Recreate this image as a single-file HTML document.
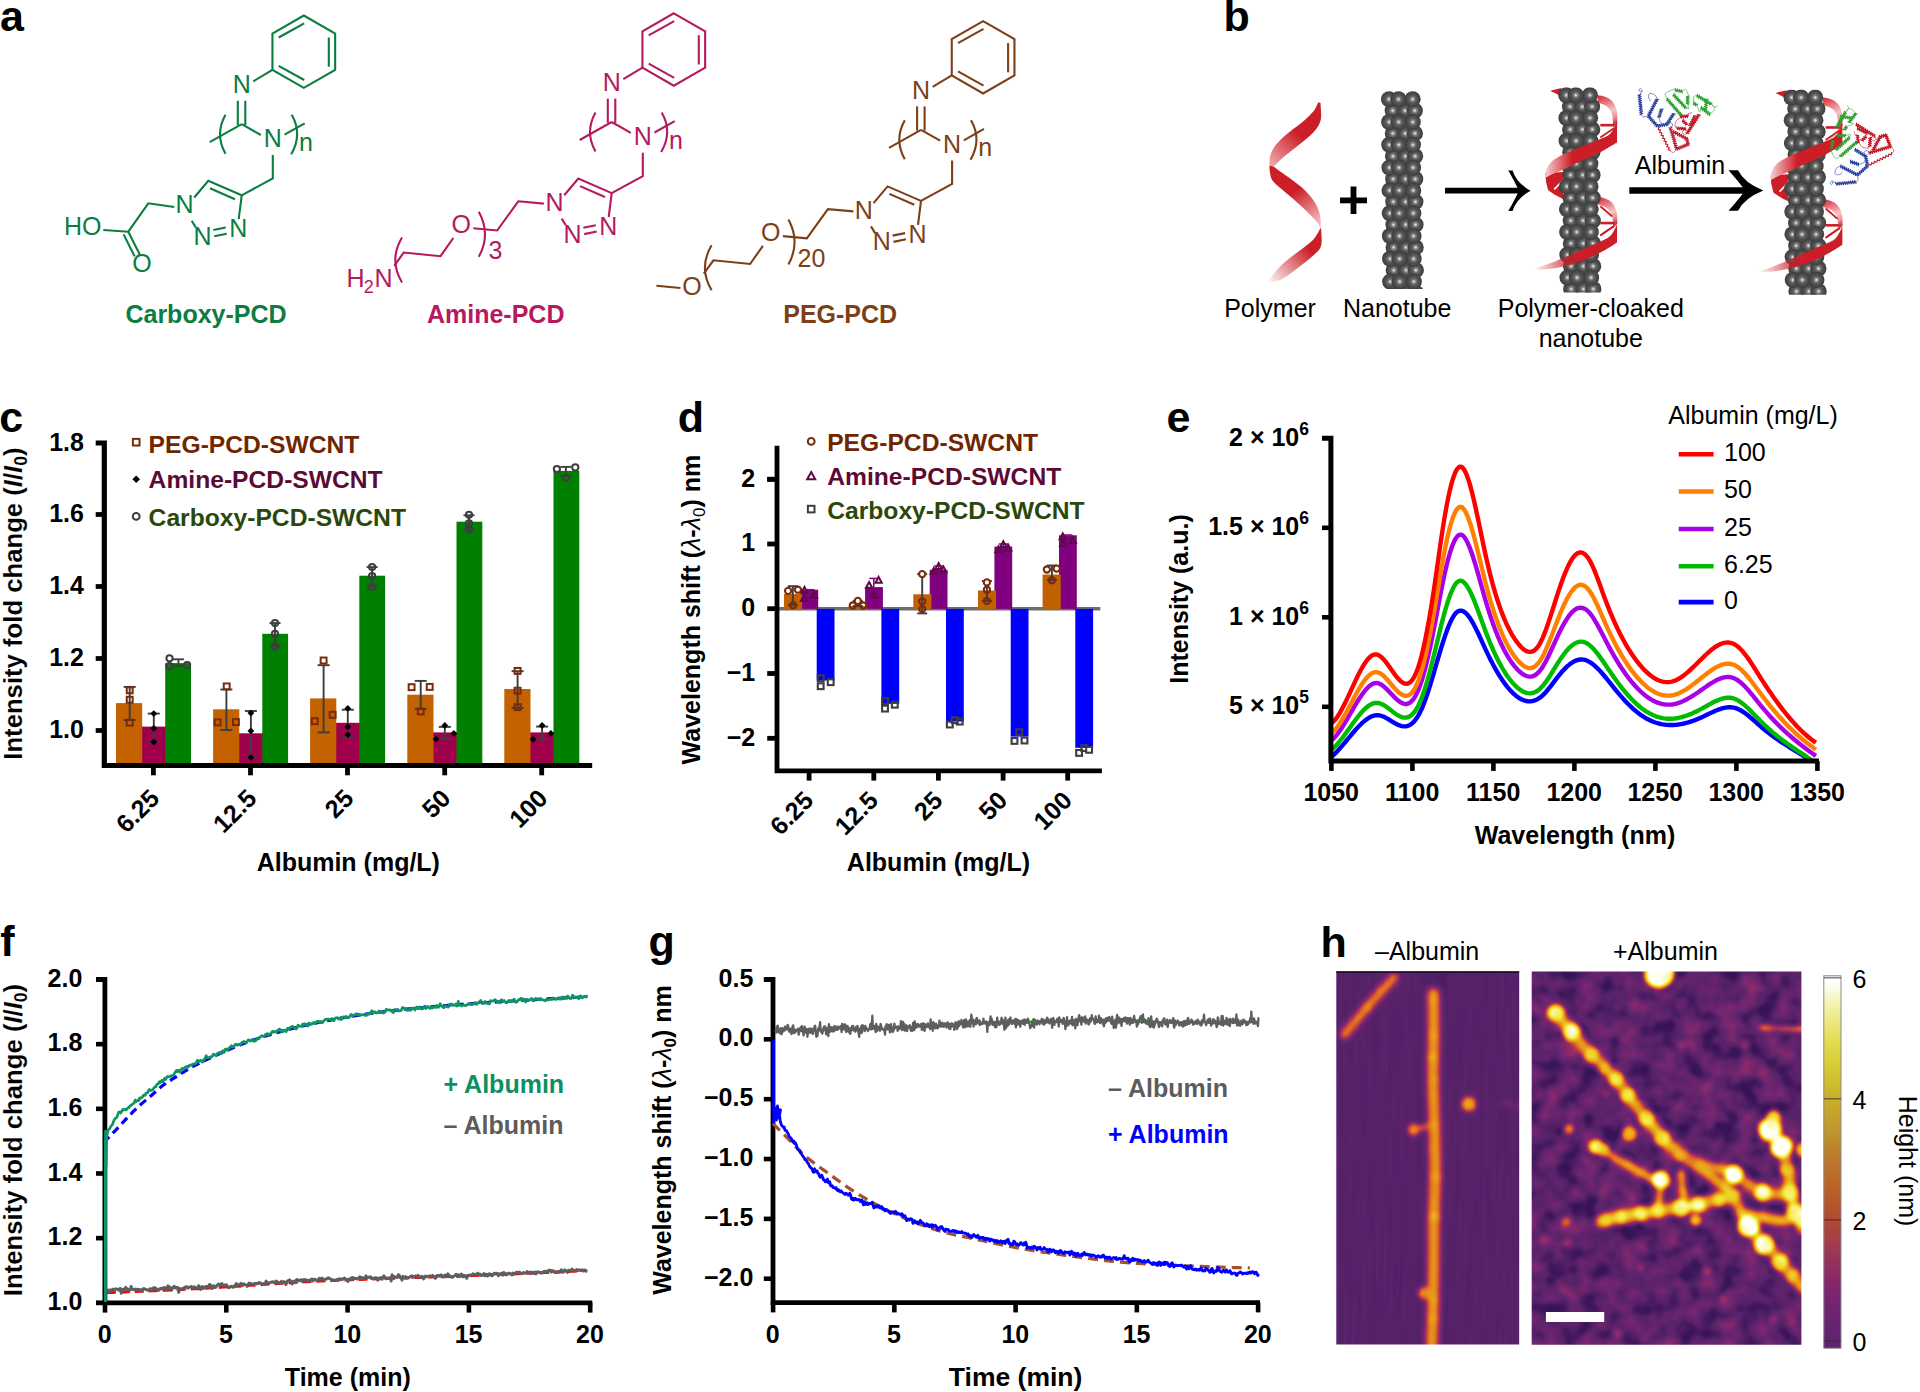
<!DOCTYPE html>
<html lang="en"><head><meta charset="utf-8"><title>Figure</title>
<style>
html,body{margin:0;padding:0;background:#fff;}
body{width:1920px;height:1392px;overflow:hidden;}
svg{display:block;font-family:'Liberation Sans', Arial, Helvetica, sans-serif;}
</style></head><body>
<svg width="1920" height="1392" viewBox="0 0 1920 1392">
<rect width="1920" height="1392" fill="#fff"/>
<g id="pa">
<text x="0" y="30.5" font-size="43" font-weight="bold" >a</text>
<g fill="none" stroke="#0b7d40" stroke-width="2.1" stroke-linejoin="miter">
<g style="fill:#0b7d40;stroke:none">
</g>
<polygon points="303.8,15.5 335.15,33.6 335.15,69.8 303.8,87.9 272.45,69.8 272.45,33.6"/>
<line x1="278.7" y1="37.5" x2="304.2" y2="23.3" />
<line x1="328.8" y1="37.5" x2="328.8" y2="66.7" />
<line x1="278.7" y1="65.8" x2="304.2" y2="80" />
<line x1="253.3" y1="81.3" x2="272.45" y2="69.8" />
<text fill="#0b7d40" stroke="none" x="241.7" y="93.15" font-size="25" text-anchor="middle" >N</text>
<line x1="237.8" y1="100.8" x2="237.8" y2="125" />
<line x1="245.3" y1="100.8" x2="245.3" y2="125" />
<line x1="241.7" y1="124.2" x2="209.7" y2="142.2" />
<line x1="241.7" y1="124.2" x2="260.8" y2="135" />
<text fill="#0b7d40" stroke="none" x="272.8" y="147.25" font-size="25" text-anchor="middle" >N</text>
<line x1="284.5" y1="134.7" x2="304.7" y2="123.3" />
<path d="M225.5 114.7Q214.5 134.2 225.5 153.7"/>
<path d="M291.7 114.7Q302.9 134.2 291.2 154.2"/>
<text fill="#0b7d40" stroke="none" x="298.9" y="150.8" font-size="25" >n</text>
<polyline points="272.8,155 272.8,178.3 241.7,195.3"/>
<polyline points="194.2,197.5 208.3,180.8 241.7,195.3"/>
<line x1="210" y1="188.3" x2="235" y2="199.2" />
<line x1="241.7" y1="195.3" x2="238.7" y2="219.2" />
<text fill="#0b7d40" stroke="none" x="184.5" y="213.15" font-size="25" text-anchor="middle" >N</text>
<text fill="#0b7d40" stroke="none" x="202.5" y="244.75" font-size="25" text-anchor="middle" >N</text>
<text fill="#0b7d40" stroke="none" x="238.3" y="237.25" font-size="25" text-anchor="middle" >N</text>
<line x1="191.7" y1="220.8" x2="195.8" y2="227.5" />
<line x1="213.3" y1="230" x2="225.8" y2="227.5" />
<line x1="214.2" y1="236.3" x2="226.7" y2="233.7" />
<polyline points="174.2,207 148.3,203.3 128.3,231.7 103.3,230"/>
<line x1="128.3" y1="231.7" x2="140" y2="255" />
<line x1="123.6" y1="234.4" x2="134.6" y2="256.4" />
<text x="101.5" y="235.1" font-size="25" text-anchor="end" fill="#0b7d40" stroke="none">HO</text>
<text fill="#0b7d40" stroke="none" x="142" y="272.25" font-size="25" text-anchor="middle" >O</text>
</g>
<text x="206" y="323.3" font-size="25" text-anchor="middle" font-weight="bold" fill="#0b7d40" >Carboxy-PCD</text>
<g fill="none" stroke="#b5195e" stroke-width="2.1">
<polygon points="673.8,13.3 705.15,31.4 705.15,67.6 673.8,85.7 642.45,67.6 642.45,31.4"/>
<line x1="648.7" y1="35.3" x2="674.2" y2="21.1" />
<line x1="698.8" y1="35.3" x2="698.8" y2="64.5" />
<line x1="648.7" y1="63.6" x2="674.2" y2="77.8" />
<line x1="623.3" y1="79.1" x2="642.45" y2="67.6" />
<text fill="#b5195e" stroke="none" x="611.7" y="90.95" font-size="25" text-anchor="middle" >N</text>
<line x1="607.8" y1="98.6" x2="607.8" y2="122.8" />
<line x1="615.3" y1="98.6" x2="615.3" y2="122.8" />
<line x1="611.7" y1="122" x2="579.7" y2="140" />
<line x1="611.7" y1="122" x2="630.8" y2="132.8" />
<text fill="#b5195e" stroke="none" x="642.8" y="145.05" font-size="25" text-anchor="middle" >N</text>
<line x1="654.5" y1="132.5" x2="674.7" y2="121.1" />
<path d="M595.5 112.5Q584.5 132 595.5 151.5"/>
<path d="M661.7 112.5Q672.9 132 661.2 152"/>
<text fill="#b5195e" stroke="none" x="668.9" y="148.6" font-size="25" >n</text>
<polyline points="642.8,152.8 642.8,176.1 611.7,193.1"/>
<polyline points="564.2,195.3 578.3,178.6 611.7,193.1"/>
<line x1="580" y1="186.1" x2="605" y2="197" />
<line x1="611.7" y1="193.1" x2="608.7" y2="217" />
<text fill="#b5195e" stroke="none" x="554.5" y="210.95" font-size="25" text-anchor="middle" >N</text>
<text fill="#b5195e" stroke="none" x="572.5" y="242.55" font-size="25" text-anchor="middle" >N</text>
<text fill="#b5195e" stroke="none" x="608.3" y="235.05" font-size="25" text-anchor="middle" >N</text>
<line x1="561.7" y1="218.6" x2="565.8" y2="225.3" />
<line x1="583.3" y1="227.8" x2="595.8" y2="225.3" />
<line x1="584.2" y1="234.1" x2="596.7" y2="231.5" />
<polyline points="543.8,203.6 518.3,201.3 497.2,230.5 473.3,228.3"/>
<text fill="#b5195e" stroke="none" x="461.2" y="233.15" font-size="25" text-anchor="middle" >O</text>
<polyline points="453.3,238 440.5,256.2 403.8,252.5 394.2,265.8"/>
<path d="M402 237.5Q388.6 260 402 282.5"/>
<path d="M478.8 211.7Q491.2 234.2 478.8 256.7"/>
<text x="488.5" y="259.2" font-size="25" fill="#b5195e" stroke="none">3</text>
<text x="346.5" y="286.7" font-size="25" fill="#b5195e" stroke="none">H</text>
<text x="363.8" y="292.7" font-size="18" fill="#b5195e" stroke="none">2</text>
<text x="374.6" y="286.7" font-size="25" fill="#b5195e" stroke="none">N</text>
</g>
<text x="495.7" y="323.3" font-size="25" text-anchor="middle" font-weight="bold" fill="#b5195e" >Amine-PCD</text>
<g fill="none" stroke="#7d3f18" stroke-width="2.1">
<polygon points="983.1,21.1 1014.45,39.2 1014.45,75.4 983.1,93.5 951.75,75.4 951.75,39.2"/>
<line x1="958" y1="43.1" x2="983.5" y2="28.9" />
<line x1="1008.1" y1="43.1" x2="1008.1" y2="72.3" />
<line x1="958" y1="71.4" x2="983.5" y2="85.6" />
<line x1="932.6" y1="86.9" x2="951.75" y2="75.4" />
<text fill="#7d3f18" stroke="none" x="921" y="98.75" font-size="25" text-anchor="middle" >N</text>
<line x1="917.1" y1="106.4" x2="917.1" y2="130.6" />
<line x1="924.6" y1="106.4" x2="924.6" y2="130.6" />
<line x1="921" y1="129.8" x2="889" y2="147.8" />
<line x1="921" y1="129.8" x2="940.1" y2="140.6" />
<text fill="#7d3f18" stroke="none" x="952.1" y="152.85" font-size="25" text-anchor="middle" >N</text>
<line x1="963.8" y1="140.3" x2="984" y2="128.9" />
<path d="M904.8 120.3Q893.8 139.8 904.8 159.3"/>
<path d="M971 120.3Q982.2 139.8 970.5 159.8"/>
<text fill="#7d3f18" stroke="none" x="978.2" y="156.4" font-size="25" >n</text>
<polyline points="952.1,160.6 952.1,183.9 921,200.9"/>
<polyline points="873.5,203.1 887.6,186.4 921,200.9"/>
<line x1="889.3" y1="193.9" x2="914.3" y2="204.8" />
<line x1="921" y1="200.9" x2="918" y2="224.8" />
<text fill="#7d3f18" stroke="none" x="863.8" y="218.75" font-size="25" text-anchor="middle" >N</text>
<text fill="#7d3f18" stroke="none" x="881.8" y="250.35" font-size="25" text-anchor="middle" >N</text>
<text fill="#7d3f18" stroke="none" x="917.6" y="242.85" font-size="25" text-anchor="middle" >N</text>
<line x1="871" y1="226.4" x2="875.1" y2="233.1" />
<line x1="892.6" y1="235.6" x2="905.1" y2="233.1" />
<line x1="893.5" y1="241.9" x2="906" y2="239.3" />
<polyline points="853.4,211.4 827.9,209.1 806.8,238.3 782.9,236.1"/>
<text fill="#7d3f18" stroke="none" x="770.8" y="240.95" font-size="25" text-anchor="middle" >O</text>
<polyline points="762.9,245.8 750.1,264 713.4,260.3 703.8,273.6"/>
<path d="M711.6 245.3Q698.2 267.8 711.6 290.3"/>
<path d="M788.4 219.5Q800.8 242 788.4 264.5"/>
<text x="797.6" y="267.2" font-size="25" fill="#7d3f18" stroke="none">20</text>
<text fill="#7d3f18" stroke="none" x="692.1" y="295.35" font-size="25" text-anchor="middle" >O</text>
<line x1="680.5" y1="288" x2="656.4" y2="285.8" />
</g>
<text x="840.2" y="322.7" font-size="25" text-anchor="middle" font-weight="bold" fill="#7d3f18" >PEG-PCD</text>
</g>
<g id="pb">
<defs>
<radialGradient id="sph" cx="0.5" cy="0.5" r="0.5" fx="0.5" fy="0.5"><stop offset="0" stop-color="#f4f4f4"/><stop offset="0.1" stop-color="#c6c6c6"/><stop offset="0.26" stop-color="#7e7e7e"/><stop offset="0.5" stop-color="#555555"/><stop offset="0.8" stop-color="#474747"/><stop offset="1" stop-color="#3b3b3b"/></radialGradient>
<linearGradient id="rs1" gradientUnits="userSpaceOnUse" x1="1270" y1="165" x2="1300" y2="135"><stop offset="0" stop-color="#f0a8ae"/><stop offset="1" stop-color="#cc1e26"/></linearGradient>
<linearGradient id="rs2" gradientUnits="userSpaceOnUse" x1="1296" y1="190" x2="1321" y2="222"><stop offset="0" stop-color="#cc1e26"/><stop offset="1" stop-color="#f4bcc1"/></linearGradient>
<linearGradient id="rs3" gradientUnits="userSpaceOnUse" x1="1268" y1="284" x2="1308" y2="248"><stop offset="0" stop-color="#cc1e26" stop-opacity="0"/><stop offset="1" stop-color="#cc1e26"/></linearGradient>
<linearGradient id="fr1_0" gradientUnits="userSpaceOnUse" x1="1546" y1="0" x2="1572" y2="0"><stop offset="0" stop-color="#f7c9cd"/><stop offset="1" stop-color="#cc1e26"/></linearGradient>
<linearGradient id="fr2_0" gradientUnits="userSpaceOnUse" x1="1533" y1="0" x2="1578" y2="0"><stop offset="0" stop-color="#cc1e26" stop-opacity="0"/><stop offset="1" stop-color="#cc1e26"/></linearGradient>
<linearGradient id="fr1_1" gradientUnits="userSpaceOnUse" x1="1771.3" y1="0" x2="1797.3" y2="0"><stop offset="0" stop-color="#f7c9cd"/><stop offset="1" stop-color="#cc1e26"/></linearGradient>
<linearGradient id="fr2_1" gradientUnits="userSpaceOnUse" x1="1758.3" y1="0" x2="1803.3" y2="0"><stop offset="0" stop-color="#cc1e26" stop-opacity="0"/><stop offset="1" stop-color="#cc1e26"/></linearGradient>
<linearGradient id="blg0" x1="0" y1="0" x2="0.25" y2="1"><stop offset="0" stop-color="#d02a34"/><stop offset="0.3" stop-color="#e4757c"/><stop offset="0.62" stop-color="#f6c6ca"/><stop offset="0.85" stop-color="#e88d93"/><stop offset="1" stop-color="#d23a43"/></linearGradient>
<linearGradient id="blg1" x1="0" y1="0" x2="0.25" y2="1"><stop offset="0" stop-color="#d02a34"/><stop offset="0.3" stop-color="#e4757c"/><stop offset="0.62" stop-color="#f6c6ca"/><stop offset="0.85" stop-color="#e88d93"/><stop offset="1" stop-color="#d23a43"/></linearGradient>
<clipPath id="tclip0"><rect x="-30" y="-9" width="60" height="198.8"/></clipPath>
<clipPath id="tclip"><rect x="-30" y="-8" width="60" height="205.3"/></clipPath>
</defs>
<text x="1223.5" y="30.5" font-size="43" font-weight="bold" >b</text>
<path d="M1318.3 102.13C1317.46 103.72 1315.93 108.25 1313.24 111.62C1310.55 114.99 1306.65 118.55 1302.17 122.37C1297.69 126.19 1290.84 130.67 1286.36 134.55C1281.88 138.42 1277.98 142.06 1275.3 145.61C1272.61 149.17 1271.21 152.6 1270.24 155.89C1269.26 159.18 1269.58 163.79 1269.45 165.38L1273.72 166.64C1275.03 165.32 1277.67 162.16 1281.62 158.74C1285.57 155.31 1292.16 150.46 1297.43 146.09C1302.7 141.71 1309.37 136.79 1313.24 132.49C1317.11 128.19 1319.46 125.24 1320.67 120.32C1321.88 115.39 1320.54 105.82 1320.51 102.92Z" fill="url(#rs1)"/>
<path d="M1273.72 166.64C1276.35 168.54 1284.26 174.02 1289.53 178.02C1294.8 182.03 1300.86 186.19 1305.34 190.67C1309.82 195.15 1313.9 200.42 1316.4 204.9C1318.91 209.38 1319.64 213.73 1320.36 217.55C1321.07 221.37 1320.62 226.11 1320.67 227.83L1320.67 228.62C1319.96 227.43 1318.96 224.61 1316.4 221.5C1313.85 218.39 1309.82 214.26 1305.34 209.96C1300.86 205.67 1294.8 200.4 1289.53 195.73C1284.26 191.07 1276.93 185.59 1273.72 181.98C1270.5 178.37 1270.95 176.84 1270.24 174.07C1269.53 171.3 1269.58 166.82 1269.45 165.38Z" fill="url(#rs2)"/>
<path d="M1320.67 227.83C1319.43 229.8 1317.11 235.6 1313.24 239.68C1309.37 243.77 1302.7 248.12 1297.43 252.33C1292.16 256.55 1286.63 260.08 1281.62 264.98C1276.61 269.88 1269.76 278.95 1267.39 281.74L1267.39 282.85C1269.76 282.24 1276.61 281.66 1281.62 279.21C1286.63 276.76 1292.16 272.09 1297.43 268.14C1302.7 264.19 1309.31 259.18 1313.24 255.49C1317.17 251.81 1319.64 250.22 1320.99 246.01C1322.33 241.79 1321.25 232.83 1321.3 230.2Z" fill="url(#rs3)"/>
<line x1="1340" y1="200.4" x2="1367" y2="200.4" stroke="#000" stroke-width="5.8"/>
<line x1="1353.5" y1="186.5" x2="1353.5" y2="214" stroke="#000" stroke-width="5.8"/>
<g transform="translate(1403 99.2)" clip-path="url(#tclip0)"><g>
<circle cx="-10.3" cy="11.4" r="8.05" fill="url(#sph)"/>
<circle cx="2" cy="11.4" r="8.05" fill="url(#sph)"/>
<circle cx="11.8" cy="11.4" r="8.05" fill="url(#sph)"/>
<circle cx="-10.15" cy="34.2" r="8.05" fill="url(#sph)"/>
<circle cx="2.15" cy="34.2" r="8.05" fill="url(#sph)"/>
<circle cx="11.95" cy="34.2" r="8.05" fill="url(#sph)"/>
<circle cx="-10" cy="57" r="8.05" fill="url(#sph)"/>
<circle cx="2.3" cy="57" r="8.05" fill="url(#sph)"/>
<circle cx="12.1" cy="57" r="8.05" fill="url(#sph)"/>
<circle cx="-9.85" cy="79.8" r="8.05" fill="url(#sph)"/>
<circle cx="2.45" cy="79.8" r="8.05" fill="url(#sph)"/>
<circle cx="12.25" cy="79.8" r="8.05" fill="url(#sph)"/>
<circle cx="-9.7" cy="102.6" r="8.05" fill="url(#sph)"/>
<circle cx="2.6" cy="102.6" r="8.05" fill="url(#sph)"/>
<circle cx="12.4" cy="102.6" r="8.05" fill="url(#sph)"/>
<circle cx="-9.55" cy="125.4" r="8.05" fill="url(#sph)"/>
<circle cx="2.75" cy="125.4" r="8.05" fill="url(#sph)"/>
<circle cx="12.55" cy="125.4" r="8.05" fill="url(#sph)"/>
<circle cx="-9.4" cy="148.2" r="8.05" fill="url(#sph)"/>
<circle cx="2.9" cy="148.2" r="8.05" fill="url(#sph)"/>
<circle cx="12.7" cy="148.2" r="8.05" fill="url(#sph)"/>
<circle cx="-9.25" cy="171" r="8.05" fill="url(#sph)"/>
<circle cx="3.05" cy="171" r="8.05" fill="url(#sph)"/>
<circle cx="12.85" cy="171" r="8.05" fill="url(#sph)"/>
<circle cx="-9.1" cy="193.8" r="8.05" fill="url(#sph)"/>
<circle cx="3.2" cy="193.8" r="8.05" fill="url(#sph)"/>
<circle cx="13" cy="193.8" r="8.05" fill="url(#sph)"/>
<circle cx="-14" cy="0" r="8.05" fill="url(#sph)"/>
<circle cx="9.6" cy="0" r="8.05" fill="url(#sph)"/>
<circle cx="-4.5" cy="0" r="8.05" fill="url(#sph)"/>
<circle cx="-13.85" cy="22.8" r="8.05" fill="url(#sph)"/>
<circle cx="9.75" cy="22.8" r="8.05" fill="url(#sph)"/>
<circle cx="-4.35" cy="22.8" r="8.05" fill="url(#sph)"/>
<circle cx="-13.7" cy="45.6" r="8.05" fill="url(#sph)"/>
<circle cx="9.9" cy="45.6" r="8.05" fill="url(#sph)"/>
<circle cx="-4.2" cy="45.6" r="8.05" fill="url(#sph)"/>
<circle cx="-13.55" cy="68.4" r="8.05" fill="url(#sph)"/>
<circle cx="10.05" cy="68.4" r="8.05" fill="url(#sph)"/>
<circle cx="-4.05" cy="68.4" r="8.05" fill="url(#sph)"/>
<circle cx="-13.4" cy="91.2" r="8.05" fill="url(#sph)"/>
<circle cx="10.2" cy="91.2" r="8.05" fill="url(#sph)"/>
<circle cx="-3.9" cy="91.2" r="8.05" fill="url(#sph)"/>
<circle cx="-13.25" cy="114" r="8.05" fill="url(#sph)"/>
<circle cx="10.35" cy="114" r="8.05" fill="url(#sph)"/>
<circle cx="-3.75" cy="114" r="8.05" fill="url(#sph)"/>
<circle cx="-13.1" cy="136.8" r="8.05" fill="url(#sph)"/>
<circle cx="10.5" cy="136.8" r="8.05" fill="url(#sph)"/>
<circle cx="-3.6" cy="136.8" r="8.05" fill="url(#sph)"/>
<circle cx="-12.95" cy="159.6" r="8.05" fill="url(#sph)"/>
<circle cx="10.65" cy="159.6" r="8.05" fill="url(#sph)"/>
<circle cx="-3.45" cy="159.6" r="8.05" fill="url(#sph)"/>
<circle cx="-12.8" cy="182.4" r="8.05" fill="url(#sph)"/>
<circle cx="10.8" cy="182.4" r="8.05" fill="url(#sph)"/>
<circle cx="-3.3" cy="182.4" r="8.05" fill="url(#sph)"/>
</g></g>
<line x1="1445" y1="190.7" x2="1521.68" y2="190.7" stroke="#000" stroke-width="5.8"/><path d="M1508.3 170.4L1512.5 170.4Q1516.51 182.99 1530.6 190.7Q1516.51 198.41 1512.5 211L1508.3 211Q1514.99 199.23 1519 190.7Q1514.99 182.17 1508.3 170.4Z" fill="#000"/>
<polygon points="1550.17,90.69 1561.38,87.93 1561.38,96.21" fill="#cc1e26"/>
<path d="M1597.59 95.17C1609.66 95.86 1616.9 102.76 1617.24 115.17L1617.24 123.45L1613.28 127.76L1612.76 119.14C1612.24 108.79 1606.21 104.14 1597.59 103.1Z" fill="url(#blg0)"/>
<line x1="1600.34" y1="125.17" x2="1613.97" y2="125.17" stroke="#cc1e26" stroke-width="2.6"/>
<line x1="1600.34" y1="137.59" x2="1613.97" y2="128.28" stroke="#cc1e26" stroke-width="1.8"/>
<path d="M1597.59 196.9C1609.66 197.59 1616.9 204.48 1617.24 216.9L1617.24 223.65L1613.28 227.96L1612.76 220.86C1612.24 210.52 1606.21 205.86 1597.59 204.83Z" fill="url(#blg1)"/>
<line x1="1600.34" y1="223.03" x2="1613.97" y2="223.03" stroke="#cc1e26" stroke-width="2.6"/>
<line x1="1600.34" y1="235.44" x2="1613.97" y2="226.13" stroke="#cc1e26" stroke-width="1.8"/>
<line x1="1600.34" y1="206.21" x2="1612.24" y2="216.55" stroke="#cc1e26" stroke-width="1.8"/>
<line x1="1600.34" y1="235.52" x2="1613.97" y2="226.03" stroke="#cc1e26" stroke-width="1.8"/>
<path d="M1545.34 173.1L1563.1 172.07L1563.1 198.97Q1555.34 195.52 1548.1 190.17Q1545.34 182.07 1545.34 173.1Z" fill="#cc1e26"/>
<line x1="1554.14" y1="189.31" x2="1563.1" y2="180.34" stroke="#fff" stroke-width="1.6"/>
<g transform="translate(1580.3 95.2)" clip-path="url(#tclip)"><g>
<circle cx="-10.3" cy="11.4" r="8.05" fill="url(#sph)"/>
<circle cx="2" cy="11.4" r="8.05" fill="url(#sph)"/>
<circle cx="11.8" cy="11.4" r="8.05" fill="url(#sph)"/>
<circle cx="-10.15" cy="34.2" r="8.05" fill="url(#sph)"/>
<circle cx="2.15" cy="34.2" r="8.05" fill="url(#sph)"/>
<circle cx="11.95" cy="34.2" r="8.05" fill="url(#sph)"/>
<circle cx="-10" cy="57" r="8.05" fill="url(#sph)"/>
<circle cx="2.3" cy="57" r="8.05" fill="url(#sph)"/>
<circle cx="12.1" cy="57" r="8.05" fill="url(#sph)"/>
<circle cx="-9.85" cy="79.8" r="8.05" fill="url(#sph)"/>
<circle cx="2.45" cy="79.8" r="8.05" fill="url(#sph)"/>
<circle cx="12.25" cy="79.8" r="8.05" fill="url(#sph)"/>
<circle cx="-9.7" cy="102.6" r="8.05" fill="url(#sph)"/>
<circle cx="2.6" cy="102.6" r="8.05" fill="url(#sph)"/>
<circle cx="12.4" cy="102.6" r="8.05" fill="url(#sph)"/>
<circle cx="-9.55" cy="125.4" r="8.05" fill="url(#sph)"/>
<circle cx="2.75" cy="125.4" r="8.05" fill="url(#sph)"/>
<circle cx="12.55" cy="125.4" r="8.05" fill="url(#sph)"/>
<circle cx="-9.4" cy="148.2" r="8.05" fill="url(#sph)"/>
<circle cx="2.9" cy="148.2" r="8.05" fill="url(#sph)"/>
<circle cx="12.7" cy="148.2" r="8.05" fill="url(#sph)"/>
<circle cx="-9.25" cy="171" r="8.05" fill="url(#sph)"/>
<circle cx="3.05" cy="171" r="8.05" fill="url(#sph)"/>
<circle cx="12.85" cy="171" r="8.05" fill="url(#sph)"/>
<circle cx="-9.1" cy="193.8" r="8.05" fill="url(#sph)"/>
<circle cx="3.2" cy="193.8" r="8.05" fill="url(#sph)"/>
<circle cx="13" cy="193.8" r="8.05" fill="url(#sph)"/>
<circle cx="-14" cy="0" r="8.05" fill="url(#sph)"/>
<circle cx="9.6" cy="0" r="8.05" fill="url(#sph)"/>
<circle cx="-4.5" cy="0" r="8.05" fill="url(#sph)"/>
<circle cx="-13.85" cy="22.8" r="8.05" fill="url(#sph)"/>
<circle cx="9.75" cy="22.8" r="8.05" fill="url(#sph)"/>
<circle cx="-4.35" cy="22.8" r="8.05" fill="url(#sph)"/>
<circle cx="-13.7" cy="45.6" r="8.05" fill="url(#sph)"/>
<circle cx="9.9" cy="45.6" r="8.05" fill="url(#sph)"/>
<circle cx="-4.2" cy="45.6" r="8.05" fill="url(#sph)"/>
<circle cx="-13.55" cy="68.4" r="8.05" fill="url(#sph)"/>
<circle cx="10.05" cy="68.4" r="8.05" fill="url(#sph)"/>
<circle cx="-4.05" cy="68.4" r="8.05" fill="url(#sph)"/>
<circle cx="-13.4" cy="91.2" r="8.05" fill="url(#sph)"/>
<circle cx="10.2" cy="91.2" r="8.05" fill="url(#sph)"/>
<circle cx="-3.9" cy="91.2" r="8.05" fill="url(#sph)"/>
<circle cx="-13.25" cy="114" r="8.05" fill="url(#sph)"/>
<circle cx="10.35" cy="114" r="8.05" fill="url(#sph)"/>
<circle cx="-3.75" cy="114" r="8.05" fill="url(#sph)"/>
<circle cx="-13.1" cy="136.8" r="8.05" fill="url(#sph)"/>
<circle cx="10.5" cy="136.8" r="8.05" fill="url(#sph)"/>
<circle cx="-3.6" cy="136.8" r="8.05" fill="url(#sph)"/>
<circle cx="-12.95" cy="159.6" r="8.05" fill="url(#sph)"/>
<circle cx="10.65" cy="159.6" r="8.05" fill="url(#sph)"/>
<circle cx="-3.45" cy="159.6" r="8.05" fill="url(#sph)"/>
<circle cx="-12.8" cy="182.4" r="8.05" fill="url(#sph)"/>
<circle cx="10.8" cy="182.4" r="8.05" fill="url(#sph)"/>
<circle cx="-3.3" cy="182.4" r="8.05" fill="url(#sph)"/>
</g></g>
<path d="M1617.07 121.03C1615.98 123.1 1613.62 130.34 1610.52 133.45C1607.41 136.55 1603.48 137.41 1598.45 139.66C1593.42 141.9 1586.24 144.43 1580.34 146.9C1574.45 149.37 1567.93 152.01 1563.1 154.48C1558.28 156.95 1554.31 158.91 1551.38 161.72C1548.45 164.54 1546.49 169.77 1545.52 171.38L1545.52 177.76C1546.72 177.13 1549.83 175.34 1552.76 173.97C1555.69 172.59 1558.51 171.58 1563.1 169.48C1567.7 167.39 1574.45 164.11 1580.34 161.38C1586.24 158.65 1592.33 156.26 1598.45 153.1C1604.57 149.94 1613.97 144.2 1617.07 142.41Z" fill="url(#fr1_0)"/>
<path d="M1617.07 224.31C1615.98 226.24 1613.62 232.84 1610.52 235.86C1607.41 238.88 1603.48 240.03 1598.45 242.41C1593.42 244.8 1586.24 247.59 1580.34 250.17C1574.45 252.76 1568.85 255.49 1563.1 257.93C1557.36 260.37 1551.03 262.93 1545.86 264.83C1540.69 266.72 1534.37 268.56 1532.07 269.31L1532.07 269.83C1534.37 269.74 1540.69 269.86 1545.86 269.31C1551.03 268.76 1557.36 267.87 1563.1 266.55C1568.85 265.23 1574.45 263.53 1580.34 261.38C1586.24 259.22 1594.14 255.63 1598.45 253.62C1602.76 251.61 1603.1 251.18 1606.21 249.31C1609.31 247.44 1615.26 243.56 1617.07 242.41Z" fill="url(#fr2_0)"/>
<polygon points="1775.47,92.99 1786.68,90.23 1786.68,98.51" fill="#cc1e26"/>
<path d="M1822.89 97.47C1834.96 98.16 1842.2 105.06 1842.54 117.47L1842.54 125.75L1838.58 130.06L1838.06 121.44C1837.54 111.09 1831.51 106.44 1822.89 105.4Z" fill="url(#blg0)"/>
<line x1="1825.64" y1="127.47" x2="1839.27" y2="127.47" stroke="#cc1e26" stroke-width="2.6"/>
<line x1="1825.64" y1="139.89" x2="1839.27" y2="130.58" stroke="#cc1e26" stroke-width="1.8"/>
<path d="M1822.89 199.2C1834.96 199.89 1842.2 206.78 1842.54 219.2L1842.54 225.95L1838.58 230.26L1838.06 223.16C1837.54 212.82 1831.51 208.16 1822.89 207.13Z" fill="url(#blg1)"/>
<line x1="1825.64" y1="225.33" x2="1839.27" y2="225.33" stroke="#cc1e26" stroke-width="2.6"/>
<line x1="1825.64" y1="237.74" x2="1839.27" y2="228.43" stroke="#cc1e26" stroke-width="1.8"/>
<line x1="1825.64" y1="208.51" x2="1837.54" y2="218.85" stroke="#cc1e26" stroke-width="1.8"/>
<line x1="1825.64" y1="237.82" x2="1839.27" y2="228.33" stroke="#cc1e26" stroke-width="1.8"/>
<path d="M1770.64 175.4L1788.4 174.37L1788.4 201.27Q1780.64 197.82 1773.4 192.47Q1770.64 184.37 1770.64 175.4Z" fill="#cc1e26"/>
<line x1="1779.44" y1="191.61" x2="1788.4" y2="182.64" stroke="#fff" stroke-width="1.6"/>
<g transform="translate(1805.6 97.5)" clip-path="url(#tclip)"><g>
<circle cx="-10.3" cy="11.4" r="8.05" fill="url(#sph)"/>
<circle cx="2" cy="11.4" r="8.05" fill="url(#sph)"/>
<circle cx="11.8" cy="11.4" r="8.05" fill="url(#sph)"/>
<circle cx="-10.15" cy="34.2" r="8.05" fill="url(#sph)"/>
<circle cx="2.15" cy="34.2" r="8.05" fill="url(#sph)"/>
<circle cx="11.95" cy="34.2" r="8.05" fill="url(#sph)"/>
<circle cx="-10" cy="57" r="8.05" fill="url(#sph)"/>
<circle cx="2.3" cy="57" r="8.05" fill="url(#sph)"/>
<circle cx="12.1" cy="57" r="8.05" fill="url(#sph)"/>
<circle cx="-9.85" cy="79.8" r="8.05" fill="url(#sph)"/>
<circle cx="2.45" cy="79.8" r="8.05" fill="url(#sph)"/>
<circle cx="12.25" cy="79.8" r="8.05" fill="url(#sph)"/>
<circle cx="-9.7" cy="102.6" r="8.05" fill="url(#sph)"/>
<circle cx="2.6" cy="102.6" r="8.05" fill="url(#sph)"/>
<circle cx="12.4" cy="102.6" r="8.05" fill="url(#sph)"/>
<circle cx="-9.55" cy="125.4" r="8.05" fill="url(#sph)"/>
<circle cx="2.75" cy="125.4" r="8.05" fill="url(#sph)"/>
<circle cx="12.55" cy="125.4" r="8.05" fill="url(#sph)"/>
<circle cx="-9.4" cy="148.2" r="8.05" fill="url(#sph)"/>
<circle cx="2.9" cy="148.2" r="8.05" fill="url(#sph)"/>
<circle cx="12.7" cy="148.2" r="8.05" fill="url(#sph)"/>
<circle cx="-9.25" cy="171" r="8.05" fill="url(#sph)"/>
<circle cx="3.05" cy="171" r="8.05" fill="url(#sph)"/>
<circle cx="12.85" cy="171" r="8.05" fill="url(#sph)"/>
<circle cx="-9.1" cy="193.8" r="8.05" fill="url(#sph)"/>
<circle cx="3.2" cy="193.8" r="8.05" fill="url(#sph)"/>
<circle cx="13" cy="193.8" r="8.05" fill="url(#sph)"/>
<circle cx="-14" cy="0" r="8.05" fill="url(#sph)"/>
<circle cx="9.6" cy="0" r="8.05" fill="url(#sph)"/>
<circle cx="-4.5" cy="0" r="8.05" fill="url(#sph)"/>
<circle cx="-13.85" cy="22.8" r="8.05" fill="url(#sph)"/>
<circle cx="9.75" cy="22.8" r="8.05" fill="url(#sph)"/>
<circle cx="-4.35" cy="22.8" r="8.05" fill="url(#sph)"/>
<circle cx="-13.7" cy="45.6" r="8.05" fill="url(#sph)"/>
<circle cx="9.9" cy="45.6" r="8.05" fill="url(#sph)"/>
<circle cx="-4.2" cy="45.6" r="8.05" fill="url(#sph)"/>
<circle cx="-13.55" cy="68.4" r="8.05" fill="url(#sph)"/>
<circle cx="10.05" cy="68.4" r="8.05" fill="url(#sph)"/>
<circle cx="-4.05" cy="68.4" r="8.05" fill="url(#sph)"/>
<circle cx="-13.4" cy="91.2" r="8.05" fill="url(#sph)"/>
<circle cx="10.2" cy="91.2" r="8.05" fill="url(#sph)"/>
<circle cx="-3.9" cy="91.2" r="8.05" fill="url(#sph)"/>
<circle cx="-13.25" cy="114" r="8.05" fill="url(#sph)"/>
<circle cx="10.35" cy="114" r="8.05" fill="url(#sph)"/>
<circle cx="-3.75" cy="114" r="8.05" fill="url(#sph)"/>
<circle cx="-13.1" cy="136.8" r="8.05" fill="url(#sph)"/>
<circle cx="10.5" cy="136.8" r="8.05" fill="url(#sph)"/>
<circle cx="-3.6" cy="136.8" r="8.05" fill="url(#sph)"/>
<circle cx="-12.95" cy="159.6" r="8.05" fill="url(#sph)"/>
<circle cx="10.65" cy="159.6" r="8.05" fill="url(#sph)"/>
<circle cx="-3.45" cy="159.6" r="8.05" fill="url(#sph)"/>
<circle cx="-12.8" cy="182.4" r="8.05" fill="url(#sph)"/>
<circle cx="10.8" cy="182.4" r="8.05" fill="url(#sph)"/>
<circle cx="-3.3" cy="182.4" r="8.05" fill="url(#sph)"/>
</g></g>
<path d="M1842.37 123.33C1841.28 125.4 1838.92 132.64 1835.82 135.75C1832.71 138.85 1828.78 139.71 1823.75 141.96C1818.72 144.2 1811.54 146.73 1805.64 149.2C1799.75 151.67 1793.23 154.31 1788.4 156.78C1783.58 159.25 1779.61 161.21 1776.68 164.02C1773.75 166.84 1771.79 172.07 1770.82 173.68L1770.82 180.06C1772.02 179.43 1775.13 177.64 1778.06 176.27C1780.99 174.89 1783.81 173.88 1788.4 171.78C1793 169.69 1799.75 166.41 1805.64 163.68C1811.54 160.95 1817.63 158.56 1823.75 155.4C1829.87 152.24 1839.27 146.5 1842.37 144.71Z" fill="url(#fr1_1)"/>
<path d="M1842.37 226.61C1841.28 228.54 1838.92 235.14 1835.82 238.16C1832.71 241.18 1828.78 242.33 1823.75 244.71C1818.72 247.1 1811.54 249.89 1805.64 252.47C1799.75 255.06 1794.15 257.79 1788.4 260.23C1782.66 262.67 1776.33 265.23 1771.16 267.13C1765.99 269.02 1759.67 270.86 1757.37 271.61L1757.37 272.13C1759.67 272.04 1765.99 272.16 1771.16 271.61C1776.33 271.06 1782.66 270.17 1788.4 268.85C1794.15 267.53 1799.75 265.83 1805.64 263.68C1811.54 261.52 1819.44 257.93 1823.75 255.92C1828.06 253.91 1828.4 253.48 1831.51 251.61C1834.61 249.74 1840.56 245.86 1842.37 244.71Z" fill="url(#fr2_1)"/>
<line x1="1629.3" y1="190.5" x2="1749.38" y2="190.5" stroke="#000" stroke-width="6.6"/><path d="M1728.5 170.2L1738 170.2Q1744.26 182.79 1763.3 190.5Q1744.26 198.21 1738 210.8L1728.5 210.8Q1738.94 199.03 1745.2 190.5Q1738.94 181.97 1728.5 170.2Z" fill="#000"/>
<g fill="none" stroke-linejoin="round" stroke-linecap="round">
<g stroke="#2c40a0">
<polyline points="1640.71,94.23 1638.13,95.56 1640.92,96.35 1638.34,97.68 1641.13,98.47 1638.55,99.8 1641.35,100.59 1638.77,101.91 1641.56,102.7 1638.98,104.03 1641.77,104.82 1639.19,106.15 1641.98,106.94 1639.4,108.27 1642.19,109.06 1639.61,110.38 1642.41,111.17 1639.82,112.5 1642.62,113.29 1640.04,114.62" stroke-width="1.25"/>
<polyline points="1658.38,99.59 1655.51,99.27 1657.43,101.44 1654.55,101.12 1656.47,103.29 1653.59,102.97 1655.51,105.14 1652.63,104.83 1654.55,106.99 1651.67,106.68 1653.59,108.84 1650.72,108.53 1652.64,110.7 1649.76,110.38 1651.68,112.55 1648.8,112.23 1650.72,114.4 1647.84,114.09 1649.76,116.25" stroke-width="1.25"/>
<polyline points="1663.06,109.16 1660.18,109.27 1662.42,111.08 1659.54,111.18 1661.79,112.99 1658.9,113.1 1661.15,114.91 1658.27,115.01 1660.51,116.83 1657.63,116.93" stroke-width="1.25"/>
<polyline points="1674.99,114.05 1672.13,113.52 1673.84,115.87 1670.99,115.34 1672.69,117.69 1669.84,117.16 1671.54,119.51 1668.69,118.98 1670.39,121.33 1667.54,120.8 1669.24,123.15 1666.39,122.62 1668.1,124.97" stroke-width="1.25"/>
<polyline points="1649,114.74 1647.69,117.32 1650.41,116.33 1649.1,118.92 1651.83,117.92 1650.52,120.51 1653.24,119.51 1651.93,122.1 1654.66,121.1 1653.35,123.69 1656.07,122.69 1654.76,125.28 1657.49,124.28 1656.17,126.87" stroke-width="1.25"/>
<polyline points="1656.96,124.65 1658.44,127.14 1659.03,124.3 1660.51,126.79 1661.1,123.96 1662.58,126.45 1663.17,123.61 1664.65,126.1 1665.24,123.27 1666.72,125.76 1667.31,122.92" stroke-width="1.25"/>
<path d="M1639.94 94.37C1640.33 93.79 1642.15 91.88 1642.24 90.92C1642.34 89.96 1641.09 88.72 1640.52 88.62C1639.94 88.52 1638.6 89.87 1638.79 90.34C1638.98 90.82 1641.19 91.3 1641.67 91.49" stroke-width="0.6"/>
<path d="M1657.18 98.97C1656.8 98.3 1656.13 95.85 1654.89 94.94C1653.64 94.03 1650.77 93.12 1649.71 93.51C1648.66 93.89 1648.47 96.04 1648.56 97.24C1648.66 98.44 1650 100.11 1650.29 100.69" stroke-width="0.6"/>
<path d="M1641.38 114.48C1641.71 114.87 1642.29 116.59 1643.39 116.78C1644.49 116.97 1647.22 115.82 1647.99 115.63" stroke-width="0.6"/>
<path d="M1658.91 117.36C1659.1 118.03 1659.48 120.33 1660.06 121.38C1660.63 122.43 1661.97 123.3 1662.36 123.68" stroke-width="0.6"/>
<path d="M1667.53 124.25C1668.1 123.97 1670.11 122.24 1670.98 122.53C1671.84 122.82 1673.08 125.11 1672.7 125.98C1672.32 126.84 1669.35 127.41 1668.68 127.7" stroke-width="0.6"/>
</g><g stroke="#2aa12c">
<polyline points="1675.25,88.73 1675.81,91.59 1677.39,89.14 1677.95,92 1679.52,89.55 1680.08,92.41 1681.66,89.96 1682.22,92.82" stroke-width="1.25"/>
<polyline points="1667.97,98.07 1666.64,100.65 1669.36,99.66 1668.03,102.24 1670.76,101.25 1669.43,103.83 1672.16,102.84 1670.83,105.41 1673.55,104.42 1672.22,107 1674.95,106.01 1673.62,108.59 1676.34,107.6 1675.01,110.17 1677.74,109.19 1676.41,111.76 1679.13,110.77 1677.8,113.35 1680.53,112.36 1679.2,114.94 1681.93,113.95 1680.6,116.52" stroke-width="1.25"/>
<polyline points="1674.27,93.46 1672.98,96.05 1675.68,94.99 1674.39,97.58 1677.08,96.52 1675.79,99.11 1678.49,98.05 1677.2,100.64 1679.89,99.59 1678.6,102.18 1681.3,101.12 1680.01,103.71 1682.7,102.65 1681.41,105.24 1684.1,104.18 1682.82,106.77 1685.51,105.72 1684.22,108.31 1686.91,107.25" stroke-width="1.25"/>
<polyline points="1688.99,96.09 1686.29,97.1 1688.99,98.1 1686.29,99.11 1688.99,100.11 1686.29,101.12 1688.99,102.13 1686.29,103.13 1688.99,104.14" stroke-width="1.25"/>
<polyline points="1697.53,94.36 1697.04,97.21 1699.33,95.44 1698.84,98.29 1701.13,96.51 1700.63,99.37 1702.92,97.59 1702.43,100.45 1704.72,98.67 1704.23,101.52 1706.51,99.75 1706.02,102.6 1708.31,100.83 1707.82,103.68 1710.11,101.9 1709.61,104.76 1711.9,102.98" stroke-width="1.25"/>
<polyline points="1701.67,106.51 1700.89,109.29 1703.34,107.76 1702.56,110.55 1705.02,109.01 1704.23,111.8 1706.69,110.27 1705.9,113.05 1708.36,111.52 1707.58,114.31 1710.03,112.78 1709.25,115.56" stroke-width="1.25"/>
<polyline points="1694.14,101.87 1693.5,104.69 1695.86,103.01 1695.23,105.84 1697.59,104.16" stroke-width="1.25"/>
<polyline points="1707.95,99.11 1705.15,99.92 1707.72,101.29 1704.92,102.1 1707.49,103.47 1704.69,104.28 1707.26,105.66 1704.46,106.47 1707.03,107.84 1704.23,108.65 1706.8,110.03" stroke-width="1.25"/>
<path d="M1666.95 98.97C1666.67 98.3 1665.33 96 1665.23 94.94C1665.13 93.89 1665.13 93.51 1666.38 92.64C1667.62 91.78 1671.26 90.2 1672.7 89.77C1674.14 89.34 1674.62 90.01 1675 90.06" stroke-width="0.6"/>
<path d="M1682.47 91.49C1682.95 91.11 1684.39 88.72 1685.34 89.2C1686.3 89.67 1687.84 93.22 1688.22 94.37C1688.6 95.52 1687.74 95.8 1687.64 96.09" stroke-width="0.6"/>
<path d="M1687.64 104.14C1687.84 104.9 1689.08 108.07 1688.79 108.74C1688.51 109.41 1686.4 108.26 1685.92 108.16" stroke-width="0.6"/>
<path d="M1696.84 95.52C1696.36 95.71 1694.54 95.42 1693.97 96.67C1693.39 97.91 1693.49 101.93 1693.39 102.99" stroke-width="0.6"/>
<path d="M1711.21 104.14C1711.88 104.62 1714.18 106.72 1715.23 107.01C1716.28 107.3 1717.15 106.05 1717.53 105.86" stroke-width="0.6"/>
<path d="M1696.84 105.29C1697.32 106.44 1699.04 111.8 1699.71 112.18C1700.38 112.57 1700.67 108.35 1700.86 107.59" stroke-width="0.6"/>
<path d="M1711.21 104.14C1711.78 104.9 1714.85 107.01 1714.66 108.74C1714.46 110.46 1710.82 113.52 1710.06 114.48" stroke-width="0.6"/>
</g><g stroke="#c21525">
<polyline points="1700.28,115.21 1697.42,114.66 1699.13,117.01 1696.27,116.47 1697.98,118.82 1695.13,118.27 1696.83,120.63 1693.98,120.08 1695.68,122.43 1692.83,121.89 1694.53,124.24 1691.68,123.69 1693.38,126.04 1690.53,125.5 1692.23,127.85 1689.38,127.3 1691.08,129.66 1688.23,129.11 1689.93,131.46 1687.08,130.92 1688.78,133.27 1685.93,132.72" stroke-width="1.25"/>
<polyline points="1696.32,116.24 1693.44,115.97 1695.38,118.12 1692.5,117.85 1694.44,120 1691.56,119.73 1693.5,121.88 1690.62,121.61 1692.56,123.76 1689.68,123.49 1691.62,125.64 1688.74,125.37" stroke-width="1.25"/>
<polyline points="1680.03,115.44 1681.32,118.02 1682.04,115.22 1683.33,117.8 1684.05,115.01 1685.34,117.59 1686.06,114.79 1687.36,117.37 1688.07,114.58" stroke-width="1.25"/>
<polyline points="1683.43,119.28 1682.28,121.95 1684.96,120.81 1683.82,123.48 1686.49,122.34 1685.35,125.02 1688.02,123.87" stroke-width="1.25"/>
<polyline points="1676.81,126.93 1677.66,129.69 1678.85,127.06 1679.71,129.81 1680.9,127.18 1681.75,129.94 1682.94,127.31 1683.79,130.07 1684.98,127.44 1685.84,130.2" stroke-width="1.25"/>
<polyline points="1671.7,127.32 1669.41,129.1 1672.3,129.34 1670.01,131.12 1672.9,131.37 1670.61,133.15 1673.5,133.39 1671.22,135.17 1674.1,135.42 1671.82,137.2 1674.71,137.44 1672.42,139.22 1675.31,139.47 1673.02,141.25 1675.91,141.49 1673.62,143.27 1676.51,143.52 1674.23,145.3 1677.12,145.54 1674.83,147.33 1677.72,147.57 1675.43,149.35" stroke-width="1.25"/>
<polyline points="1673.9,130.53 1673.6,133.41 1675.79,131.51 1675.48,134.4 1677.68,132.5 1677.37,135.38 1679.57,133.48 1679.26,136.37 1681.45,134.47 1681.15,137.35 1683.34,135.45 1683.04,138.34 1685.23,136.44 1684.93,139.32 1687.12,137.42" stroke-width="1.25"/>
<polyline points="1687.79,138.23 1685.49,139.97 1688.36,140.15 1686.06,141.88 1688.94,142.06 1686.64,143.8 1689.51,143.98" stroke-width="1.25"/>
<polyline points="1688.72,145.62 1686.76,143.5 1686.8,146.39 1684.84,144.26 1684.89,147.15 1682.93,145.03 1682.97,147.92 1681.01,145.8 1681.06,148.69 1679.1,146.56 1679.14,149.45 1677.18,147.33 1677.23,150.22" stroke-width="1.25"/>
<polyline points="1659.23,127.25 1658.16,129.59 1660.66,130.13 1659.59,132.46 1662.1,133 1661.03,135.33 1663.54,135.87 1662.47,138.21 1664.97,138.75 1663.9,141.08 1666.41,141.62 1665.34,143.95 1667.85,144.5 1666.78,146.83 1669.29,147.37 1668.21,149.7 1670.72,150.24" stroke-width="1.1"/>
<path d="M1682.47 116.78C1681.51 117.36 1677.97 118.7 1676.72 120.23C1675.48 121.76 1675 124.64 1675 125.98C1675 127.32 1676.44 127.89 1676.72 128.28" stroke-width="0.6"/>
<path d="M1687.07 133.45C1686.59 133.64 1684.96 134.89 1684.2 134.6C1683.43 134.31 1682.18 132.68 1682.47 131.72C1682.76 130.77 1685.34 129.33 1685.92 128.85" stroke-width="0.6"/>
<path d="M1669.83 150.69C1670.4 150.98 1672.13 152.7 1673.28 152.41C1674.43 152.13 1676.15 149.54 1676.72 148.97" stroke-width="0.6"/>
<path d="M1691.67 112.76C1691.09 112.95 1688.79 113.38 1688.22 113.91C1687.64 114.43 1688.22 115.58 1688.22 115.92" stroke-width="0.6"/>
</g></g>
<g transform="translate(1861.65 147.6) rotate(-90) translate(-1675.7 -120.2)"><g fill="none" stroke-linejoin="round" stroke-linecap="round">
<g stroke="#2c40a0">
<polyline points="1640.71,94.23 1638.13,95.56 1640.92,96.35 1638.34,97.68 1641.13,98.47 1638.55,99.8 1641.35,100.59 1638.77,101.91 1641.56,102.7 1638.98,104.03 1641.77,104.82 1639.19,106.15 1641.98,106.94 1639.4,108.27 1642.19,109.06 1639.61,110.38 1642.41,111.17 1639.82,112.5 1642.62,113.29 1640.04,114.62" stroke-width="1.25"/>
<polyline points="1658.38,99.59 1655.51,99.27 1657.43,101.44 1654.55,101.12 1656.47,103.29 1653.59,102.97 1655.51,105.14 1652.63,104.83 1654.55,106.99 1651.67,106.68 1653.59,108.84 1650.72,108.53 1652.64,110.7 1649.76,110.38 1651.68,112.55 1648.8,112.23 1650.72,114.4 1647.84,114.09 1649.76,116.25" stroke-width="1.25"/>
<polyline points="1663.06,109.16 1660.18,109.27 1662.42,111.08 1659.54,111.18 1661.79,112.99 1658.9,113.1 1661.15,114.91 1658.27,115.01 1660.51,116.83 1657.63,116.93" stroke-width="1.25"/>
<polyline points="1674.99,114.05 1672.13,113.52 1673.84,115.87 1670.99,115.34 1672.69,117.69 1669.84,117.16 1671.54,119.51 1668.69,118.98 1670.39,121.33 1667.54,120.8 1669.24,123.15 1666.39,122.62 1668.1,124.97" stroke-width="1.25"/>
<polyline points="1649,114.74 1647.69,117.32 1650.41,116.33 1649.1,118.92 1651.83,117.92 1650.52,120.51 1653.24,119.51 1651.93,122.1 1654.66,121.1 1653.35,123.69 1656.07,122.69 1654.76,125.28 1657.49,124.28 1656.17,126.87" stroke-width="1.25"/>
<polyline points="1656.96,124.65 1658.44,127.14 1659.03,124.3 1660.51,126.79 1661.1,123.96 1662.58,126.45 1663.17,123.61 1664.65,126.1 1665.24,123.27 1666.72,125.76 1667.31,122.92" stroke-width="1.25"/>
<path d="M1639.94 94.37C1640.33 93.79 1642.15 91.88 1642.24 90.92C1642.34 89.96 1641.09 88.72 1640.52 88.62C1639.94 88.52 1638.6 89.87 1638.79 90.34C1638.98 90.82 1641.19 91.3 1641.67 91.49" stroke-width="0.6"/>
<path d="M1657.18 98.97C1656.8 98.3 1656.13 95.85 1654.89 94.94C1653.64 94.03 1650.77 93.12 1649.71 93.51C1648.66 93.89 1648.47 96.04 1648.56 97.24C1648.66 98.44 1650 100.11 1650.29 100.69" stroke-width="0.6"/>
<path d="M1641.38 114.48C1641.71 114.87 1642.29 116.59 1643.39 116.78C1644.49 116.97 1647.22 115.82 1647.99 115.63" stroke-width="0.6"/>
<path d="M1658.91 117.36C1659.1 118.03 1659.48 120.33 1660.06 121.38C1660.63 122.43 1661.97 123.3 1662.36 123.68" stroke-width="0.6"/>
<path d="M1667.53 124.25C1668.1 123.97 1670.11 122.24 1670.98 122.53C1671.84 122.82 1673.08 125.11 1672.7 125.98C1672.32 126.84 1669.35 127.41 1668.68 127.7" stroke-width="0.6"/>
</g><g stroke="#2aa12c">
<polyline points="1675.25,88.73 1675.81,91.59 1677.39,89.14 1677.95,92 1679.52,89.55 1680.08,92.41 1681.66,89.96 1682.22,92.82" stroke-width="1.25"/>
<polyline points="1667.97,98.07 1666.64,100.65 1669.36,99.66 1668.03,102.24 1670.76,101.25 1669.43,103.83 1672.16,102.84 1670.83,105.41 1673.55,104.42 1672.22,107 1674.95,106.01 1673.62,108.59 1676.34,107.6 1675.01,110.17 1677.74,109.19 1676.41,111.76 1679.13,110.77 1677.8,113.35 1680.53,112.36 1679.2,114.94 1681.93,113.95 1680.6,116.52" stroke-width="1.25"/>
<polyline points="1674.27,93.46 1672.98,96.05 1675.68,94.99 1674.39,97.58 1677.08,96.52 1675.79,99.11 1678.49,98.05 1677.2,100.64 1679.89,99.59 1678.6,102.18 1681.3,101.12 1680.01,103.71 1682.7,102.65 1681.41,105.24 1684.1,104.18 1682.82,106.77 1685.51,105.72 1684.22,108.31 1686.91,107.25" stroke-width="1.25"/>
<polyline points="1688.99,96.09 1686.29,97.1 1688.99,98.1 1686.29,99.11 1688.99,100.11 1686.29,101.12 1688.99,102.13 1686.29,103.13 1688.99,104.14" stroke-width="1.25"/>
<polyline points="1697.53,94.36 1697.04,97.21 1699.33,95.44 1698.84,98.29 1701.13,96.51 1700.63,99.37 1702.92,97.59 1702.43,100.45 1704.72,98.67 1704.23,101.52 1706.51,99.75 1706.02,102.6 1708.31,100.83 1707.82,103.68 1710.11,101.9 1709.61,104.76 1711.9,102.98" stroke-width="1.25"/>
<polyline points="1701.67,106.51 1700.89,109.29 1703.34,107.76 1702.56,110.55 1705.02,109.01 1704.23,111.8 1706.69,110.27 1705.9,113.05 1708.36,111.52 1707.58,114.31 1710.03,112.78 1709.25,115.56" stroke-width="1.25"/>
<polyline points="1694.14,101.87 1693.5,104.69 1695.86,103.01 1695.23,105.84 1697.59,104.16" stroke-width="1.25"/>
<polyline points="1707.95,99.11 1705.15,99.92 1707.72,101.29 1704.92,102.1 1707.49,103.47 1704.69,104.28 1707.26,105.66 1704.46,106.47 1707.03,107.84 1704.23,108.65 1706.8,110.03" stroke-width="1.25"/>
<path d="M1666.95 98.97C1666.67 98.3 1665.33 96 1665.23 94.94C1665.13 93.89 1665.13 93.51 1666.38 92.64C1667.62 91.78 1671.26 90.2 1672.7 89.77C1674.14 89.34 1674.62 90.01 1675 90.06" stroke-width="0.6"/>
<path d="M1682.47 91.49C1682.95 91.11 1684.39 88.72 1685.34 89.2C1686.3 89.67 1687.84 93.22 1688.22 94.37C1688.6 95.52 1687.74 95.8 1687.64 96.09" stroke-width="0.6"/>
<path d="M1687.64 104.14C1687.84 104.9 1689.08 108.07 1688.79 108.74C1688.51 109.41 1686.4 108.26 1685.92 108.16" stroke-width="0.6"/>
<path d="M1696.84 95.52C1696.36 95.71 1694.54 95.42 1693.97 96.67C1693.39 97.91 1693.49 101.93 1693.39 102.99" stroke-width="0.6"/>
<path d="M1711.21 104.14C1711.88 104.62 1714.18 106.72 1715.23 107.01C1716.28 107.3 1717.15 106.05 1717.53 105.86" stroke-width="0.6"/>
<path d="M1696.84 105.29C1697.32 106.44 1699.04 111.8 1699.71 112.18C1700.38 112.57 1700.67 108.35 1700.86 107.59" stroke-width="0.6"/>
<path d="M1711.21 104.14C1711.78 104.9 1714.85 107.01 1714.66 108.74C1714.46 110.46 1710.82 113.52 1710.06 114.48" stroke-width="0.6"/>
</g><g stroke="#c21525">
<polyline points="1700.28,115.21 1697.42,114.66 1699.13,117.01 1696.27,116.47 1697.98,118.82 1695.13,118.27 1696.83,120.63 1693.98,120.08 1695.68,122.43 1692.83,121.89 1694.53,124.24 1691.68,123.69 1693.38,126.04 1690.53,125.5 1692.23,127.85 1689.38,127.3 1691.08,129.66 1688.23,129.11 1689.93,131.46 1687.08,130.92 1688.78,133.27 1685.93,132.72" stroke-width="1.25"/>
<polyline points="1696.32,116.24 1693.44,115.97 1695.38,118.12 1692.5,117.85 1694.44,120 1691.56,119.73 1693.5,121.88 1690.62,121.61 1692.56,123.76 1689.68,123.49 1691.62,125.64 1688.74,125.37" stroke-width="1.25"/>
<polyline points="1680.03,115.44 1681.32,118.02 1682.04,115.22 1683.33,117.8 1684.05,115.01 1685.34,117.59 1686.06,114.79 1687.36,117.37 1688.07,114.58" stroke-width="1.25"/>
<polyline points="1683.43,119.28 1682.28,121.95 1684.96,120.81 1683.82,123.48 1686.49,122.34 1685.35,125.02 1688.02,123.87" stroke-width="1.25"/>
<polyline points="1676.81,126.93 1677.66,129.69 1678.85,127.06 1679.71,129.81 1680.9,127.18 1681.75,129.94 1682.94,127.31 1683.79,130.07 1684.98,127.44 1685.84,130.2" stroke-width="1.25"/>
<polyline points="1671.7,127.32 1669.41,129.1 1672.3,129.34 1670.01,131.12 1672.9,131.37 1670.61,133.15 1673.5,133.39 1671.22,135.17 1674.1,135.42 1671.82,137.2 1674.71,137.44 1672.42,139.22 1675.31,139.47 1673.02,141.25 1675.91,141.49 1673.62,143.27 1676.51,143.52 1674.23,145.3 1677.12,145.54 1674.83,147.33 1677.72,147.57 1675.43,149.35" stroke-width="1.25"/>
<polyline points="1673.9,130.53 1673.6,133.41 1675.79,131.51 1675.48,134.4 1677.68,132.5 1677.37,135.38 1679.57,133.48 1679.26,136.37 1681.45,134.47 1681.15,137.35 1683.34,135.45 1683.04,138.34 1685.23,136.44 1684.93,139.32 1687.12,137.42" stroke-width="1.25"/>
<polyline points="1687.79,138.23 1685.49,139.97 1688.36,140.15 1686.06,141.88 1688.94,142.06 1686.64,143.8 1689.51,143.98" stroke-width="1.25"/>
<polyline points="1688.72,145.62 1686.76,143.5 1686.8,146.39 1684.84,144.26 1684.89,147.15 1682.93,145.03 1682.97,147.92 1681.01,145.8 1681.06,148.69 1679.1,146.56 1679.14,149.45 1677.18,147.33 1677.23,150.22" stroke-width="1.25"/>
<polyline points="1659.23,127.25 1658.16,129.59 1660.66,130.13 1659.59,132.46 1662.1,133 1661.03,135.33 1663.54,135.87 1662.47,138.21 1664.97,138.75 1663.9,141.08 1666.41,141.62 1665.34,143.95 1667.85,144.5 1666.78,146.83 1669.29,147.37 1668.21,149.7 1670.72,150.24" stroke-width="1.1"/>
<path d="M1682.47 116.78C1681.51 117.36 1677.97 118.7 1676.72 120.23C1675.48 121.76 1675 124.64 1675 125.98C1675 127.32 1676.44 127.89 1676.72 128.28" stroke-width="0.6"/>
<path d="M1687.07 133.45C1686.59 133.64 1684.96 134.89 1684.2 134.6C1683.43 134.31 1682.18 132.68 1682.47 131.72C1682.76 130.77 1685.34 129.33 1685.92 128.85" stroke-width="0.6"/>
<path d="M1669.83 150.69C1670.4 150.98 1672.13 152.7 1673.28 152.41C1674.43 152.13 1676.15 149.54 1676.72 148.97" stroke-width="0.6"/>
<path d="M1691.67 112.76C1691.09 112.95 1688.79 113.38 1688.22 113.91C1687.64 114.43 1688.22 115.58 1688.22 115.92" stroke-width="0.6"/>
</g></g></g>
<text x="1224.2" y="317" font-size="25" >Polymer</text>
<text x="1343" y="317" font-size="25" >Nanotube</text>
<text x="1590.8" y="317" font-size="25" text-anchor="middle" >Polymer-cloaked</text>
<text x="1590.8" y="346.5" font-size="25" text-anchor="middle" >nanotube</text>
<text x="1680" y="174.3" font-size="25" text-anchor="middle" >Albumin</text>
</g>
<g id="pc">
<text x="-0.7" y="431.6" font-size="43" font-weight="bold" >c</text>
<rect x="141.2" y="726.6" width="26" height="36.6" fill="#a0004b"/>
<rect x="116" y="703.1" width="26.2" height="60.1" fill="#c46200"/>
<rect x="165.2" y="663.1" width="25.8" height="100.1" fill="#008000"/>
<rect x="238.3" y="733.3" width="26" height="29.9" fill="#a0004b"/>
<rect x="213.1" y="709.3" width="26.2" height="53.9" fill="#c46200"/>
<rect x="262.3" y="633.8" width="25.8" height="129.4" fill="#008000"/>
<rect x="335.3" y="722.8" width="26" height="40.4" fill="#a0004b"/>
<rect x="310.1" y="698.4" width="26.2" height="64.8" fill="#c46200"/>
<rect x="359.3" y="575.7" width="25.8" height="187.5" fill="#008000"/>
<rect x="432.5" y="732.4" width="26" height="30.8" fill="#a0004b"/>
<rect x="407.3" y="694.7" width="26.2" height="68.5" fill="#c46200"/>
<rect x="456.5" y="521.7" width="25.8" height="241.5" fill="#008000"/>
<rect x="529.5" y="732.4" width="26" height="30.8" fill="#a0004b"/>
<rect x="504.3" y="689" width="26.2" height="74.2" fill="#c46200"/>
<rect x="553.5" y="470.9" width="25.8" height="292.3" fill="#008000"/>
<line x1="129.7" y1="686.9" x2="129.7" y2="720" stroke="#3d3d3d" stroke-width="1.9"/><line x1="123.7" y1="686.9" x2="135.7" y2="686.9" stroke="#3d3d3d" stroke-width="1.9"/><line x1="123.7" y1="720" x2="135.7" y2="720" stroke="#3d3d3d" stroke-width="1.9"/>
<rect x="126.75" y="687.35" width="5.9" height="5.9" fill="none" stroke="#7a2a0a" stroke-width="2.0"/>
<rect x="126.75" y="696.75" width="5.9" height="5.9" fill="none" stroke="#7a2a0a" stroke-width="2.0"/>
<rect x="126.75" y="719.65" width="5.9" height="5.9" fill="none" stroke="#7a2a0a" stroke-width="2.0"/>
<line x1="226.4" y1="689.5" x2="226.4" y2="730" stroke="#3d3d3d" stroke-width="1.9"/><line x1="220.4" y1="689.5" x2="232.4" y2="689.5" stroke="#3d3d3d" stroke-width="1.9"/><line x1="220.4" y1="730" x2="232.4" y2="730" stroke="#3d3d3d" stroke-width="1.9"/>
<rect x="223.75" y="683.45" width="5.9" height="5.9" fill="none" stroke="#7a2a0a" stroke-width="2.0"/>
<rect x="214.65" y="719.45" width="5.9" height="5.9" fill="none" stroke="#7a2a0a" stroke-width="2.0"/>
<rect x="232.95" y="719.15" width="5.9" height="5.9" fill="none" stroke="#7a2a0a" stroke-width="2.0"/>
<line x1="323.6" y1="665.2" x2="323.6" y2="732.4" stroke="#3d3d3d" stroke-width="1.9"/><line x1="317.6" y1="665.2" x2="329.6" y2="665.2" stroke="#3d3d3d" stroke-width="1.9"/><line x1="317.6" y1="732.4" x2="329.6" y2="732.4" stroke="#3d3d3d" stroke-width="1.9"/>
<rect x="320.65" y="657.55" width="5.9" height="5.9" fill="none" stroke="#7a2a0a" stroke-width="2.0"/>
<rect x="311.75" y="718.25" width="5.9" height="5.9" fill="none" stroke="#7a2a0a" stroke-width="2.0"/>
<rect x="329.65" y="711.85" width="5.9" height="5.9" fill="none" stroke="#7a2a0a" stroke-width="2.0"/>
<line x1="420.7" y1="680.9" x2="420.7" y2="709.1" stroke="#3d3d3d" stroke-width="1.9"/><line x1="414.7" y1="680.9" x2="426.7" y2="680.9" stroke="#3d3d3d" stroke-width="1.9"/><line x1="414.7" y1="709.1" x2="426.7" y2="709.1" stroke="#3d3d3d" stroke-width="1.9"/>
<rect x="408.65" y="684.25" width="5.9" height="5.9" fill="none" stroke="#7a2a0a" stroke-width="2.0"/>
<rect x="426.75" y="683.95" width="5.9" height="5.9" fill="none" stroke="#7a2a0a" stroke-width="2.0"/>
<rect x="417.75" y="708.45" width="5.9" height="5.9" fill="none" stroke="#7a2a0a" stroke-width="2.0"/>
<line x1="517.6" y1="671.2" x2="517.6" y2="707.9" stroke="#3d3d3d" stroke-width="1.9"/><line x1="511.6" y1="671.2" x2="523.6" y2="671.2" stroke="#3d3d3d" stroke-width="1.9"/><line x1="511.6" y1="707.9" x2="523.6" y2="707.9" stroke="#3d3d3d" stroke-width="1.9"/>
<rect x="514.65" y="667.95" width="5.9" height="5.9" fill="none" stroke="#7a2a0a" stroke-width="2.0"/>
<rect x="514.65" y="687.75" width="5.9" height="5.9" fill="none" stroke="#7a2a0a" stroke-width="2.0"/>
<rect x="514.65" y="704.15" width="5.9" height="5.9" fill="none" stroke="#7a2a0a" stroke-width="2.0"/>
<line x1="153.8" y1="713.6" x2="153.8" y2="742.1" stroke="#3d3d3d" stroke-width="1.9"/><line x1="147.8" y1="713.6" x2="159.8" y2="713.6" stroke="#3d3d3d" stroke-width="1.9"/><line x1="147.8" y1="742.1" x2="159.8" y2="742.1" stroke="#3d3d3d" stroke-width="1.9"/>
<path d="M150.4 713.6L153.8 710.2L157.2 713.6L153.8 717Z" fill="#000"/>
<path d="M150.4 728.3L153.8 724.9L157.2 728.3L153.8 731.7Z" fill="#000"/>
<path d="M150.4 742.1L153.8 738.7L157.2 742.1L153.8 745.5Z" fill="#000"/>
<line x1="250.9" y1="711" x2="250.9" y2="757.1" stroke="#3d3d3d" stroke-width="1.9"/><line x1="244.9" y1="711" x2="256.9" y2="711" stroke="#3d3d3d" stroke-width="1.9"/><line x1="244.9" y1="757.1" x2="256.9" y2="757.1" stroke="#3d3d3d" stroke-width="1.9"/>
<path d="M247.5 713.1L250.9 709.7L254.3 713.1L250.9 716.5Z" fill="#000"/>
<path d="M247.5 730.9L250.9 727.5L254.3 730.9L250.9 734.3Z" fill="#000"/>
<path d="M247.5 757.6L250.9 754.2L254.3 757.6L250.9 761Z" fill="#000"/>
<line x1="347.8" y1="709.7" x2="347.8" y2="736.9" stroke="#3d3d3d" stroke-width="1.9"/><line x1="341.8" y1="709.7" x2="353.8" y2="709.7" stroke="#3d3d3d" stroke-width="1.9"/><line x1="341.8" y1="736.9" x2="353.8" y2="736.9" stroke="#3d3d3d" stroke-width="1.9"/>
<path d="M344.4 708.4L347.8 705L351.2 708.4L347.8 711.8Z" fill="#000"/>
<path d="M344.4 726.9L347.8 723.5L351.2 726.9L347.8 730.3Z" fill="#000"/>
<path d="M344.4 734.7L347.8 731.3L351.2 734.7L347.8 738.1Z" fill="#000"/>
<line x1="444.8" y1="726.9" x2="444.8" y2="739" stroke="#3d3d3d" stroke-width="1.9"/><line x1="438.8" y1="726.9" x2="450.8" y2="726.9" stroke="#3d3d3d" stroke-width="1.9"/><line x1="438.8" y1="739" x2="450.8" y2="739" stroke="#3d3d3d" stroke-width="1.9"/>
<path d="M441.4 725.5L444.8 722.1L448.2 725.5L444.8 728.9Z" fill="#000"/>
<path d="M450.4 733.4L453.8 730L457.2 733.4L453.8 736.8Z" fill="#000"/>
<path d="M432.6 739L436 735.6L439.4 739L436 742.4Z" fill="#000"/>
<line x1="542.1" y1="726.6" x2="542.1" y2="739.3" stroke="#3d3d3d" stroke-width="1.9"/><line x1="536.1" y1="726.6" x2="548.1" y2="726.6" stroke="#3d3d3d" stroke-width="1.9"/><line x1="536.1" y1="739.3" x2="548.1" y2="739.3" stroke="#3d3d3d" stroke-width="1.9"/>
<path d="M538.7 725.5L542.1 722.1L545.5 725.5L542.1 728.9Z" fill="#000"/>
<path d="M547.5 733.4L550.9 730L554.3 733.4L550.9 736.8Z" fill="#000"/>
<path d="M529.7 739.3L533.1 735.9L536.5 739.3L533.1 742.7Z" fill="#000"/>
<line x1="178.4" y1="659.3" x2="178.4" y2="665.8" stroke="#3d3d3d" stroke-width="1.9"/><line x1="172.9" y1="659.3" x2="183.9" y2="659.3" stroke="#3d3d3d" stroke-width="1.9"/><line x1="172.9" y1="665.8" x2="183.9" y2="665.8" stroke="#3d3d3d" stroke-width="1.9"/>
<circle cx="169.5" cy="658.3" r="3.1" fill="none" stroke="#3d3d3d" stroke-width="2.0"/>
<circle cx="169.5" cy="666.2" r="3.1" fill="none" stroke="#3d3d3d" stroke-width="2.0"/>
<circle cx="187.1" cy="665.2" r="3.1" fill="none" stroke="#3d3d3d" stroke-width="2.0"/>
<line x1="275" y1="623.1" x2="275" y2="646.4" stroke="#3d3d3d" stroke-width="1.9"/><line x1="269.5" y1="623.1" x2="280.5" y2="623.1" stroke="#3d3d3d" stroke-width="1.9"/><line x1="269.5" y1="646.4" x2="280.5" y2="646.4" stroke="#3d3d3d" stroke-width="1.9"/>
<circle cx="275" cy="623.1" r="3.1" fill="none" stroke="#3d3d3d" stroke-width="2.0"/>
<circle cx="275" cy="633.8" r="3.1" fill="none" stroke="#3d3d3d" stroke-width="2.0"/>
<circle cx="275" cy="646.7" r="3.1" fill="none" stroke="#3d3d3d" stroke-width="2.0"/>
<line x1="372.1" y1="567.1" x2="372.1" y2="586.4" stroke="#3d3d3d" stroke-width="1.9"/><line x1="366.6" y1="567.1" x2="377.6" y2="567.1" stroke="#3d3d3d" stroke-width="1.9"/><line x1="366.6" y1="586.4" x2="377.6" y2="586.4" stroke="#3d3d3d" stroke-width="1.9"/>
<circle cx="372.1" cy="567.1" r="3.1" fill="none" stroke="#3d3d3d" stroke-width="2.0"/>
<circle cx="372.1" cy="576" r="3.1" fill="none" stroke="#3d3d3d" stroke-width="2.0"/>
<circle cx="372.1" cy="586.9" r="3.1" fill="none" stroke="#3d3d3d" stroke-width="2.0"/>
<line x1="469" y1="515.3" x2="469" y2="529.5" stroke="#3d3d3d" stroke-width="1.9"/><line x1="463.5" y1="515.3" x2="474.5" y2="515.3" stroke="#3d3d3d" stroke-width="1.9"/><line x1="463.5" y1="529.5" x2="474.5" y2="529.5" stroke="#3d3d3d" stroke-width="1.9"/>
<circle cx="469" cy="514.8" r="3.1" fill="none" stroke="#3d3d3d" stroke-width="2.0"/>
<circle cx="469" cy="523.4" r="3.1" fill="none" stroke="#3d3d3d" stroke-width="2.0"/>
<circle cx="469" cy="529.5" r="3.1" fill="none" stroke="#3d3d3d" stroke-width="2.0"/>
<line x1="565.9" y1="466.9" x2="565.9" y2="476" stroke="#3d3d3d" stroke-width="1.9"/><line x1="560.4" y1="466.9" x2="571.4" y2="466.9" stroke="#3d3d3d" stroke-width="1.9"/><line x1="560.4" y1="476" x2="571.4" y2="476" stroke="#3d3d3d" stroke-width="1.9"/>
<circle cx="556.9" cy="469.1" r="3.1" fill="none" stroke="#3d3d3d" stroke-width="2.0"/>
<circle cx="575.3" cy="467.4" r="3.1" fill="none" stroke="#3d3d3d" stroke-width="2.0"/>
<circle cx="565.9" cy="477.8" r="3.1" fill="none" stroke="#3d3d3d" stroke-width="2.0"/>
<path d="M95.7 443H104.3V765.5H592.2" fill="none" stroke="#000" stroke-width="5.2" stroke-linejoin="miter"/>
<line x1="95.7" y1="514.5" x2="104.3" y2="514.5" stroke="#000" stroke-width="4.8"/>
<line x1="95.7" y1="586.5" x2="104.3" y2="586.5" stroke="#000" stroke-width="4.8"/>
<line x1="95.7" y1="658.5" x2="104.3" y2="658.5" stroke="#000" stroke-width="4.8"/>
<line x1="95.7" y1="730.5" x2="104.3" y2="730.5" stroke="#000" stroke-width="4.8"/>
<line x1="153.4" y1="765.5" x2="153.4" y2="775.3" stroke="#000" stroke-width="4.8"/>
<line x1="250.5" y1="765.5" x2="250.5" y2="775.3" stroke="#000" stroke-width="4.8"/>
<line x1="347.5" y1="765.5" x2="347.5" y2="775.3" stroke="#000" stroke-width="4.8"/>
<line x1="444.7" y1="765.5" x2="444.7" y2="775.3" stroke="#000" stroke-width="4.8"/>
<line x1="541.7" y1="765.5" x2="541.7" y2="775.3" stroke="#000" stroke-width="4.8"/>
<text x="83.9" y="450.7" font-size="25" text-anchor="end" font-weight="bold" >1.8</text>
<text x="83.9" y="522.2" font-size="25" text-anchor="end" font-weight="bold" >1.6</text>
<text x="83.9" y="594.2" font-size="25" text-anchor="end" font-weight="bold" >1.4</text>
<text x="83.9" y="666.2" font-size="25" text-anchor="end" font-weight="bold" >1.2</text>
<text x="83.9" y="738.2" font-size="25" text-anchor="end" font-weight="bold" >1.0</text>
<text transform="translate(160.9 799.8) rotate(-45)" text-anchor="end" font-size="25" font-weight="bold">6.25</text>
<text transform="translate(258 799.8) rotate(-45)" text-anchor="end" font-size="25" font-weight="bold">12.5</text>
<text transform="translate(355 799.8) rotate(-45)" text-anchor="end" font-size="25" font-weight="bold">25</text>
<text transform="translate(452.2 799.8) rotate(-45)" text-anchor="end" font-size="25" font-weight="bold">50</text>
<text transform="translate(549.2 799.8) rotate(-45)" text-anchor="end" font-size="25" font-weight="bold">100</text>
<text x="348.3" y="870.8" font-size="25" text-anchor="middle" font-weight="bold" >Albumin (mg/L)</text>
<text transform="translate(21.6 603.6) rotate(-90)" text-anchor="middle" font-size="25.7" font-weight="bold" stroke="#fff" stroke-width="0.12">Intensity fold change (<tspan font-style="italic">I</tspan>/<tspan font-style="italic">I</tspan><tspan font-size="17.5" dy="5">0</tspan><tspan dy="-5">)</tspan></text>
<rect x="132.9" y="438.9" width="6.6" height="6.6" fill="none" stroke="#7a2a0a" stroke-width="2.0"/>
<text x="148.6" y="453.3" font-size="24.65" font-weight="bold" fill="#6e2600" >PEG-PCD-SWCNT</text>
<path d="M132.4 479.3L136.2 475.5L140 479.3L136.2 483.1Z" fill="#000"/>
<text x="148.6" y="488.4" font-size="24.65" font-weight="bold" fill="#5c0a34" >Amine-PCD-SWCNT</text>
<circle cx="136.2" cy="516.4" r="3.4" fill="none" stroke="#3d3d3d" stroke-width="2.0"/>
<text x="148.6" y="525.6" font-size="24.65" font-weight="bold" fill="#2a480a" >Carboxy-PCD-SWCNT</text>
</g>
<g id="pd">
<text x="677.8" y="431.7" font-size="43" font-weight="bold" >d</text>
<line x1="779" y1="608.7" x2="1100.3" y2="608.7" stroke="#6e6e6e" stroke-width="3.4"/>
<rect x="800.4" y="589.7" width="17.8" height="19.2" fill="#800080"/>
<rect x="784" y="594" width="18.1" height="14.9" fill="#c26100"/>
<rect x="816.7" y="608.9" width="17.8" height="71.6" fill="#0000ff"/>
<rect x="865.1" y="587.1" width="17.8" height="21.8" fill="#800080"/>
<rect x="848.7" y="606" width="18.1" height="2.9" fill="#c26100"/>
<rect x="881.4" y="608.9" width="17.8" height="94.9" fill="#0000ff"/>
<rect x="929.7" y="569.8" width="17.8" height="39.1" fill="#800080"/>
<rect x="913.3" y="594.3" width="18.1" height="14.6" fill="#c26100"/>
<rect x="946" y="608.9" width="17.8" height="112.6" fill="#0000ff"/>
<rect x="994.4" y="546.6" width="17.8" height="62.3" fill="#800080"/>
<rect x="978" y="590.5" width="18.1" height="18.4" fill="#c26100"/>
<rect x="1010.7" y="608.9" width="17.8" height="127.7" fill="#0000ff"/>
<rect x="1059" y="535.3" width="17.8" height="73.6" fill="#800080"/>
<rect x="1042.6" y="574.5" width="18.1" height="34.4" fill="#c26100"/>
<rect x="1075.3" y="608.9" width="17.8" height="138.9" fill="#0000ff"/>
<line x1="792.8" y1="586.2" x2="792.8" y2="605.2" stroke="#3d3d3d" stroke-width="1.9"/><line x1="787.8" y1="586.2" x2="797.8" y2="586.2" stroke="#3d3d3d" stroke-width="1.9"/><line x1="787.8" y1="605.2" x2="797.8" y2="605.2" stroke="#3d3d3d" stroke-width="1.9"/>
<circle cx="788.1" cy="590.9" r="3.1" fill="none" stroke="#7a2a0a" stroke-width="2.1"/>
<circle cx="797.9" cy="589.7" r="3.1" fill="#fff" stroke="#7a2a0a" stroke-width="2.1"/>
<circle cx="793.1" cy="605.2" r="3.1" fill="none" stroke="#7a2a0a" stroke-width="2.1"/>
<line x1="857.8" y1="600.9" x2="857.8" y2="606" stroke="#3d3d3d" stroke-width="1.9"/><line x1="852.8" y1="600.9" x2="862.8" y2="600.9" stroke="#3d3d3d" stroke-width="1.9"/><line x1="852.8" y1="606" x2="862.8" y2="606" stroke="#3d3d3d" stroke-width="1.9"/>
<circle cx="852.8" cy="605.5" r="3.1" fill="none" stroke="#7a2a0a" stroke-width="2.1"/>
<circle cx="857.8" cy="600.9" r="3.1" fill="#fff" stroke="#7a2a0a" stroke-width="2.1"/>
<circle cx="863.1" cy="605.5" r="3.1" fill="none" stroke="#7a2a0a" stroke-width="2.1"/>
<line x1="922.2" y1="574.1" x2="922.2" y2="613.4" stroke="#3d3d3d" stroke-width="1.9"/><line x1="917.2" y1="574.1" x2="927.2" y2="574.1" stroke="#3d3d3d" stroke-width="1.9"/><line x1="917.2" y1="613.4" x2="927.2" y2="613.4" stroke="#3d3d3d" stroke-width="1.9"/>
<circle cx="922.2" cy="574.1" r="3.1" fill="#fff" stroke="#7a2a0a" stroke-width="2.1"/>
<circle cx="922.2" cy="601.4" r="3.1" fill="none" stroke="#7a2a0a" stroke-width="2.1"/>
<circle cx="922.2" cy="609.1" r="3.1" fill="none" stroke="#7a2a0a" stroke-width="2.1"/>
<line x1="986.9" y1="581" x2="986.9" y2="600.9" stroke="#3d3d3d" stroke-width="1.9"/><line x1="981.9" y1="581" x2="991.9" y2="581" stroke="#3d3d3d" stroke-width="1.9"/><line x1="981.9" y1="600.9" x2="991.9" y2="600.9" stroke="#3d3d3d" stroke-width="1.9"/>
<circle cx="986.9" cy="582.4" r="3.1" fill="#fff" stroke="#7a2a0a" stroke-width="2.1"/>
<circle cx="986.9" cy="589.7" r="3.1" fill="none" stroke="#7a2a0a" stroke-width="2.1"/>
<circle cx="986.9" cy="600.9" r="3.1" fill="none" stroke="#7a2a0a" stroke-width="2.1"/>
<line x1="1051.9" y1="565.5" x2="1051.9" y2="580.2" stroke="#3d3d3d" stroke-width="1.9"/><line x1="1046.9" y1="565.5" x2="1056.9" y2="565.5" stroke="#3d3d3d" stroke-width="1.9"/><line x1="1046.9" y1="580.2" x2="1056.9" y2="580.2" stroke="#3d3d3d" stroke-width="1.9"/>
<circle cx="1046.9" cy="569.5" r="3.1" fill="#fff" stroke="#7a2a0a" stroke-width="2.1"/>
<circle cx="1056.7" cy="568.6" r="3.1" fill="#fff" stroke="#7a2a0a" stroke-width="2.1"/>
<circle cx="1051.9" cy="580.2" r="3.1" fill="none" stroke="#7a2a0a" stroke-width="2.1"/>
<line x1="810" y1="589.7" x2="810" y2="589.7" stroke="#800080" stroke-width="1.5"/><line x1="805.5" y1="589.7" x2="814.5" y2="589.7" stroke="#800080" stroke-width="1.5"/>
<path d="M804.5 586.9L807.63 592.68L801.37 592.68Z" fill="none" stroke="#5e0a4a" stroke-width="2.0" stroke-linejoin="miter"/>
<path d="M814 591.9L817.13 597.68L810.87 597.68Z" fill="none" stroke="#5e0a4a" stroke-width="2.0" stroke-linejoin="miter"/>
<path d="M804 595.3L807.13 601.08L800.87 601.08Z" fill="none" stroke="#5e0a4a" stroke-width="2.0" stroke-linejoin="miter"/>
<line x1="873.8" y1="578.4" x2="873.8" y2="587.1" stroke="#800080" stroke-width="1.5"/><line x1="869.3" y1="578.4" x2="878.3" y2="578.4" stroke="#800080" stroke-width="1.5"/>
<path d="M869.1 582L872.24 587.77L865.97 587.77Z" fill="none" stroke="#5e0a4a" stroke-width="2.0" stroke-linejoin="miter"/>
<path d="M878.6 576.9L881.74 582.68L875.47 582.68Z" fill="none" stroke="#5e0a4a" stroke-width="2.0" stroke-linejoin="miter"/>
<path d="M873.8 592L876.93 597.77L870.66 597.77Z" fill="none" stroke="#5e0a4a" stroke-width="2.0" stroke-linejoin="miter"/>
<line x1="938.6" y1="566" x2="938.6" y2="569.8" stroke="#800080" stroke-width="1.5"/><line x1="934.1" y1="566" x2="943.1" y2="566" stroke="#800080" stroke-width="1.5"/>
<path d="M933.8 567.9L936.93 573.68L930.66 573.68Z" fill="none" stroke="#5e0a4a" stroke-width="2.0" stroke-linejoin="miter"/>
<path d="M938.6 563.1L941.74 568.88L935.47 568.88Z" fill="none" stroke="#5e0a4a" stroke-width="2.0" stroke-linejoin="miter"/>
<path d="M943.4 566.5L946.53 572.27L940.26 572.27Z" fill="none" stroke="#5e0a4a" stroke-width="2.0" stroke-linejoin="miter"/>
<line x1="1003.3" y1="544" x2="1003.3" y2="546.6" stroke="#800080" stroke-width="1.5"/><line x1="998.8" y1="544" x2="1007.8" y2="544" stroke="#800080" stroke-width="1.5"/>
<path d="M998.4 546.4L1001.53 552.18L995.26 552.18Z" fill="none" stroke="#5e0a4a" stroke-width="2.0" stroke-linejoin="miter"/>
<path d="M1003.3 541.2L1006.43 546.98L1000.16 546.98Z" fill="none" stroke="#5e0a4a" stroke-width="2.0" stroke-linejoin="miter"/>
<path d="M1008.1 544.6L1011.24 550.38L1004.97 550.38Z" fill="none" stroke="#5e0a4a" stroke-width="2.0" stroke-linejoin="miter"/>
<line x1="1067.9" y1="535" x2="1067.9" y2="535.3" stroke="#800080" stroke-width="1.5"/><line x1="1063.4" y1="535" x2="1072.4" y2="535" stroke="#800080" stroke-width="1.5"/>
<path d="M1062.8 533.4L1065.93 539.18L1059.66 539.18Z" fill="none" stroke="#5e0a4a" stroke-width="2.0" stroke-linejoin="miter"/>
<path d="M1063.1 540.3L1066.23 546.08L1059.96 546.08Z" fill="none" stroke="#5e0a4a" stroke-width="2.0" stroke-linejoin="miter"/>
<path d="M1072.8 537.2L1075.93 542.98L1069.66 542.98Z" fill="none" stroke="#5e0a4a" stroke-width="2.0" stroke-linejoin="miter"/>
<rect x="817.8" y="675.4" width="5.8" height="5.8" fill="none" stroke="#3d3d3d" stroke-width="2.1"/>
<rect x="817.8" y="683.3" width="5.8" height="5.8" fill="#fff" stroke="#3d3d3d" stroke-width="2.1"/>
<rect x="827.8" y="679.3" width="5.8" height="5.8" fill="#fff" stroke="#3d3d3d" stroke-width="2.1"/>
<rect x="882.1" y="698.3" width="5.8" height="5.8" fill="none" stroke="#3d3d3d" stroke-width="2.1"/>
<rect x="882.1" y="705.7" width="5.8" height="5.8" fill="#fff" stroke="#3d3d3d" stroke-width="2.1"/>
<rect x="891.9" y="701.8" width="5.8" height="5.8" fill="none" stroke="#3d3d3d" stroke-width="2.1"/>
<rect x="946.9" y="721.6" width="5.8" height="5.8" fill="#fff" stroke="#3d3d3d" stroke-width="2.1"/>
<rect x="951.8" y="717.3" width="5.8" height="5.8" fill="none" stroke="#3d3d3d" stroke-width="2.1"/>
<rect x="956.8" y="718.7" width="5.8" height="5.8" fill="none" stroke="#3d3d3d" stroke-width="2.1"/>
<rect x="1016.4" y="729.3" width="5.8" height="5.8" fill="none" stroke="#3d3d3d" stroke-width="2.1"/>
<rect x="1011.6" y="738" width="5.8" height="5.8" fill="#fff" stroke="#3d3d3d" stroke-width="2.1"/>
<rect x="1021.6" y="737.6" width="5.8" height="5.8" fill="#fff" stroke="#3d3d3d" stroke-width="2.1"/>
<rect x="1076.2" y="750" width="5.8" height="5.8" fill="#fff" stroke="#3d3d3d" stroke-width="2.1"/>
<rect x="1081.4" y="745.2" width="5.8" height="5.8" fill="none" stroke="#3d3d3d" stroke-width="2.1"/>
<rect x="1086.2" y="746.9" width="5.8" height="5.8" fill="#fff" stroke="#3d3d3d" stroke-width="2.1"/>
<path d="M767.2 479.3H777" fill="none" stroke="#000" stroke-width="4.8"/>
<path d="M777 445.7V770.8H1101.9" fill="none" stroke="#000" stroke-width="4.8" stroke-linejoin="miter"/>
<line x1="767.2" y1="479.3" x2="777" y2="479.3" stroke="#000" stroke-width="4.8"/>
<line x1="767.2" y1="544" x2="777" y2="544" stroke="#000" stroke-width="4.8"/>
<line x1="767.2" y1="608.7" x2="777" y2="608.7" stroke="#000" stroke-width="4.8"/>
<line x1="767.2" y1="673.5" x2="777" y2="673.5" stroke="#000" stroke-width="4.8"/>
<line x1="767.2" y1="738.3" x2="777" y2="738.3" stroke="#000" stroke-width="4.8"/>
<line x1="809.1" y1="770.8" x2="809.1" y2="780.6" stroke="#000" stroke-width="4.8"/>
<line x1="873.8" y1="770.8" x2="873.8" y2="780.6" stroke="#000" stroke-width="4.8"/>
<line x1="938.4" y1="770.8" x2="938.4" y2="780.6" stroke="#000" stroke-width="4.8"/>
<line x1="1003.1" y1="770.8" x2="1003.1" y2="780.6" stroke="#000" stroke-width="4.8"/>
<line x1="1067.7" y1="770.8" x2="1067.7" y2="780.6" stroke="#000" stroke-width="4.8"/>
<text x="755.2" y="486.7" font-size="25" text-anchor="end" font-weight="bold" >2</text>
<text x="755.2" y="551.4" font-size="25" text-anchor="end" font-weight="bold" >1</text>
<text x="755.2" y="616.1" font-size="25" text-anchor="end" font-weight="bold" >0</text>
<text x="755.2" y="680.9" font-size="25" text-anchor="end" font-weight="bold" >−1</text>
<text x="755.2" y="745.7" font-size="25" text-anchor="end" font-weight="bold" >−2</text>
<text transform="translate(814.9 802) rotate(-45)" text-anchor="end" font-size="25" font-weight="bold">6.25</text>
<text transform="translate(879.6 802) rotate(-45)" text-anchor="end" font-size="25" font-weight="bold">12.5</text>
<text transform="translate(944.2 802) rotate(-45)" text-anchor="end" font-size="25" font-weight="bold">25</text>
<text transform="translate(1008.9 802) rotate(-45)" text-anchor="end" font-size="25" font-weight="bold">50</text>
<text transform="translate(1073.5 802) rotate(-45)" text-anchor="end" font-size="25" font-weight="bold">100</text>
<text x="938.5" y="870.5" font-size="25" text-anchor="middle" font-weight="bold" >Albumin (mg/L)</text>
<text transform="translate(700.4 609.6) rotate(-90)" text-anchor="middle" font-size="25" font-weight="bold">Wavelength shift (<tspan font-style="italic" font-weight="normal">λ</tspan>-<tspan font-style="italic" font-weight="normal">λ</tspan><tspan font-size="17" dy="5" font-weight="normal">0</tspan><tspan dy="-5">) nm</tspan></text>
<circle cx="811.2" cy="441.4" r="3.4" fill="none" stroke="#7a2a0a" stroke-width="2.0"/>
<text x="827.2" y="450.6" font-size="24.65" font-weight="bold" fill="#6e2600" >PEG-PCD-SWCNT</text>
<path d="M811.2 472L815.19 479.35L807.21 479.35Z" fill="none" stroke="#5e0a4a" stroke-width="2.0" stroke-linejoin="miter"/>
<text x="827.2" y="484.8" font-size="24.65" font-weight="bold" fill="#5c0a34" >Amine-PCD-SWCNT</text>
<rect x="807.9" y="505.8" width="6.6" height="6.6" fill="none" stroke="#3d3d3d" stroke-width="2.0"/>
<text x="827.2" y="518.9" font-size="24.65" font-weight="bold" fill="#2a480a" >Carboxy-PCD-SWCNT</text>
</g>
<g id="pe">
<text x="1166.4" y="432" font-size="43" font-weight="bold" >e</text>
<clipPath id="eclip"><rect x="1330" y="430" width="490" height="331.5"/></clipPath>
<g clip-path="url(#eclip)" fill="none" stroke-width="4.4" stroke-linejoin="round">
<polyline stroke="#0000ff" points="1331.4,756.82 1332.9,755.53 1334.4,754.14 1335.9,752.67 1337.4,751.12 1338.9,749.5 1340.4,747.83 1341.9,746.11 1343.4,744.35 1344.9,742.56 1346.4,740.75 1347.9,738.94 1349.4,737.12 1350.9,735.31 1352.4,733.53 1353.9,731.77 1355.4,730.05 1356.9,728.37 1358.4,726.75 1359.9,725.2 1361.4,723.73 1362.9,722.34 1364.4,721.04 1365.9,719.85 1367.4,718.77 1368.9,717.82 1370.4,717 1371.9,716.32 1373.4,715.79 1374.9,715.42 1376.4,715.22 1377.9,715.21 1379.4,715.38 1380.9,715.72 1382.4,716.22 1383.9,716.84 1385.4,717.57 1386.9,718.39 1388.4,719.26 1389.9,720.17 1391.4,721.1 1392.9,722.02 1394.4,722.91 1395.9,723.75 1397.4,724.52 1398.9,725.18 1400.4,725.72 1401.9,726.12 1403.4,726.35 1404.9,726.4 1406.4,726.23 1407.9,725.83 1409.4,725.19 1410.9,724.28 1412.4,723.11 1413.9,721.64 1415.4,719.88 1416.9,717.8 1418.4,715.4 1419.9,712.65 1421.4,709.54 1422.9,706.07 1424.4,702.24 1425.9,698.12 1427.4,693.72 1428.9,689.1 1430.4,684.29 1431.9,679.33 1433.4,674.27 1434.9,669.15 1436.4,664 1437.9,658.87 1439.4,653.8 1440.9,648.82 1442.4,643.98 1443.9,639.31 1445.4,634.86 1446.9,630.66 1448.4,626.75 1449.9,623.18 1451.4,619.98 1452.9,617.19 1454.4,614.86 1455.9,613.01 1457.4,611.7 1458.9,610.9 1460.4,610.6 1461.9,610.75 1463.4,611.34 1464.9,612.32 1466.4,613.66 1467.9,615.34 1469.4,617.33 1470.9,619.58 1472.4,622.07 1473.9,624.78 1475.4,627.66 1476.9,630.68 1478.4,633.82 1479.9,637.05 1481.4,640.32 1482.9,643.62 1484.4,646.91 1485.9,650.15 1487.4,653.32 1488.9,656.41 1490.4,659.42 1491.9,662.33 1493.4,665.17 1494.9,667.91 1496.4,670.55 1497.9,673.11 1499.4,675.56 1500.9,677.92 1502.4,680.18 1503.9,682.34 1505.4,684.39 1506.9,686.34 1508.4,688.17 1509.9,689.9 1511.4,691.52 1512.9,693.02 1514.4,694.4 1515.9,695.67 1517.4,696.82 1518.9,697.84 1520.4,698.74 1521.9,699.52 1523.4,700.16 1524.9,700.67 1526.4,701.04 1527.9,701.27 1529.4,701.35 1530.9,701.29 1532.4,701.08 1533.9,700.72 1535.4,700.2 1536.9,699.52 1538.4,698.68 1539.9,697.67 1541.4,696.49 1542.9,695.15 1544.4,693.65 1545.9,692.02 1547.4,690.28 1548.9,688.45 1550.4,686.55 1551.9,684.6 1553.4,682.62 1554.9,680.64 1556.4,678.67 1557.9,676.73 1559.4,674.84 1560.9,673.03 1562.4,671.3 1563.9,669.66 1565.4,668.12 1566.9,666.68 1568.4,665.36 1569.9,664.15 1571.4,663.07 1572.9,662.11 1574.4,661.3 1575.9,660.62 1577.4,660.1 1578.9,659.73 1580.4,659.53 1581.9,659.5 1583.4,659.64 1584.9,659.96 1586.4,660.45 1587.9,661.1 1589.4,661.9 1590.9,662.84 1592.4,663.9 1593.9,665.09 1595.4,666.39 1596.9,667.79 1598.4,669.28 1599.9,670.86 1601.4,672.51 1602.9,674.21 1604.4,675.98 1605.9,677.78 1607.4,679.62 1608.9,681.49 1610.4,683.37 1611.9,685.25 1613.4,687.13 1614.9,689 1616.4,690.84 1617.9,692.66 1619.4,694.43 1620.9,696.17 1622.4,697.87 1623.9,699.53 1625.4,701.14 1626.9,702.72 1628.4,704.25 1629.9,705.73 1631.4,707.16 1632.9,708.54 1634.4,709.87 1635.9,711.15 1637.4,712.38 1638.9,713.54 1640.4,714.65 1641.9,715.7 1643.4,716.69 1644.9,717.62 1646.4,718.49 1647.9,719.29 1649.4,720.04 1650.9,720.74 1652.4,721.37 1653.9,721.96 1655.4,722.48 1656.9,722.96 1658.4,723.38 1659.9,723.75 1661.4,724.07 1662.9,724.34 1664.4,724.56 1665.9,724.74 1667.4,724.86 1668.9,724.95 1670.4,724.98 1671.9,724.98 1673.4,724.93 1674.9,724.84 1676.4,724.71 1677.9,724.54 1679.4,724.33 1680.9,724.08 1682.4,723.8 1683.9,723.48 1685.4,723.13 1686.9,722.74 1688.4,722.32 1689.9,721.86 1691.4,721.38 1692.9,720.87 1694.4,720.32 1695.9,719.75 1697.4,719.15 1698.9,718.53 1700.4,717.88 1701.9,717.2 1703.4,716.51 1704.9,715.79 1706.4,715.06 1707.9,714.33 1709.4,713.59 1710.9,712.86 1712.4,712.15 1713.9,711.46 1715.4,710.8 1716.9,710.18 1718.4,709.59 1719.9,709.06 1721.4,708.58 1722.9,708.16 1724.4,707.82 1725.9,707.55 1727.4,707.37 1728.9,707.27 1730.4,707.27 1731.9,707.38 1733.4,707.6 1734.9,707.94 1736.4,708.4 1737.9,708.99 1739.4,709.68 1740.9,710.49 1742.4,711.38 1743.9,712.37 1745.4,713.42 1746.9,714.55 1748.4,715.74 1749.9,716.97 1751.4,718.24 1752.9,719.55 1754.4,720.87 1755.9,722.21 1757.4,723.55 1758.9,724.89 1760.4,726.21 1761.9,727.5 1763.4,728.77 1764.9,730 1766.4,731.21 1767.9,732.39 1769.4,733.55 1770.9,734.68 1772.4,735.8 1773.9,736.89 1775.4,737.95 1776.9,739.01 1778.4,740.04 1779.9,741.06 1781.4,742.06 1782.9,743.05 1784.4,744.02 1785.9,744.99 1787.4,745.94 1788.9,746.89 1790.4,747.83 1791.9,748.76 1793.4,749.69 1794.9,750.61 1796.4,751.53 1797.9,752.45 1799.4,753.38 1800.9,754.3 1802.4,755.22 1803.9,756.15 1805.4,757.09 1806.9,758.03 1808.4,758.98 1809.9,759.93 1811.4,760.9 1812.9,761.88 1814.4,762.88 1815.9,763.88"/>
<polyline stroke="#00bb00" points="1331.4,749.94 1332.9,748.66 1334.4,747.25 1335.9,745.71 1337.4,744.05 1338.9,742.3 1340.4,740.46 1341.9,738.54 1343.4,736.56 1344.9,734.53 1346.4,732.47 1347.9,730.38 1349.4,728.27 1350.9,726.17 1352.4,724.08 1353.9,722.02 1355.4,720 1356.9,718.03 1358.4,716.13 1359.9,714.3 1361.4,712.56 1362.9,710.92 1364.4,709.4 1365.9,708 1367.4,706.75 1368.9,705.64 1370.4,704.71 1371.9,703.95 1373.4,703.38 1374.9,703.01 1376.4,702.86 1377.9,702.93 1379.4,703.22 1380.9,703.72 1382.4,704.39 1383.9,705.21 1385.4,706.15 1386.9,707.19 1388.4,708.31 1389.9,709.46 1391.4,710.64 1392.9,711.81 1394.4,712.94 1395.9,714.01 1397.4,714.99 1398.9,715.86 1400.4,716.59 1401.9,717.16 1403.4,717.52 1404.9,717.67 1406.4,717.57 1407.9,717.2 1409.4,716.54 1410.9,715.57 1412.4,714.27 1413.9,712.63 1415.4,710.61 1416.9,708.21 1418.4,705.42 1419.9,702.23 1421.4,698.64 1422.9,694.63 1424.4,690.22 1425.9,685.46 1427.4,680.38 1428.9,675.01 1430.4,669.39 1431.9,663.55 1433.4,657.55 1434.9,651.42 1436.4,645.19 1437.9,638.93 1439.4,632.7 1440.9,626.58 1442.4,620.65 1443.9,614.97 1445.4,609.59 1446.9,604.55 1448.4,599.88 1449.9,595.63 1451.4,591.84 1452.9,588.55 1454.4,585.79 1455.9,583.6 1457.4,582.02 1458.9,581.05 1460.4,580.68 1461.9,580.97 1463.4,581.88 1464.9,583.3 1466.4,585.18 1467.9,587.47 1469.4,590.14 1470.9,593.14 1472.4,596.42 1473.9,599.96 1475.4,603.71 1476.9,607.61 1478.4,611.65 1479.9,615.76 1481.4,619.92 1482.9,624.07 1484.4,628.19 1485.9,632.23 1487.4,636.15 1488.9,639.94 1490.4,643.6 1491.9,647.13 1493.4,650.54 1494.9,653.82 1496.4,656.97 1497.9,659.99 1499.4,662.88 1500.9,665.64 1502.4,668.28 1503.9,670.79 1505.4,673.17 1506.9,675.43 1508.4,677.55 1509.9,679.55 1511.4,681.42 1512.9,683.16 1514.4,684.77 1515.9,686.26 1517.4,687.61 1518.9,688.84 1520.4,689.93 1521.9,690.88 1523.4,691.69 1524.9,692.34 1526.4,692.84 1527.9,693.18 1529.4,693.34 1530.9,693.28 1532.4,693.03 1533.9,692.59 1535.4,691.96 1536.9,691.13 1538.4,690.09 1539.9,688.84 1541.4,687.38 1542.9,685.7 1544.4,683.85 1545.9,681.83 1547.4,679.68 1548.9,677.42 1550.4,675.07 1551.9,672.67 1553.4,670.23 1554.9,667.77 1556.4,665.34 1557.9,662.94 1559.4,660.61 1560.9,658.37 1562.4,656.22 1563.9,654.18 1565.4,652.26 1566.9,650.46 1568.4,648.8 1569.9,647.29 1571.4,645.94 1572.9,644.75 1574.4,643.74 1575.9,642.92 1577.4,642.29 1578.9,641.86 1580.4,641.64 1581.9,641.62 1583.4,641.89 1584.9,642.37 1586.4,643.07 1587.9,643.96 1589.4,645.05 1590.9,646.33 1592.4,647.77 1593.9,649.36 1595.4,651.09 1596.9,652.93 1598.4,654.87 1599.9,656.89 1601.4,658.98 1602.9,661.12 1604.4,663.3 1605.9,665.49 1607.4,667.69 1608.9,669.89 1610.4,672.09 1611.9,674.27 1613.4,676.43 1614.9,678.56 1616.4,680.66 1617.9,682.71 1619.4,684.71 1620.9,686.67 1622.4,688.57 1623.9,690.43 1625.4,692.23 1626.9,693.99 1628.4,695.69 1629.9,697.33 1631.4,698.92 1632.9,700.46 1634.4,701.93 1635.9,703.35 1637.4,704.71 1638.9,706 1640.4,707.24 1641.9,708.41 1643.4,709.51 1644.9,710.56 1646.4,711.53 1647.9,712.44 1649.4,713.29 1650.9,714.08 1652.4,714.8 1653.9,715.46 1655.4,716.06 1656.9,716.6 1658.4,717.08 1659.9,717.5 1661.4,717.86 1662.9,718.17 1664.4,718.41 1665.9,718.6 1667.4,718.71 1668.9,718.77 1670.4,718.77 1671.9,718.71 1673.4,718.61 1674.9,718.45 1676.4,718.24 1677.9,717.98 1679.4,717.67 1680.9,717.31 1682.4,716.92 1683.9,716.47 1685.4,715.99 1686.9,715.47 1688.4,714.92 1689.9,714.33 1691.4,713.71 1692.9,713.05 1694.4,712.37 1695.9,711.66 1697.4,710.92 1698.9,710.16 1700.4,709.38 1701.9,708.58 1703.4,707.76 1704.9,706.93 1706.4,706.09 1707.9,705.25 1709.4,704.42 1710.9,703.61 1712.4,702.82 1713.9,702.06 1715.4,701.33 1716.9,700.65 1718.4,700.01 1719.9,699.44 1721.4,698.93 1722.9,698.49 1724.4,698.13 1725.9,697.86 1727.4,697.68 1728.9,697.62 1730.4,697.78 1731.9,698.06 1733.4,698.45 1734.9,698.97 1736.4,699.63 1737.9,700.41 1739.4,701.32 1740.9,702.33 1742.4,703.44 1743.9,704.65 1745.4,705.93 1746.9,707.28 1748.4,708.69 1749.9,710.15 1751.4,711.65 1752.9,713.18 1754.4,714.73 1755.9,716.29 1757.4,717.85 1758.9,719.4 1760.4,720.93 1761.9,722.43 1763.4,723.89 1764.9,725.33 1766.4,726.73 1767.9,728.11 1769.4,729.45 1770.9,730.77 1772.4,732.06 1773.9,733.32 1775.4,734.56 1776.9,735.77 1778.4,736.96 1779.9,738.13 1781.4,739.28 1782.9,740.41 1784.4,741.52 1785.9,742.62 1787.4,743.7 1788.9,744.77 1790.4,745.82 1791.9,746.86 1793.4,747.9 1794.9,748.92 1796.4,749.94 1797.9,750.95 1799.4,751.95 1800.9,752.95 1802.4,753.95 1803.9,754.95 1805.4,755.95 1806.9,756.96 1808.4,757.96 1809.9,758.98 1811.4,759.99 1812.9,761.02 1814.4,762.06 1815.9,763.11"/>
<polyline stroke="#aa00e6" points="1331.4,740.46 1332.9,739.16 1334.4,737.65 1335.9,735.97 1337.4,734.11 1338.9,732.11 1340.4,729.97 1341.9,727.72 1343.4,725.36 1344.9,722.92 1346.4,720.42 1347.9,717.86 1349.4,715.27 1350.9,712.67 1352.4,710.06 1353.9,707.48 1355.4,704.93 1356.9,702.43 1358.4,700.01 1359.9,697.67 1361.4,695.45 1362.9,693.34 1364.4,691.38 1365.9,689.57 1367.4,687.95 1368.9,686.52 1370.4,685.31 1371.9,684.33 1373.4,683.6 1374.9,683.14 1376.4,682.97 1377.9,683.18 1379.4,683.69 1380.9,684.44 1382.4,685.42 1383.9,686.58 1385.4,687.89 1386.9,689.32 1388.4,690.83 1389.9,692.4 1391.4,694 1392.9,695.58 1394.4,697.11 1395.9,698.58 1397.4,699.93 1398.9,701.15 1400.4,702.19 1401.9,703.03 1403.4,703.63 1404.9,703.96 1406.4,703.99 1407.9,703.67 1409.4,702.99 1410.9,701.92 1412.4,700.44 1413.9,698.51 1415.4,696.11 1416.9,693.22 1418.4,689.84 1419.9,685.97 1421.4,681.62 1422.9,676.78 1424.4,671.48 1425.9,665.74 1427.4,659.6 1428.9,653.07 1430.4,646.2 1431.9,639.01 1433.4,631.55 1434.9,623.86 1436.4,615.97 1437.9,607.96 1439.4,599.96 1440.9,592.1 1442.4,584.49 1443.9,577.26 1445.4,570.46 1446.9,564.14 1448.4,558.32 1449.9,553.05 1451.4,548.37 1452.9,544.31 1454.4,540.92 1455.9,538.22 1457.4,536.27 1458.9,535.06 1460.4,534.61 1461.9,534.98 1463.4,536.12 1464.9,537.94 1466.4,540.37 1467.9,543.36 1469.4,546.84 1470.9,550.76 1472.4,555.07 1473.9,559.7 1475.4,564.6 1476.9,569.71 1478.4,574.97 1479.9,580.33 1481.4,585.73 1482.9,591.12 1484.4,596.44 1485.9,601.62 1487.4,606.63 1488.9,611.44 1490.4,616.06 1491.9,620.49 1493.4,624.73 1494.9,628.79 1496.4,632.67 1497.9,636.36 1499.4,639.89 1500.9,643.24 1502.4,646.42 1503.9,649.43 1505.4,652.28 1506.9,654.97 1508.4,657.5 1509.9,659.87 1511.4,662.09 1512.9,664.16 1514.4,666.08 1515.9,667.85 1517.4,669.48 1518.9,670.97 1520.4,672.31 1521.9,673.5 1523.4,674.51 1524.9,675.35 1526.4,675.99 1527.9,676.42 1529.4,676.63 1530.9,676.6 1532.4,676.32 1533.9,675.78 1535.4,674.97 1536.9,673.87 1538.4,672.48 1539.9,670.78 1541.4,668.77 1542.9,666.49 1544.4,663.96 1545.9,661.21 1547.4,658.29 1548.9,655.22 1550.4,652.04 1551.9,648.78 1553.4,645.48 1554.9,642.18 1556.4,638.89 1557.9,635.67 1559.4,632.54 1560.9,629.52 1562.4,626.63 1563.9,623.89 1565.4,621.3 1566.9,618.9 1568.4,616.69 1569.9,614.68 1571.4,612.9 1572.9,611.36 1574.4,610.07 1575.9,609.06 1577.4,608.32 1578.9,607.86 1580.4,607.7 1581.9,607.82 1583.4,608.21 1584.9,608.9 1586.4,609.87 1587.9,611.14 1589.4,612.69 1590.9,614.51 1592.4,616.57 1593.9,618.84 1595.4,621.29 1596.9,623.89 1598.4,626.62 1599.9,629.43 1601.4,632.31 1602.9,635.21 1604.4,638.11 1605.9,640.99 1607.4,643.83 1608.9,646.63 1610.4,649.38 1611.9,652.09 1613.4,654.74 1614.9,657.34 1616.4,659.87 1617.9,662.34 1619.4,664.74 1620.9,667.08 1622.4,669.34 1623.9,671.54 1625.4,673.68 1626.9,675.74 1628.4,677.74 1629.9,679.67 1631.4,681.53 1632.9,683.32 1634.4,685.04 1635.9,686.7 1637.4,688.29 1638.9,689.8 1640.4,691.25 1641.9,692.63 1643.4,693.93 1644.9,695.16 1646.4,696.32 1647.9,697.41 1649.4,698.42 1650.9,699.35 1652.4,700.21 1653.9,701 1655.4,701.71 1656.9,702.34 1658.4,702.9 1659.9,703.39 1661.4,703.79 1662.9,704.12 1664.4,704.38 1665.9,704.55 1667.4,704.65 1668.9,704.67 1670.4,704.61 1671.9,704.47 1673.4,704.25 1674.9,703.96 1676.4,703.59 1677.9,703.15 1679.4,702.64 1680.9,702.07 1682.4,701.44 1683.9,700.75 1685.4,700.02 1686.9,699.23 1688.4,698.4 1689.9,697.53 1691.4,696.63 1692.9,695.69 1694.4,694.73 1695.9,693.74 1697.4,692.73 1698.9,691.7 1700.4,690.66 1701.9,689.61 1703.4,688.56 1704.9,687.51 1706.4,686.46 1707.9,685.44 1709.4,684.44 1710.9,683.46 1712.4,682.53 1713.9,681.65 1715.4,680.81 1716.9,680.04 1718.4,679.34 1719.9,678.71 1721.4,678.17 1722.9,677.72 1724.4,677.36 1725.9,677.11 1727.4,676.98 1728.9,676.98 1730.4,677.19 1731.9,677.54 1733.4,678.02 1734.9,678.66 1736.4,679.45 1737.9,680.4 1739.4,681.48 1740.9,682.7 1742.4,684.03 1743.9,685.47 1745.4,687 1746.9,688.62 1748.4,690.31 1749.9,692.06 1751.4,693.86 1752.9,695.69 1754.4,697.55 1755.9,699.43 1757.4,701.31 1758.9,703.18 1760.4,705.03 1761.9,706.86 1763.4,708.66 1764.9,710.42 1766.4,712.16 1767.9,713.86 1769.4,715.54 1770.9,717.19 1772.4,718.81 1773.9,720.4 1775.4,721.96 1776.9,723.5 1778.4,725.01 1779.9,726.5 1781.4,727.96 1782.9,729.39 1784.4,730.8 1785.9,732.19 1787.4,733.56 1788.9,734.9 1790.4,736.22 1791.9,737.51 1793.4,738.79 1794.9,740.05 1796.4,741.29 1797.9,742.51 1799.4,743.71 1800.9,744.89 1802.4,746.06 1803.9,747.21 1805.4,748.34 1806.9,749.46 1808.4,750.57 1809.9,751.66 1811.4,752.74 1812.9,753.81 1814.4,754.87 1815.9,755.92"/>
<polyline stroke="#ff8000" points="1331.4,733.28 1332.9,732.03 1334.4,730.54 1335.9,728.82 1337.4,726.9 1338.9,724.79 1340.4,722.53 1341.9,720.11 1343.4,717.58 1344.9,714.94 1346.4,712.23 1347.9,709.45 1349.4,706.62 1350.9,703.78 1352.4,700.94 1353.9,698.12 1355.4,695.34 1356.9,692.62 1358.4,689.98 1359.9,687.44 1361.4,685.02 1362.9,682.75 1364.4,680.64 1365.9,678.72 1367.4,677 1368.9,675.5 1370.4,674.25 1371.9,673.27 1373.4,672.58 1374.9,672.19 1376.4,672.13 1377.9,672.39 1379.4,672.97 1380.9,673.82 1382.4,674.91 1383.9,676.2 1385.4,677.66 1386.9,679.26 1388.4,680.95 1389.9,682.7 1391.4,684.48 1392.9,686.25 1394.4,687.98 1395.9,689.62 1397.4,691.15 1398.9,692.52 1400.4,693.7 1401.9,694.66 1403.4,695.36 1404.9,695.76 1406.4,695.83 1407.9,695.54 1409.4,694.85 1410.9,693.72 1412.4,692.13 1413.9,690.03 1415.4,687.4 1416.9,684.21 1418.4,680.47 1419.9,676.2 1421.4,671.38 1422.9,666.05 1424.4,660.2 1425.9,653.88 1427.4,647.09 1428.9,639.87 1430.4,632.24 1431.9,624.24 1433.4,615.9 1434.9,607.26 1436.4,598.36 1437.9,589.3 1439.4,580.24 1440.9,571.31 1442.4,562.7 1443.9,554.53 1445.4,546.87 1446.9,539.77 1448.4,533.25 1449.9,527.36 1451.4,522.14 1452.9,517.61 1454.4,513.83 1455.9,510.82 1457.4,508.63 1458.9,507.27 1460.4,506.78 1461.9,507.23 1463.4,508.62 1464.9,510.78 1466.4,513.64 1467.9,517.13 1469.4,521.19 1470.9,525.76 1472.4,530.75 1473.9,536.11 1475.4,541.77 1476.9,547.67 1478.4,553.73 1479.9,559.89 1481.4,566.08 1482.9,572.25 1484.4,578.32 1485.9,584.22 1487.4,589.91 1488.9,595.36 1490.4,600.58 1491.9,605.57 1493.4,610.33 1494.9,614.88 1496.4,619.21 1497.9,623.34 1499.4,627.26 1500.9,630.97 1502.4,634.5 1503.9,637.83 1505.4,640.98 1506.9,643.94 1508.4,646.73 1509.9,649.34 1511.4,651.79 1512.9,654.07 1514.4,656.19 1515.9,658.15 1517.4,659.96 1518.9,661.62 1520.4,663.14 1521.9,664.48 1523.4,665.64 1524.9,666.6 1526.4,667.35 1527.9,667.86 1529.4,668.12 1530.9,668.03 1532.4,667.65 1533.9,666.98 1535.4,666 1536.9,664.69 1538.4,663.02 1539.9,660.99 1541.4,658.61 1542.9,655.9 1544.4,652.9 1545.9,649.65 1547.4,646.19 1548.9,642.56 1550.4,638.79 1551.9,634.93 1553.4,631.02 1554.9,627.08 1556.4,623.17 1557.9,619.33 1559.4,615.58 1560.9,611.95 1562.4,608.46 1563.9,605.13 1565.4,601.98 1566.9,599.04 1568.4,596.32 1569.9,593.83 1571.4,591.61 1572.9,589.67 1574.4,588.03 1575.9,586.72 1577.4,585.73 1578.9,585.08 1580.4,584.78 1581.9,584.82 1583.4,585.31 1584.9,586.15 1586.4,587.35 1587.9,588.88 1589.4,590.77 1590.9,592.98 1592.4,595.48 1593.9,598.23 1595.4,601.2 1596.9,604.34 1598.4,607.61 1599.9,610.98 1601.4,614.4 1602.9,617.83 1604.4,621.24 1605.9,624.6 1607.4,627.88 1608.9,631.1 1610.4,634.24 1611.9,637.31 1613.4,640.31 1614.9,643.23 1616.4,646.07 1617.9,648.83 1619.4,651.51 1620.9,654.11 1622.4,656.63 1623.9,659.07 1625.4,661.43 1626.9,663.72 1628.4,665.92 1629.9,668.05 1631.4,670.1 1632.9,672.08 1634.4,673.98 1635.9,675.8 1637.4,677.55 1638.9,679.22 1640.4,680.82 1641.9,682.34 1643.4,683.79 1644.9,685.15 1646.4,686.44 1647.9,687.65 1649.4,688.77 1650.9,689.81 1652.4,690.77 1653.9,691.65 1655.4,692.44 1656.9,693.15 1658.4,693.77 1659.9,694.3 1661.4,694.75 1662.9,695.1 1664.4,695.37 1665.9,695.55 1667.4,695.64 1668.9,695.63 1670.4,695.53 1671.9,695.34 1673.4,695.06 1674.9,694.68 1676.4,694.21 1677.9,693.65 1679.4,693.02 1680.9,692.31 1682.4,691.53 1683.9,690.69 1685.4,689.79 1686.9,688.84 1688.4,687.84 1689.9,686.79 1691.4,685.71 1692.9,684.59 1694.4,683.45 1695.9,682.28 1697.4,681.1 1698.9,679.9 1700.4,678.7 1701.9,677.49 1703.4,676.29 1704.9,675.1 1706.4,673.93 1707.9,672.78 1709.4,671.67 1710.9,670.6 1712.4,669.58 1713.9,668.61 1715.4,667.72 1716.9,666.89 1718.4,666.14 1719.9,665.48 1721.4,664.92 1722.9,664.46 1724.4,664.11 1725.9,663.88 1727.4,663.78 1728.9,663.81 1730.4,663.95 1731.9,664.25 1733.4,664.7 1734.9,665.32 1736.4,666.11 1737.9,667.07 1739.4,668.18 1740.9,669.44 1742.4,670.83 1743.9,672.34 1745.4,673.96 1746.9,675.68 1748.4,677.47 1749.9,679.34 1751.4,681.27 1752.9,683.24 1754.4,685.25 1755.9,687.27 1757.4,689.31 1758.9,691.35 1760.4,693.36 1761.9,695.36 1763.4,697.33 1764.9,699.27 1766.4,701.19 1767.9,703.09 1769.4,704.95 1770.9,706.79 1772.4,708.61 1773.9,710.4 1775.4,712.16 1776.9,713.9 1778.4,715.61 1779.9,717.29 1781.4,718.95 1782.9,720.58 1784.4,722.18 1785.9,723.76 1787.4,725.31 1788.9,726.83 1790.4,728.32 1791.9,729.79 1793.4,731.23 1794.9,732.64 1796.4,734.03 1797.9,735.39 1799.4,736.72 1800.9,738.02 1802.4,739.3 1803.9,740.54 1805.4,741.76 1806.9,742.95 1808.4,744.11 1809.9,745.25 1811.4,746.35 1812.9,747.43 1814.4,748.48 1815.9,749.5"/>
<polyline stroke="#ff0000" points="1331.4,723.3 1332.9,722.09 1334.4,720.56 1335.9,718.75 1337.4,716.68 1338.9,714.38 1340.4,711.88 1341.9,709.18 1343.4,706.34 1344.9,703.36 1346.4,700.27 1347.9,697.1 1349.4,693.87 1350.9,690.61 1352.4,687.34 1353.9,684.09 1355.4,680.88 1356.9,677.74 1358.4,674.7 1359.9,671.77 1361.4,668.98 1362.9,666.36 1364.4,663.93 1365.9,661.72 1367.4,659.76 1368.9,658.06 1370.4,656.65 1371.9,655.56 1373.4,654.82 1374.9,654.44 1376.4,654.45 1377.9,654.86 1379.4,655.63 1380.9,656.71 1382.4,658.07 1383.9,659.66 1385.4,661.45 1386.9,663.39 1388.4,665.44 1389.9,667.56 1391.4,669.7 1392.9,671.84 1394.4,673.92 1395.9,675.91 1397.4,677.77 1398.9,679.44 1400.4,680.91 1401.9,682.11 1403.4,683.01 1404.9,683.58 1406.4,683.76 1407.9,683.52 1409.4,682.82 1410.9,681.61 1412.4,679.86 1413.9,677.52 1415.4,674.55 1416.9,670.94 1418.4,666.68 1419.9,661.81 1421.4,656.34 1422.9,650.28 1424.4,643.65 1425.9,636.48 1427.4,628.76 1428.9,620.54 1430.4,611.81 1431.9,602.63 1433.4,593.02 1434.9,583.02 1436.4,572.68 1437.9,562.1 1439.4,551.49 1440.9,541.05 1442.4,530.98 1443.9,521.47 1445.4,512.59 1446.9,504.38 1448.4,496.88 1449.9,490.12 1451.4,484.14 1452.9,478.97 1454.4,474.65 1455.9,471.23 1457.4,468.72 1458.9,467.18 1460.4,466.64 1461.9,467.12 1463.4,468.61 1464.9,471.01 1466.4,474.26 1467.9,478.26 1469.4,482.94 1470.9,488.22 1472.4,494.02 1473.9,500.26 1475.4,506.86 1476.9,513.74 1478.4,520.82 1479.9,528.02 1481.4,535.26 1482.9,542.46 1484.4,549.54 1485.9,556.43 1487.4,563.03 1488.9,569.35 1490.4,575.38 1491.9,581.13 1493.4,586.6 1494.9,591.81 1496.4,596.77 1497.9,601.46 1499.4,605.92 1500.9,610.13 1502.4,614.11 1503.9,617.87 1505.4,621.41 1506.9,624.74 1508.4,627.86 1509.9,630.78 1511.4,633.52 1512.9,636.06 1514.4,638.43 1515.9,640.63 1517.4,642.67 1518.9,644.54 1520.4,646.26 1521.9,647.79 1523.4,649.12 1524.9,650.21 1526.4,651.06 1527.9,651.63 1529.4,651.9 1530.9,651.85 1532.4,651.45 1533.9,650.69 1535.4,649.54 1536.9,647.98 1538.4,645.98 1539.9,643.53 1541.4,640.63 1542.9,637.34 1544.4,633.7 1545.9,629.76 1547.4,625.56 1548.9,621.16 1550.4,616.61 1551.9,611.94 1553.4,607.21 1554.9,602.47 1556.4,597.76 1557.9,593.14 1559.4,588.63 1560.9,584.27 1562.4,580.09 1563.9,576.1 1565.4,572.34 1566.9,568.83 1568.4,565.6 1569.9,562.66 1571.4,560.05 1572.9,557.79 1574.4,555.9 1575.9,554.42 1577.4,553.35 1578.9,552.7 1580.4,552.47 1581.9,552.65 1583.4,553.26 1584.9,554.3 1586.4,555.76 1587.9,557.64 1589.4,559.95 1590.9,562.68 1592.4,565.77 1593.9,569.17 1595.4,572.82 1596.9,576.68 1598.4,580.7 1599.9,584.81 1601.4,588.97 1602.9,593.13 1604.4,597.24 1605.9,601.24 1607.4,605.13 1608.9,608.91 1610.4,612.59 1611.9,616.16 1613.4,619.62 1614.9,622.98 1616.4,626.24 1617.9,629.4 1619.4,632.46 1620.9,635.42 1622.4,638.28 1623.9,641.04 1625.4,643.72 1626.9,646.3 1628.4,648.78 1629.9,651.18 1631.4,653.49 1632.9,655.71 1634.4,657.84 1635.9,659.89 1637.4,661.85 1638.9,663.74 1640.4,665.54 1641.9,667.25 1643.4,668.89 1644.9,670.44 1646.4,671.89 1647.9,673.26 1649.4,674.54 1650.9,675.73 1652.4,676.82 1653.9,677.81 1655.4,678.71 1656.9,679.5 1658.4,680.2 1659.9,680.79 1661.4,681.28 1662.9,681.66 1664.4,681.93 1665.9,682.09 1667.4,682.14 1668.9,682.08 1670.4,681.9 1671.9,681.6 1673.4,681.19 1674.9,680.65 1676.4,680.01 1677.9,679.25 1679.4,678.4 1680.9,677.46 1682.4,676.43 1683.9,675.32 1685.4,674.14 1686.9,672.9 1688.4,671.6 1689.9,670.26 1691.4,668.87 1692.9,667.44 1694.4,665.99 1695.9,664.52 1697.4,663.03 1698.9,661.54 1700.4,660.04 1701.9,658.56 1703.4,657.09 1704.9,655.65 1706.4,654.24 1707.9,652.87 1709.4,651.55 1710.9,650.28 1712.4,649.09 1713.9,647.96 1715.4,646.92 1716.9,645.97 1718.4,645.12 1719.9,644.37 1721.4,643.74 1722.9,643.22 1724.4,642.85 1725.9,642.61 1727.4,642.51 1728.9,642.57 1730.4,642.8 1731.9,643.2 1733.4,643.77 1734.9,644.54 1736.4,645.5 1737.9,646.65 1739.4,647.98 1740.9,649.47 1742.4,651.11 1743.9,652.89 1745.4,654.79 1746.9,656.8 1748.4,658.9 1749.9,661.09 1751.4,663.34 1752.9,665.65 1754.4,667.99 1755.9,670.36 1757.4,672.74 1758.9,675.12 1760.4,677.49 1761.9,679.83 1763.4,682.15 1764.9,684.44 1766.4,686.71 1767.9,688.96 1769.4,691.17 1770.9,693.36 1772.4,695.52 1773.9,697.65 1775.4,699.76 1776.9,701.83 1778.4,703.87 1779.9,705.88 1781.4,707.85 1782.9,709.8 1784.4,711.71 1785.9,713.58 1787.4,715.42 1788.9,717.22 1790.4,718.99 1791.9,720.72 1793.4,722.41 1794.9,724.06 1796.4,725.67 1797.9,727.24 1799.4,728.77 1800.9,730.26 1802.4,731.71 1803.9,733.11 1805.4,734.47 1806.9,735.78 1808.4,737.05 1809.9,738.27 1811.4,739.44 1812.9,740.57 1814.4,741.65 1815.9,742.67"/>
</g>
<path d="M1322 438.3H1330.9V761.1H1819" fill="none" stroke="#000" stroke-width="5" stroke-linejoin="miter"/>
<line x1="1322" y1="527.8" x2="1330.9" y2="527.8" stroke="#000" stroke-width="4.6"/>
<line x1="1322" y1="617.3" x2="1330.9" y2="617.3" stroke="#000" stroke-width="4.6"/>
<line x1="1322" y1="706.8" x2="1330.9" y2="706.8" stroke="#000" stroke-width="4.6"/>
<line x1="1331.4" y1="761.1" x2="1331.4" y2="770.9" stroke="#000" stroke-width="4.6"/>
<line x1="1412.4" y1="761.1" x2="1412.4" y2="770.9" stroke="#000" stroke-width="4.6"/>
<line x1="1493.4" y1="761.1" x2="1493.4" y2="770.9" stroke="#000" stroke-width="4.6"/>
<line x1="1574.4" y1="761.1" x2="1574.4" y2="770.9" stroke="#000" stroke-width="4.6"/>
<line x1="1655.4" y1="761.1" x2="1655.4" y2="770.9" stroke="#000" stroke-width="4.6"/>
<line x1="1736.4" y1="761.1" x2="1736.4" y2="770.9" stroke="#000" stroke-width="4.6"/>
<line x1="1817.4" y1="761.1" x2="1817.4" y2="770.9" stroke="#000" stroke-width="4.6"/>
<text x="1331.2" y="801.2" font-size="25" text-anchor="middle" font-weight="bold" >1050</text>
<text x="1412.2" y="801.2" font-size="25" text-anchor="middle" font-weight="bold" >1100</text>
<text x="1493.2" y="801.2" font-size="25" text-anchor="middle" font-weight="bold" >1150</text>
<text x="1574.2" y="801.2" font-size="25" text-anchor="middle" font-weight="bold" >1200</text>
<text x="1655.2" y="801.2" font-size="25" text-anchor="middle" font-weight="bold" >1250</text>
<text x="1736.2" y="801.2" font-size="25" text-anchor="middle" font-weight="bold" >1300</text>
<text x="1817.2" y="801.2" font-size="25" text-anchor="middle" font-weight="bold" >1350</text>
<text x="1309" y="445.5" text-anchor="end" font-size="25" font-weight="bold">2 × 10<tspan font-size="17.5" dy="-10.6">6</tspan></text>
<text x="1309" y="535" text-anchor="end" font-size="25" font-weight="bold">1.5 × 10<tspan font-size="17.5" dy="-10.6">6</tspan></text>
<text x="1309" y="624.5" text-anchor="end" font-size="25" font-weight="bold">1 × 10<tspan font-size="17.5" dy="-10.6">6</tspan></text>
<text x="1309" y="714" text-anchor="end" font-size="25" font-weight="bold">5 × 10<tspan font-size="17.5" dy="-10.6">5</tspan></text>
<text x="1575" y="843.8" font-size="25" text-anchor="middle" font-weight="bold" >Wavelength (nm)</text>
<text transform="translate(1188 599) rotate(-90)" text-anchor="middle" font-size="25" font-weight="bold">Intensity (a.u.)</text>
<text x="1668.3" y="423.7" font-size="25" >Albumin (mg/L)</text>
<line x1="1678.7" y1="454.3" x2="1713.6" y2="454.3" stroke="#ff0000" stroke-width="4.6"/>
<text x="1724" y="461.1" font-size="25" >100</text>
<line x1="1678.7" y1="491.5" x2="1713.6" y2="491.5" stroke="#ff8000" stroke-width="4.6"/>
<text x="1724" y="498.3" font-size="25" >50</text>
<line x1="1678.7" y1="529" x2="1713.6" y2="529" stroke="#aa00e6" stroke-width="4.6"/>
<text x="1724" y="535.8" font-size="25" >25</text>
<line x1="1678.7" y1="566.2" x2="1713.6" y2="566.2" stroke="#00bb00" stroke-width="4.6"/>
<text x="1724" y="573" font-size="25" >6.25</text>
<line x1="1678.7" y1="602.1" x2="1713.6" y2="602.1" stroke="#0000ff" stroke-width="4.6"/>
<text x="1724" y="608.9" font-size="25" >0</text>
</g>
<g id="pf">
<text x="0.2" y="956.3" font-size="43" font-weight="bold" >f</text>
<path d="M96 979.5H104.9V1302.8H592.3" fill="none" stroke="#000" stroke-width="4.8" stroke-linejoin="miter"/>
<line x1="96" y1="1044.16" x2="104.9" y2="1044.16" stroke="#000" stroke-width="4.6"/>
<line x1="96" y1="1108.82" x2="104.9" y2="1108.82" stroke="#000" stroke-width="4.6"/>
<line x1="96" y1="1173.48" x2="104.9" y2="1173.48" stroke="#000" stroke-width="4.6"/>
<line x1="96" y1="1238.14" x2="104.9" y2="1238.14" stroke="#000" stroke-width="4.6"/>
<line x1="96" y1="1302.8" x2="104.9" y2="1302.8" stroke="#000" stroke-width="4.8"/>
<line x1="105" y1="1302.8" x2="105" y2="1312.6" stroke="#000" stroke-width="4.6"/>
<line x1="226.3" y1="1302.8" x2="226.3" y2="1312.6" stroke="#000" stroke-width="4.6"/>
<line x1="347.6" y1="1302.8" x2="347.6" y2="1312.6" stroke="#000" stroke-width="4.6"/>
<line x1="468.9" y1="1302.8" x2="468.9" y2="1312.6" stroke="#000" stroke-width="4.6"/>
<line x1="590.2" y1="1302.8" x2="590.2" y2="1312.6" stroke="#000" stroke-width="4.6"/>
<polyline fill="none" stroke="#0000ff" stroke-width="3.2" stroke-dasharray="8 5" points="103.6,1142.4 106.6,1139.44 109.6,1136.42 112.6,1133.37 115.6,1130.27 118.6,1127.12 121.6,1123.87 124.6,1120.6 127.6,1117.4 130.6,1114.27 133.6,1111.19 136.6,1108.22 139.6,1105.46 142.6,1102.88 145.6,1100.39 148.6,1097.89 151.6,1095.3 154.6,1092.58 157.6,1089.86 160.6,1087.24 163.6,1084.85 166.6,1082.74 169.6,1080.8 172.6,1078.95 175.6,1077.09 178.6,1075.17 181.6,1073.24 184.6,1071.34 187.6,1069.51 190.6,1067.8 193.6,1066.17 196.6,1064.59 199.6,1063.05 202.6,1061.56 205.6,1060.1 208.6,1058.68 211.6,1057.28 214.6,1055.91 217.6,1054.55 220.6,1053.2 223.6,1051.86 226.6,1050.53 229.6,1049.23 232.6,1047.95 235.6,1046.69 238.6,1045.47 241.6,1044.29 244.6,1043.14 247.6,1042.05 250.6,1040.99 253.6,1039.97 256.6,1038.96 259.6,1037.98 262.6,1037.01 265.6,1036.06 268.6,1035.12 271.6,1034.21 274.6,1033.32 277.6,1032.45 280.6,1031.59 283.6,1030.76 286.6,1029.95 289.6,1029.16 292.6,1028.39 295.6,1027.65 298.6,1026.92 301.6,1026.22 304.6,1025.54 307.6,1024.86 310.6,1024.2 313.6,1023.54 316.6,1022.89 319.6,1022.26 322.6,1021.63 325.6,1021.02 328.6,1020.42 331.6,1019.83 334.6,1019.25 337.6,1018.68 340.6,1018.13 343.6,1017.59 346.6,1017.07 349.6,1016.55 352.6,1016.06 355.6,1015.57 358.6,1015.1 361.6,1014.65 364.6,1014.21 367.6,1013.79 370.6,1013.38 373.6,1012.99 376.6,1012.6 379.6,1012.23 382.6,1011.86 385.6,1011.5 388.6,1011.15 391.6,1010.81 394.6,1010.47 397.6,1010.14 400.6,1009.82 403.6,1009.51 406.6,1009.2 409.6,1008.9 412.6,1008.61 415.6,1008.32 418.6,1008.03 421.6,1007.75 424.6,1007.48 427.6,1007.2 430.6,1006.94 433.6,1006.67 436.6,1006.41 439.6,1006.15 442.6,1005.9 445.6,1005.65 448.6,1005.41 451.6,1005.17 454.6,1004.93 457.6,1004.7 460.6,1004.47 463.6,1004.24 466.6,1004.02 469.6,1003.8 472.6,1003.59 475.6,1003.37 478.6,1003.17 481.6,1002.96 484.6,1002.75 487.6,1002.55 490.6,1002.35 493.6,1002.15 496.6,1001.96 499.6,1001.76 502.6,1001.57 505.6,1001.38 508.6,1001.19 511.6,1001.01 514.6,1000.82 517.6,1000.63 520.6,1000.45 523.6,1000.27 526.6,1000.09 529.6,999.91 532.6,999.73 535.6,999.56 538.6,999.38 541.6,999.21 544.6,999.04 547.6,998.87 550.6,998.71 553.6,998.54 556.6,998.38 559.6,998.22 562.6,998.06 565.6,997.9 568.6,997.75 571.6,997.59 574.6,997.44 577.6,997.3 580.6,997.15 583.6,997.01 586.6,996.87"/>
<polyline fill="none" stroke="#0f9464" stroke-width="2.7" stroke-linejoin="round" points="105.3,1302 105.5,1131 106.2,1165 106.6,1137 107.2,1134.16 108.1,1130.01 109,1129.28 109.9,1128.29 110.8,1126.28 111.7,1125.31 112.6,1124.21 113.5,1121.5 114.4,1119.48 115.3,1118.32 116.2,1117.91 117.1,1116.78 118,1113.77 118.9,1111.88 119.8,1112.41 120.7,1113.02 121.6,1111.34 122.5,1109.53 123.4,1110.22 124.3,1109.32 125.2,1109.17 126.1,1109.89 127,1109.07 127.9,1107.82 128.8,1107.71 129.7,1106.36 130.6,1105.64 131.5,1104.9 132.4,1104.36 133.3,1103.53 134.2,1102.88 135.1,1100.05 136,1101.54 136.9,1100.93 137.8,1100.35 138.7,1100.65 139.6,1097.95 140.5,1098.39 141.4,1097.6 142.3,1097.47 143.2,1095.23 144.1,1095.22 145,1095.46 145.9,1093.41 146.8,1092.91 147.7,1092.67 148.6,1090.44 149.5,1089.4 150.4,1090.39 151.3,1090.48 152.2,1090.1 153.1,1089.04 154,1087.93 154.9,1086.87 155.8,1086.88 156.7,1084.85 157.6,1083.82 158.5,1083.79 159.4,1081.63 160.3,1082.5 161.2,1081.25 162.1,1080.3 163,1081.81 163.9,1079.64 164.8,1078.06 165.7,1079.36 166.6,1077.48 167.5,1076.38 168.4,1076.91 169.3,1076.74 170.2,1076.33 171.1,1075.71 172,1075.94 172.9,1075.59 173.8,1074.63 174.7,1072.92 175.6,1071.9 176.5,1070.43 177.4,1071.64 178.3,1070.16 179.2,1070.91 180.1,1072.37 181,1069.88 181.9,1068.52 182.8,1068.38 183.7,1069.08 184.6,1067.75 185.5,1067.18 186.4,1066.7 187.3,1066.3 188.2,1067.23 189.1,1065.54 190,1065.18 190.9,1065.16 191.8,1065.29 192.7,1064.15 193.6,1063.98 194.5,1063.98 195.4,1063.63 196.3,1062.73 197.2,1060.56 198.1,1060.27 199,1061.5 199.9,1061.08 200.8,1060.3 201.7,1061.43 202.6,1062.18 203.5,1060.12 204.4,1059.37 205.3,1057.68 206.2,1055.65 207.1,1057.71 208,1057.64 208.9,1057.53 209.8,1057.48 210.7,1056.6 211.6,1056.63 212.5,1056.15 213.4,1054.16 214.3,1054.55 215.2,1054.87 216.1,1055.84 217,1054.5 217.9,1052.97 218.8,1052.66 219.7,1052.29 220.6,1053.48 221.5,1052.72 222.4,1051.04 223.3,1050.76 224.2,1052.42 225.1,1049.44 226,1048.88 226.9,1050.26 227.8,1050.02 228.7,1048.57 229.6,1047.42 230.5,1047.12 231.4,1045.71 232.3,1046.84 233.2,1047.02 234.1,1046.26 235,1044.65 235.9,1044.21 236.8,1045.16 237.7,1045.15 238.6,1044.11 239.5,1044.33 240.4,1044.82 241.3,1043.36 242.2,1042.52 243.1,1042.01 244,1041.34 244.9,1042.56 245.8,1042.85 246.7,1042.29 247.6,1040.67 248.5,1039.85 249.4,1040.41 250.3,1041.01 251.2,1040.21 252.1,1039.44 253,1039.9 253.9,1041.1 254.8,1041.04 255.7,1040.66 256.6,1039.08 257.5,1038.82 258.4,1037.77 259.3,1037.99 260.2,1037.12 261.1,1036.17 262,1035.68 262.9,1036.42 263.8,1036.32 264.7,1035.77 265.6,1034.33 266.5,1034.56 267.4,1033.5 268.3,1034.99 269.2,1034.6 270.1,1033.93 271,1033.55 271.9,1031.93 272.8,1031.23 273.7,1032.18 274.6,1031.9 275.5,1031.96 276.4,1030.97 277.3,1031.44 278.2,1030.1 279.1,1029.17 280,1029.29 280.9,1031.33 281.8,1030.24 282.7,1031.47 283.6,1030.63 284.5,1030.13 285.4,1031.16 286.3,1031.54 287.2,1028.63 288.1,1028.06 289,1029.63 289.9,1027.95 290.8,1027.07 291.7,1026.74 292.6,1026.34 293.5,1027.09 294.4,1027.29 295.3,1028.55 296.2,1029.02 297.1,1027.67 298,1025.19 298.9,1025.76 299.8,1026.12 300.7,1026.38 301.6,1026.06 302.5,1024.27 303.4,1025.21 304.3,1023.85 305.2,1023.76 306.1,1024.95 307,1025.19 307.9,1026.01 308.8,1023.02 309.7,1023.42 310.6,1024.62 311.5,1023.7 312.4,1023.86 313.3,1022.6 314.2,1023.12 315.1,1023.54 316,1022.01 316.9,1021.42 317.8,1021.73 318.7,1021.33 319.6,1022.34 320.5,1022.11 321.4,1022.49 322.3,1022.64 323.2,1021.45 324.1,1020.57 325,1019.64 325.9,1019.25 326.8,1019.11 327.7,1019.88 328.6,1019.15 329.5,1019.25 330.4,1019.56 331.3,1018.86 332.2,1018.66 333.1,1019.98 334,1020.63 334.9,1018.55 335.8,1017.88 336.7,1017.83 337.6,1017.68 338.5,1019.08 339.4,1018.98 340.3,1018.95 341.2,1019.48 342.1,1017.7 343,1016.85 343.9,1017 344.8,1017.78 345.7,1017.12 346.6,1017.14 347.5,1017.74 348.4,1017.82 349.3,1017.09 350.2,1015.64 351.1,1014.35 352,1016.14 352.9,1016.57 353.8,1015.01 354.7,1014.66 355.6,1014.77 356.5,1013.65 357.4,1014.62 358.3,1014.44 359.2,1014.29 360.1,1015.24 361,1014.86 361.9,1014.93 362.8,1014.97 363.7,1014.48 364.6,1014.22 365.5,1015.62 366.4,1014.57 367.3,1015.1 368.2,1013.62 369.1,1013.81 370,1013.92 370.9,1012.82 371.8,1010.74 372.7,1013.36 373.6,1012.73 374.5,1011.63 375.4,1012.51 376.3,1012.8 377.2,1012.84 378.1,1012.38 379,1011.02 379.9,1012.36 380.8,1011.77 381.7,1011.87 382.6,1012.52 383.5,1013.07 384.4,1012.06 385.3,1011.3 386.2,1009.29 387.1,1009.8 388,1009.94 388.9,1010.09 389.8,1009.76 390.7,1010.7 391.6,1010.75 392.5,1012.05 393.4,1012.65 394.3,1009.7 395.2,1009.87 396.1,1009.68 397,1010.53 397.9,1010.63 398.8,1011.02 399.7,1010.73 400.6,1010.75 401.5,1009.96 402.4,1007.59 403.3,1007.68 404.2,1008.41 405.1,1008.76 406,1008.39 406.9,1010.28 407.8,1009.8 408.7,1010.18 409.6,1009.33 410.5,1010.22 411.4,1008.59 412.3,1008.81 413.2,1007.86 414.1,1008.45 415,1010.05 415.9,1007.76 416.8,1006.97 417.7,1008.13 418.6,1008.15 419.5,1006.9 420.4,1008.43 421.3,1008.48 422.2,1008.97 423.1,1008.59 424,1006.87 424.9,1006.15 425.8,1008.49 426.7,1006.88 427.6,1006.41 428.5,1007.6 429.4,1008.31 430.3,1008.25 431.2,1006.18 432.1,1008.11 433,1007.64 433.9,1006.77 434.8,1006.76 435.7,1007.55 436.6,1005.7 437.5,1005.86 438.4,1007.43 439.3,1005.8 440.2,1003.72 441.1,1005.68 442,1006.68 442.9,1006.85 443.8,1007.78 444.7,1006.09 445.6,1005.75 446.5,1006.33 447.4,1007.01 448.3,1007.08 449.2,1005.37 450.1,1004.08 451,1004.71 451.9,1003.99 452.8,1005.47 453.7,1005.46 454.6,1004.8 455.5,1004.07 456.4,1006.04 457.3,1005.95 458.2,1001.43 459.1,1005.29 460,1005.07 460.9,1005.19 461.8,1006.11 462.7,1005.03 463.6,1004.95 464.5,1005.18 465.4,1005.65 466.3,1005.41 467.2,1004.66 468.1,1003.79 469,1004.23 469.9,1003.44 470.8,1004.23 471.7,1004.37 472.6,1004.47 473.5,1003.71 474.4,1002.96 475.3,1002.68 476.2,1004.25 477.1,1003.91 478,1003.28 478.9,1001.91 479.8,1002.63 480.7,1000.44 481.6,1002.97 482.5,1003.57 483.4,1003.04 484.3,1001.87 485.2,1001.47 486.1,1002.95 487,1002.91 487.9,1003.03 488.8,1003.92 489.7,1003.69 490.6,1000.57 491.5,1000.85 492.4,1001.03 493.3,1001.08 494.2,1000.13 495.1,999.6 496,1000.63 496.9,1001.22 497.8,1002.14 498.7,1001.84 499.6,1002.87 500.5,1000.82 501.4,999.77 502.3,1001.25 503.2,1001.43 504.1,1000.55 505,1001.66 505.9,1002.59 506.8,1002.85 507.7,1001.46 508.6,1001.01 509.5,1001.31 510.4,1001.21 511.3,1001.89 512.2,1000.97 513.1,1001 514,999.16 514.9,1000.5 515.8,1002.42 516.7,1001.34 517.6,1001.48 518.5,999.62 519.4,999.55 520.3,999.05 521.2,998.09 522.1,1000.94 523,999.39 523.9,998.99 524.8,999.38 525.7,1001.94 526.6,1001.07 527.5,1000.14 528.4,1000.37 529.3,1000.37 530.2,999.84 531.1,998.66 532,998.7 532.9,1000.85 533.8,1000.62 534.7,999.47 535.6,998.34 536.5,998.96 537.4,999.52 538.3,998.94 539.2,999.89 540.1,999.25 541,998.94 541.9,999.9 542.8,999.76 543.7,1000.2 544.6,1000.23 545.5,1000.85 546.4,999.23 547.3,999.35 548.2,1000 549.1,999.71 550,998.98 550.9,999.15 551.8,999.47 552.7,998.03 553.6,998.06 554.5,998.26 555.4,999.41 556.3,998.6 557.2,999.14 558.1,997.8 559,997.79 559.9,999.18 560.8,998.49 561.7,999.07 562.6,996.96 563.5,997.3 564.4,998.22 565.3,997.99 566.2,996.66 567.1,997.85 568,996.21 568.9,997.64 569.8,998.41 570.7,998.66 571.6,997.86 572.5,995.09 573.4,996.66 574.3,996.9 575.2,997.75 576.1,997.38 577,997.55 577.9,997.85 578.8,998.6 579.7,996.09 580.6,995.92 581.5,997.43 582.4,997.82 583.3,996.72 584.2,996.38 585.1,996.58 586,996.77 586.9,996.22 587.8,995.8"/>
<line x1="105.3" y1="1140" x2="105.3" y2="1302" stroke="#0f9464" stroke-width="2.6"/>
<polyline fill="none" stroke="#ff0000" stroke-width="3.2" stroke-dasharray="9 5" points="106.8,1292.6 109.8,1292.49 112.8,1292.37 115.8,1292.25 118.8,1292.13 121.8,1292.01 124.8,1291.89 127.8,1291.77 130.8,1291.65 133.8,1291.52 136.8,1291.39 139.8,1291.26 142.8,1291.13 145.8,1291 148.8,1290.87 151.8,1290.73 154.8,1290.6 157.8,1290.46 160.8,1290.32 163.8,1290.18 166.8,1290.04 169.8,1289.9 172.8,1289.76 175.8,1289.61 178.8,1289.47 181.8,1289.32 184.8,1289.17 187.8,1289.02 190.8,1288.87 193.8,1288.72 196.8,1288.56 199.8,1288.41 202.8,1288.25 205.8,1288.09 208.8,1287.92 211.8,1287.75 214.8,1287.58 217.8,1287.4 220.8,1287.21 223.8,1287.02 226.8,1286.84 229.8,1286.64 232.8,1286.45 235.8,1286.25 238.8,1286.05 241.8,1285.85 244.8,1285.65 247.8,1285.44 250.8,1285.24 253.8,1285.04 256.8,1284.83 259.8,1284.63 262.8,1284.42 265.8,1284.22 268.8,1284.02 271.8,1283.82 274.8,1283.62 277.8,1283.42 280.8,1283.22 283.8,1283.03 286.8,1282.84 289.8,1282.65 292.8,1282.47 295.8,1282.29 298.8,1282.11 301.8,1281.94 304.8,1281.77 307.8,1281.61 310.8,1281.45 313.8,1281.3 316.8,1281.15 319.8,1281.01 322.8,1280.87 325.8,1280.74 328.8,1280.61 331.8,1280.48 334.8,1280.35 337.8,1280.23 340.8,1280.1 343.8,1279.98 346.8,1279.87 349.8,1279.75 352.8,1279.63 355.8,1279.52 358.8,1279.41 361.8,1279.3 364.8,1279.19 367.8,1279.09 370.8,1278.98 373.8,1278.88 376.8,1278.77 379.8,1278.67 382.8,1278.57 385.8,1278.47 388.8,1278.37 391.8,1278.27 394.8,1278.17 397.8,1278.07 400.8,1277.98 403.8,1277.88 406.8,1277.78 409.8,1277.68 412.8,1277.59 415.8,1277.49 418.8,1277.39 421.8,1277.29 424.8,1277.19 427.8,1277.09 430.8,1276.99 433.8,1276.89 436.8,1276.79 439.8,1276.69 442.8,1276.59 445.8,1276.48 448.8,1276.38 451.8,1276.27 454.8,1276.16 457.8,1276.06 460.8,1275.94 463.8,1275.83 466.8,1275.72 469.8,1275.6 472.8,1275.48 475.8,1275.37 478.8,1275.25 481.8,1275.13 484.8,1275 487.8,1274.88 490.8,1274.76 493.8,1274.64 496.8,1274.51 499.8,1274.39 502.8,1274.27 505.8,1274.14 508.8,1274.01 511.8,1273.89 514.8,1273.76 517.8,1273.63 520.8,1273.5 523.8,1273.38 526.8,1273.25 529.8,1273.12 532.8,1272.99 535.8,1272.85 538.8,1272.72 541.8,1272.59 544.8,1272.46 547.8,1272.33 550.8,1272.19 553.8,1272.06 556.8,1271.92 559.8,1271.79 562.8,1271.65 565.8,1271.52 568.8,1271.38 571.8,1271.25 574.8,1271.11 577.8,1270.97 580.8,1270.83 583.8,1270.69 586.8,1270.56"/>
<polyline fill="none" stroke="#5e5e5e" stroke-width="2.9" stroke-linejoin="round" points="106.8,1290.87 107.7,1289.89 108.6,1291.85 109.5,1290.75 110.4,1289.91 111.3,1291.27 112.2,1289.79 113.1,1289 114,1289.76 114.9,1289.63 115.8,1288.68 116.7,1289.12 117.6,1289.38 118.5,1290.1 119.4,1288.59 120.3,1288.42 121.2,1293.33 122.1,1291.68 123,1289.15 123.9,1289.52 124.8,1289.04 125.7,1287.39 126.6,1288.46 127.5,1288.8 128.4,1290.15 129.3,1290.48 130.2,1289.79 131.1,1286.52 132,1289.25 132.9,1289.29 133.8,1289.96 134.7,1289.13 135.6,1289.03 136.5,1289.94 137.4,1289.16 138.3,1289.4 139.2,1289.46 140.1,1290.36 141,1289.62 141.9,1290.38 142.8,1289.48 143.7,1288.53 144.6,1288.91 145.5,1289.34 146.4,1289.35 147.3,1290.13 148.2,1290.4 149.1,1289.77 150,1288.79 150.9,1288.61 151.8,1289.94 152.7,1289.54 153.6,1287.74 154.5,1287.59 155.4,1287.91 156.3,1289.37 157.2,1289.01 158.1,1290.43 159,1290.05 159.9,1288.91 160.8,1288.19 161.7,1289.1 162.6,1288.64 163.5,1287.62 164.4,1288.5 165.3,1287.58 166.2,1289.31 167.1,1288.71 168,1285.83 168.9,1287.68 169.8,1286.94 170.7,1288.65 171.6,1290.27 172.5,1288.13 173.4,1286.9 174.3,1286.36 175.2,1288.12 176.1,1288.14 177,1287.33 177.9,1287.43 178.8,1292.4 179.7,1288.97 180.6,1289.49 181.5,1288.7 182.4,1288.88 183.3,1288.98 184.2,1287.49 185.1,1287.13 186,1286.84 186.9,1286.62 187.8,1288.15 188.7,1287.52 189.6,1287.15 190.5,1286.78 191.4,1286.57 192.3,1287.72 193.2,1287.24 194.1,1286.65 195,1287.42 195.9,1287.79 196.8,1288 197.7,1287.57 198.6,1285.67 199.5,1286.82 200.4,1289.53 201.3,1288 202.2,1286.63 203.1,1288.62 204,1286.85 204.9,1286.88 205.8,1287.09 206.7,1286.32 207.6,1287.14 208.5,1286.72 209.4,1284.51 210.3,1284.58 211.2,1286.38 212.1,1288.49 213,1286.09 213.9,1285.71 214.8,1287.5 215.7,1287.36 216.6,1286.14 217.5,1284.81 218.4,1284.02 219.3,1284.68 220.2,1285.38 221.1,1283.92 222,1283.54 222.9,1285.39 223.8,1285.57 224.7,1284.94 225.6,1284.95 226.5,1284.78 227.4,1286.01 228.3,1287.27 229.2,1287.87 230.1,1286.86 231,1286.27 231.9,1286.82 232.8,1287.29 233.7,1287.12 234.6,1286.74 235.5,1285.04 236.4,1283.41 237.3,1285.01 238.2,1285.18 239.1,1284.74 240,1284.01 240.9,1283.26 241.8,1285.28 242.7,1285.56 243.6,1283.84 244.5,1284.35 245.4,1284.83 246.3,1284.91 247.2,1286.37 248.1,1285.13 249,1283.08 249.9,1283.6 250.8,1283.52 251.7,1284.17 252.6,1284.32 253.5,1284.23 254.4,1283.47 255.3,1283.84 256.2,1283.42 257.1,1283.83 258,1283.51 258.9,1282.43 259.8,1283.37 260.7,1282.98 261.6,1284.21 262.5,1284.2 263.4,1283.75 264.3,1283.39 265.2,1283.04 266.1,1280.97 267,1282.95 267.9,1282.69 268.8,1283.26 269.7,1282.6 270.6,1282.29 271.5,1282.37 272.4,1281.59 273.3,1281.92 274.2,1282.76 275.1,1282.22 276,1281.08 276.9,1281.24 277.8,1282.16 278.7,1283.19 279.6,1283.24 280.5,1282.6 281.4,1281.24 282.3,1282.23 283.2,1282.23 284.1,1281.58 285,1282.37 285.9,1284.62 286.8,1282.27 287.7,1280.79 288.6,1280.5 289.5,1279.76 290.4,1280.83 291.3,1281.42 292.2,1284.02 293.1,1281.77 294,1280.93 294.9,1282.7 295.8,1281.07 296.7,1279.45 297.6,1279.9 298.5,1281.07 299.4,1280.26 300.3,1280.27 301.2,1279.61 302.1,1281.44 303,1280.73 303.9,1279.42 304.8,1279.98 305.7,1279.76 306.6,1279.91 307.5,1281.41 308.4,1280.53 309.3,1280.07 310.2,1279.92 311.1,1279.89 312,1278.86 312.9,1280.9 313.8,1280.01 314.7,1279.12 315.6,1279.49 316.5,1280.59 317.4,1280.24 318.3,1279.76 319.2,1278.27 320.1,1279.87 321,1278.93 321.9,1278.03 322.8,1278.84 323.7,1279.52 324.6,1279.66 325.5,1278.96 326.4,1278.96 327.3,1278.87 328.2,1277.71 329.1,1278.47 330,1278.71 330.9,1279.42 331.8,1279.38 332.7,1280.04 333.6,1280.24 334.5,1280.27 335.4,1280.58 336.3,1280.24 337.2,1279.28 338.1,1280.15 339,1278.85 339.9,1278.61 340.8,1279.7 341.7,1279.08 342.6,1279.41 343.5,1278.53 344.4,1278.09 345.3,1279.07 346.2,1279.63 347.1,1280.07 348,1281.48 348.9,1278.94 349.8,1279.33 350.7,1279.31 351.6,1277.74 352.5,1277.58 353.4,1279.53 354.3,1278.1 355.2,1278.51 356.1,1278.39 357,1279.11 357.9,1278.19 358.8,1278.11 359.7,1276.7 360.6,1277.46 361.5,1279.19 362.4,1277.48 363.3,1278.62 364.2,1278.12 365.1,1277.86 366,1275.84 366.9,1277.89 367.8,1277.84 368.7,1277.28 369.6,1277.23 370.5,1276.67 371.4,1278.55 372.3,1278.03 373.2,1278.49 374.1,1278.15 375,1278.12 375.9,1277.6 376.8,1277.99 377.7,1280.16 378.6,1279.42 379.5,1278.47 380.4,1277.56 381.3,1278.36 382.2,1279.25 383.1,1276.82 384,1275.78 384.9,1278.01 385.8,1278.82 386.7,1277.85 387.6,1278.06 388.5,1278.67 389.4,1278.62 390.3,1277.61 391.2,1281.05 392.1,1274.75 393,1276.67 393.9,1276.54 394.8,1277 395.7,1276.95 396.6,1276.98 397.5,1277.45 398.4,1274.64 399.3,1275.2 400.2,1277.66 401.1,1278.03 402,1280.13 402.9,1276.31 403.8,1277.78 404.7,1277.34 405.6,1276.5 406.5,1278.34 407.4,1277.46 408.3,1277.39 409.2,1277.19 410.1,1276.94 411,1276.13 411.9,1275.79 412.8,1277.55 413.7,1276.4 414.6,1276.55 415.5,1275.89 416.4,1276.05 417.3,1276.59 418.2,1275.32 419.1,1276.94 420,1276.97 420.9,1277.56 421.8,1276.32 422.7,1276.94 423.6,1278.87 424.5,1277.67 425.4,1276.05 426.3,1276.6 427.2,1276.76 428.1,1276.3 429,1276.2 429.9,1275.83 430.8,1276.45 431.7,1276.17 432.6,1275.41 433.5,1276.58 434.4,1276.44 435.3,1278.34 436.2,1277.08 437.1,1275.45 438,1275.37 438.9,1276.18 439.8,1275.65 440.7,1274.7 441.6,1276.86 442.5,1275.64 443.4,1276.71 444.3,1276.69 445.2,1275.08 446.1,1276.83 447,1276.38 447.9,1273.76 448.8,1275.43 449.7,1276.87 450.6,1276.85 451.5,1276.69 452.4,1277.49 453.3,1276.57 454.2,1276.03 455.1,1275.57 456,1274.26 456.9,1274.81 457.8,1276.8 458.7,1274.71 459.6,1275.85 460.5,1276.2 461.4,1273.98 462.3,1275.03 463.2,1276.83 464.1,1275.56 465,1275.68 465.9,1276.51 466.8,1278.35 467.7,1275.32 468.6,1275.85 469.5,1274.93 470.4,1275.45 471.3,1275.02 472.2,1274.38 473.1,1273.7 474,1274.75 474.9,1274.71 475.8,1274.23 476.7,1274.27 477.6,1273.19 478.5,1273.55 479.4,1275.02 480.3,1274.33 481.2,1275.54 482.1,1275.58 483,1274.91 483.9,1273.63 484.8,1275.66 485.7,1274.11 486.6,1274.31 487.5,1276.06 488.4,1274.94 489.3,1273.71 490.2,1274.02 491.1,1275.05 492,1275.77 492.9,1275.29 493.8,1273.54 494.7,1273.14 495.6,1274 496.5,1273.1 497.4,1273.31 498.3,1275.77 499.2,1274.02 500.1,1274.46 501,1273.6 501.9,1273.19 502.8,1275.23 503.7,1272.5 504.6,1273.03 505.5,1274.75 506.4,1274.81 507.3,1274.52 508.2,1273.22 509.1,1273.11 510,1273.64 510.9,1274.14 511.8,1274.85 512.7,1273.14 513.6,1274.38 514.5,1273.81 515.4,1272.97 516.3,1272.15 517.2,1272.67 518.1,1272.97 519,1272.03 519.9,1272.35 520.8,1273.05 521.7,1273.87 522.6,1273.47 523.5,1272.43 524.4,1273.23 525.3,1273.1 526.2,1273.07 527.1,1271.42 528,1272.1 528.9,1272.09 529.8,1273.44 530.7,1272.05 531.6,1273.25 532.5,1272.23 533.4,1273.17 534.3,1273.52 535.2,1272.06 536.1,1273.9 537,1272.28 537.9,1271.69 538.8,1272.39 539.7,1272.77 540.6,1272.61 541.5,1272.93 542.4,1272.84 543.3,1272.31 544.2,1271.29 545.1,1271.33 546,1272.57 546.9,1271.33 547.8,1271.49 548.7,1270.18 549.6,1270.37 550.5,1270.12 551.4,1272.08 552.3,1270.68 553.2,1270.68 554.1,1272.11 555,1272.37 555.9,1272.41 556.8,1272.68 557.7,1272.27 558.6,1272.28 559.5,1271.65 560.4,1271.26 561.3,1269.79 562.2,1270.63 563.1,1272.31 564,1271.05 564.9,1269.81 565.8,1270.64 566.7,1272 567.6,1272.45 568.5,1270.18 569.4,1270.64 570.3,1270.49 571.2,1270.76 572.1,1268.99 573,1270.54 573.9,1270.73 574.8,1270.64 575.7,1270.53 576.6,1269.61 577.5,1270.51 578.4,1270.28 579.3,1269.64 580.2,1270.64 581.1,1270.54 582,1269.67 582.9,1270.74 583.8,1270.1 584.7,1269.89 585.6,1270.71 586.5,1271.16 587.4,1271.42"/>
<text x="82.3" y="986.7" font-size="25" text-anchor="end" font-weight="bold" >2.0</text>
<text x="82.3" y="1051.36" font-size="25" text-anchor="end" font-weight="bold" >1.8</text>
<text x="82.3" y="1116.02" font-size="25" text-anchor="end" font-weight="bold" >1.6</text>
<text x="82.3" y="1180.68" font-size="25" text-anchor="end" font-weight="bold" >1.4</text>
<text x="82.3" y="1245.34" font-size="25" text-anchor="end" font-weight="bold" >1.2</text>
<text x="82.3" y="1310" font-size="25" text-anchor="end" font-weight="bold" >1.0</text>
<text x="104.7" y="1342.6" font-size="25" text-anchor="middle" font-weight="bold" >0</text>
<text x="226" y="1342.6" font-size="25" text-anchor="middle" font-weight="bold" >5</text>
<text x="347.3" y="1342.6" font-size="25" text-anchor="middle" font-weight="bold" >10</text>
<text x="468.6" y="1342.6" font-size="25" text-anchor="middle" font-weight="bold" >15</text>
<text x="589.9" y="1342.6" font-size="25" text-anchor="middle" font-weight="bold" >20</text>
<text x="347.8" y="1386.2" font-size="25" text-anchor="middle" font-weight="bold" >Time (min)</text>
<text transform="translate(21.6 1140) rotate(-90)" text-anchor="middle" font-size="25.7" font-weight="bold" stroke="#fff" stroke-width="0.12">Intensity fold change (<tspan font-style="italic">I</tspan>/<tspan font-style="italic">I</tspan><tspan font-size="17.5" dy="5">0</tspan><tspan dy="-5">)</tspan></text>
<text x="443.5" y="1092.9" font-size="25" font-weight="bold" fill="#0d8f5f" >+ Albumin</text>
<text x="443.5" y="1133.8" font-size="25" font-weight="bold" fill="#5c5c5c" >– Albumin</text>
</g>
<g id="pg">
<text x="648.5" y="955.6" font-size="43" font-weight="bold" >g</text>
<path d="M763.8 979.5H773V1302.6H1260" fill="none" stroke="#000" stroke-width="4.8" stroke-linejoin="miter"/>
<line x1="763.8" y1="1039.34" x2="773" y2="1039.34" stroke="#000" stroke-width="4.6"/>
<line x1="763.8" y1="1099.18" x2="773" y2="1099.18" stroke="#000" stroke-width="4.6"/>
<line x1="763.8" y1="1159.02" x2="773" y2="1159.02" stroke="#000" stroke-width="4.6"/>
<line x1="763.8" y1="1218.86" x2="773" y2="1218.86" stroke="#000" stroke-width="4.6"/>
<line x1="763.8" y1="1278.7" x2="773" y2="1278.7" stroke="#000" stroke-width="4.6"/>
<line x1="773.1" y1="1302.6" x2="773.1" y2="1312.4" stroke="#000" stroke-width="4.6"/>
<line x1="894.35" y1="1302.6" x2="894.35" y2="1312.4" stroke="#000" stroke-width="4.6"/>
<line x1="1015.6" y1="1302.6" x2="1015.6" y2="1312.4" stroke="#000" stroke-width="4.6"/>
<line x1="1136.85" y1="1302.6" x2="1136.85" y2="1312.4" stroke="#000" stroke-width="4.6"/>
<line x1="1258.1" y1="1302.6" x2="1258.1" y2="1312.4" stroke="#000" stroke-width="4.6"/>
<polyline fill="none" stroke="#00c000" stroke-width="2.4" stroke-dasharray="8 6" points="775,1030 778.3,1029.99 781.6,1029.98 784.9,1029.96 788.2,1029.94 791.5,1029.92 794.8,1029.89 798.1,1029.85 801.4,1029.82 804.7,1029.78 808,1029.73 811.3,1029.69 814.6,1029.64 817.9,1029.59 821.2,1029.53 824.5,1029.48 827.8,1029.42 831.1,1029.36 834.4,1029.3 837.7,1029.24 841,1029.17 844.3,1029.11 847.6,1029.05 850.9,1028.98 854.2,1028.91 857.5,1028.83 860.8,1028.75 864.1,1028.66 867.4,1028.56 870.7,1028.46 874,1028.35 877.3,1028.24 880.6,1028.12 883.9,1028 887.2,1027.87 890.5,1027.74 893.8,1027.61 897.1,1027.47 900.4,1027.33 903.7,1027.19 907,1027.04 910.3,1026.89 913.6,1026.75 916.9,1026.6 920.2,1026.45 923.5,1026.3 926.8,1026.15 930.1,1026 933.4,1025.83 936.7,1025.65 940,1025.45 943.3,1025.24 946.6,1025.02 949.9,1024.79 953.2,1024.55 956.5,1024.31 959.8,1024.08 963.1,1023.84 966.4,1023.61 969.7,1023.39 973,1023.18 976.3,1022.99 979.6,1022.81 982.9,1022.66 986.2,1022.52 989.5,1022.41 992.8,1022.34 996.1,1022.29 999.4,1022.25 1002.7,1022.21 1006,1022.17 1009.3,1022.13 1012.6,1022.09 1015.9,1022.06 1019.2,1022.02 1022.5,1021.99 1025.8,1021.96 1029.1,1021.93 1032.4,1021.9 1035.7,1021.87 1039,1021.85 1042.3,1021.82 1045.6,1021.8 1048.9,1021.77 1052.2,1021.75 1055.5,1021.73 1058.8,1021.71 1062.1,1021.7 1065.4,1021.68 1068.7,1021.67 1072,1021.65 1075.3,1021.64 1078.6,1021.63 1081.9,1021.62 1085.2,1021.61 1088.5,1021.61 1091.8,1021.6 1095.1,1021.6 1098.4,1021.6 1101.7,1021.6 1105,1021.61 1108.3,1021.62 1111.6,1021.63 1114.9,1021.65 1118.2,1021.68 1121.5,1021.71 1124.8,1021.74 1128.1,1021.77 1131.4,1021.8 1134.7,1021.84 1138,1021.88 1141.3,1021.91 1144.6,1021.95 1147.9,1021.99 1151.2,1022.02 1154.5,1022.06 1157.8,1022.09 1161.1,1022.12 1164.4,1022.14 1167.7,1022.16 1171,1022.18 1174.3,1022.19 1177.6,1022.2 1180.9,1022.2 1184.2,1022.2 1187.5,1022.19 1190.8,1022.19 1194.1,1022.18 1197.4,1022.17 1200.7,1022.16 1204,1022.14 1207.3,1022.13 1210.6,1022.11 1213.9,1022.09 1217.2,1022.07 1220.5,1022.04 1223.8,1022.01 1227.1,1021.99 1230.4,1021.95 1233.7,1021.92 1237,1021.89 1240.3,1021.85 1243.6,1021.81 1246.9,1021.77 1250.2,1021.73 1253.5,1021.68 1256.8,1021.63"/>
<polyline fill="none" stroke="#5e5e5e" stroke-width="2.3" stroke-linejoin="round" points="775,1029.86 775.55,1029.71 776.1,1032.65 776.65,1026.73 777.2,1031.93 777.75,1025.55 778.3,1029.46 778.85,1031.99 779.4,1032.92 779.95,1029.95 780.5,1028.39 781.05,1033.55 781.6,1034.17 782.15,1028.18 782.7,1031.77 783.25,1028.81 783.8,1030.39 784.35,1030.63 784.9,1026.65 785.45,1030.13 786,1027.19 786.55,1027.38 787.1,1028.76 787.65,1024.79 788.2,1026.1 788.75,1030.54 789.3,1031.61 789.85,1030.51 790.4,1028.72 790.95,1031.73 791.5,1033.99 792.05,1032.97 792.6,1026.31 793.15,1025.36 793.7,1030.94 794.25,1033.13 794.8,1029.82 795.35,1032.36 795.9,1030.51 796.45,1030.45 797,1030.63 797.55,1030.43 798.1,1028.75 798.65,1034.64 799.2,1032.23 799.75,1028.38 800.3,1029.09 800.85,1027.11 801.4,1031.06 801.95,1026.1 802.5,1028.94 803.05,1031.74 803.6,1035.4 804.15,1031.27 804.7,1026.7 805.25,1031.76 805.8,1029.41 806.35,1033.2 806.9,1029.03 807.45,1036.73 808,1030.81 808.55,1031.67 809.1,1028.7 809.65,1028.65 810.2,1032.97 810.75,1032.3 811.3,1028.52 811.85,1029.38 812.4,1032.71 812.95,1033.94 813.5,1028.98 814.05,1030.39 814.6,1025.98 815.15,1025.7 815.7,1030.75 816.25,1036.77 816.8,1034.83 817.35,1036.15 817.9,1031.07 818.45,1028.21 819,1030.42 819.55,1026.45 820.1,1022.11 820.65,1030.64 821.2,1032.22 821.75,1031.36 822.3,1033.54 822.85,1031.49 823.4,1030.4 823.95,1026.75 824.5,1029.14 825.05,1026.4 825.6,1028.5 826.15,1034.39 826.7,1029.98 827.25,1030.41 827.8,1027.61 828.35,1036.18 828.9,1024.24 829.45,1026.98 830,1031.84 830.55,1027.42 831.1,1027.29 831.65,1030.67 832.2,1031.29 832.75,1031.1 833.3,1027.09 833.85,1031.27 834.4,1026.15 834.95,1026.9 835.5,1026.69 836.05,1030.12 836.6,1028.34 837.15,1026.77 837.7,1029.32 838.25,1026.57 838.8,1027.9 839.35,1028.4 839.9,1027.72 840.45,1026.57 841,1025.93 841.55,1032.02 842.1,1023.78 842.65,1029.92 843.2,1027.04 843.75,1027.28 844.3,1024.48 844.85,1029.02 845.4,1024.76 845.95,1031.83 846.5,1027.6 847.05,1026.22 847.6,1025.92 848.15,1031.52 848.7,1030.5 849.25,1028.11 849.8,1033.32 850.35,1033.77 850.9,1028.22 851.45,1030.32 852,1026.1 852.55,1029.21 853.1,1025.99 853.65,1030.42 854.2,1030.56 854.75,1028.62 855.3,1031.69 855.85,1027.05 856.4,1030.26 856.95,1028.52 857.5,1025.83 858.05,1030.61 858.6,1033.22 859.15,1036.84 859.7,1029.02 860.25,1030.01 860.8,1033.19 861.35,1026.01 861.9,1032.66 862.45,1025.05 863,1025.69 863.55,1028.09 864.1,1027.66 864.65,1031.16 865.2,1025.85 865.75,1028.28 866.3,1027.69 866.85,1029 867.4,1030.16 867.95,1030.97 868.5,1029.36 869.05,1029.51 869.6,1028.62 870.15,1024.42 870.7,1023.71 871.25,1029.38 871.8,1024.82 872.35,1015.7 872.9,1028.96 873.45,1027.46 874,1026.27 874.55,1025.98 875.1,1028.41 875.65,1032.11 876.2,1023.86 876.75,1027.62 877.3,1030.74 877.85,1028.9 878.4,1026.64 878.95,1028.26 879.5,1029.22 880.05,1030.78 880.6,1023.96 881.15,1025.86 881.7,1028.8 882.25,1029.19 882.8,1028.67 883.35,1029.09 883.9,1030.29 884.45,1029.17 885,1034.64 885.55,1026.18 886.1,1026.98 886.65,1024.12 887.2,1029.42 887.75,1028.47 888.3,1027.42 888.85,1024.82 889.4,1029.18 889.95,1032.41 890.5,1029.89 891.05,1024.22 891.6,1028.56 892.15,1028.98 892.7,1032.14 893.25,1029.16 893.8,1030.39 894.35,1023.54 894.9,1027.02 895.45,1027.77 896,1027.27 896.55,1026.75 897.1,1026.65 897.65,1030.83 898.2,1026.32 898.75,1029.32 899.3,1029.18 899.85,1026.43 900.4,1027.7 900.95,1021.12 901.5,1025.7 902.05,1030.1 902.6,1025.59 903.15,1021.86 903.7,1029.71 904.25,1023.79 904.8,1030.65 905.35,1027.02 905.9,1028.89 906.45,1025.27 907,1031.1 907.55,1027.49 908.1,1026.77 908.65,1027.38 909.2,1026.49 909.75,1025.24 910.3,1028.51 910.85,1030.69 911.4,1027.07 911.95,1030.94 912.5,1029.68 913.05,1022.82 913.6,1028.57 914.15,1030.2 914.7,1021.45 915.25,1025.2 915.8,1027.83 916.35,1024.29 916.9,1026.56 917.45,1025.65 918,1023.97 918.55,1025.98 919.1,1025.17 919.65,1026.08 920.2,1026.07 920.75,1024.34 921.3,1023.99 921.85,1029.77 922.4,1027.29 922.95,1023.34 923.5,1029.47 924.05,1023.61 924.6,1030.83 925.15,1025.85 925.7,1024.68 926.25,1024.46 926.8,1027.06 927.35,1026.26 927.9,1023.44 928.45,1026.26 929,1027.03 929.55,1026.29 930.1,1029.15 930.65,1019.28 931.2,1025.16 931.75,1024.07 932.3,1026.91 932.85,1030.72 933.4,1022.08 933.95,1023.48 934.5,1025.03 935.05,1028.1 935.6,1028.34 936.15,1023.74 936.7,1027.82 937.25,1025.42 937.8,1028.22 938.35,1025.75 938.9,1026.95 939.45,1020.68 940,1023.18 940.55,1023 941.1,1026.67 941.65,1023.51 942.2,1022.74 942.75,1024.72 943.3,1026.47 943.85,1026.9 944.4,1023.37 944.95,1024.74 945.5,1025.4 946.05,1023.39 946.6,1027.54 947.15,1025.41 947.7,1022.36 948.25,1026.56 948.8,1024.13 949.35,1028.94 949.9,1024.4 950.45,1028.74 951,1023.44 951.55,1026.25 952.1,1026.05 952.65,1023.72 953.2,1024.95 953.75,1026.71 954.3,1029.79 954.85,1027.75 955.4,1022.4 955.95,1027.79 956.5,1022.6 957.05,1029.12 957.6,1027.48 958.15,1025.61 958.7,1021.08 959.25,1025.85 959.8,1022.42 960.35,1022.17 960.9,1023.75 961.45,1019.8 962,1024.15 962.55,1024.87 963.1,1027.36 963.65,1022.25 964.2,1020.16 964.75,1027.24 965.3,1026.93 965.85,1019.29 966.4,1025.07 966.95,1026.19 967.5,1021.73 968.05,1026.07 968.6,1022.82 969.15,1022.44 969.7,1020.21 970.25,1026.86 970.8,1020.71 971.35,1014.72 971.9,1019.38 972.45,1021.1 973,1019.49 973.55,1026.69 974.1,1020.3 974.65,1021.51 975.2,1022.85 975.75,1024.34 976.3,1018.97 976.85,1017.9 977.4,1020.01 977.95,1021.94 978.5,1021.72 979.05,1024.04 979.6,1020.46 980.15,1025 980.7,1023.19 981.25,1022.6 981.8,1023.79 982.35,1024.03 982.9,1023.07 983.45,1018.54 984,1023.22 984.55,1022.08 985.1,1023.61 985.65,1021.98 986.2,1021.38 986.75,1023.63 987.3,1031.91 987.85,1023.88 988.4,1022.57 988.95,1022.82 989.5,1025.14 990.05,1020.71 990.6,1016.43 991.15,1021.47 991.7,1018.61 992.25,1024.37 992.8,1024.78 993.35,1021.6 993.9,1021.99 994.45,1023.98 995,1026.98 995.55,1022.2 996.1,1027.45 996.65,1025.98 997.2,1017.59 997.75,1022.11 998.3,1023.69 998.85,1021.73 999.4,1025.1 999.95,1023.3 1000.5,1023.74 1001.05,1021.77 1001.6,1017.77 1002.15,1023.25 1002.7,1019.53 1003.25,1024.39 1003.8,1022.87 1004.35,1029.73 1004.9,1026.16 1005.45,1017.61 1006,1028.11 1006.55,1023.59 1007.1,1025.33 1007.65,1025.94 1008.2,1019.87 1008.75,1019.66 1009.3,1024.36 1009.85,1019.49 1010.4,1017.5 1010.95,1020.44 1011.5,1021.65 1012.05,1023.86 1012.6,1020.92 1013.15,1020.35 1013.7,1023.19 1014.25,1022.45 1014.8,1024.12 1015.35,1018.87 1015.9,1027.42 1016.45,1019.13 1017,1024.92 1017.55,1024.52 1018.1,1020.12 1018.65,1021.9 1019.2,1020.75 1019.75,1023.79 1020.3,1026.69 1020.85,1022.1 1021.4,1022.68 1021.95,1020.33 1022.5,1022.67 1023.05,1023.83 1023.6,1021.54 1024.15,1019.57 1024.7,1024.77 1025.25,1019.72 1025.8,1020.75 1026.35,1020.12 1026.9,1022.82 1027.45,1021.96 1028,1018.71 1028.55,1020.79 1029.1,1023.29 1029.65,1024.41 1030.2,1028.17 1030.75,1026.44 1031.3,1026.54 1031.85,1026.16 1032.4,1020.9 1032.95,1021.18 1033.5,1019.07 1034.05,1027.72 1034.6,1022.76 1035.15,1019.77 1035.7,1023.47 1036.25,1022.04 1036.8,1024.6 1037.35,1021.55 1037.9,1020.56 1038.45,1022.11 1039,1021.86 1039.55,1024.36 1040.1,1021.28 1040.65,1020.94 1041.2,1022.4 1041.75,1018.86 1042.3,1020.68 1042.85,1023.86 1043.4,1019.59 1043.95,1024.66 1044.5,1020.37 1045.05,1021.27 1045.6,1023.22 1046.15,1022.17 1046.7,1018.62 1047.25,1017.69 1047.8,1022.38 1048.35,1019.29 1048.9,1020.96 1049.45,1023.34 1050,1021.19 1050.55,1020.31 1051.1,1018.84 1051.65,1022.05 1052.2,1027.77 1052.75,1019.31 1053.3,1017.99 1053.85,1020.7 1054.4,1024.85 1054.95,1020.99 1055.5,1021.41 1056.05,1021.53 1056.6,1022.14 1057.15,1019.28 1057.7,1018.45 1058.25,1021.62 1058.8,1026.53 1059.35,1017.38 1059.9,1021.02 1060.45,1020.99 1061,1020.55 1061.55,1022.04 1062.1,1019.96 1062.65,1023.79 1063.2,1019.59 1063.75,1017.99 1064.3,1021.16 1064.85,1023.2 1065.4,1029.12 1065.95,1021.18 1066.5,1026.02 1067.05,1017.1 1067.6,1024.06 1068.15,1025.41 1068.7,1021.53 1069.25,1024.09 1069.8,1020.95 1070.35,1020.44 1070.9,1021.26 1071.45,1023.52 1072,1016.91 1072.55,1025.38 1073.1,1021.12 1073.65,1020.22 1074.2,1024.72 1074.75,1022.29 1075.3,1028.44 1075.85,1018.82 1076.4,1021.19 1076.95,1020.5 1077.5,1025.22 1078.05,1019.72 1078.6,1017.94 1079.15,1015.1 1079.7,1017.59 1080.25,1021.66 1080.8,1019.46 1081.35,1024.7 1081.9,1017.48 1082.45,1021.15 1083,1017.72 1083.55,1020.94 1084.1,1019.39 1084.65,1020.06 1085.2,1016.36 1085.75,1023.68 1086.3,1019.47 1086.85,1019.95 1087.4,1019.74 1087.95,1019.88 1088.5,1024.47 1089.05,1024.05 1089.6,1021.73 1090.15,1018.18 1090.7,1021.61 1091.25,1020.02 1091.8,1015.17 1092.35,1019.44 1092.9,1018.63 1093.45,1019.25 1094,1020.21 1094.55,1023.63 1095.1,1023.88 1095.65,1016.29 1096.2,1022.2 1096.75,1021.57 1097.3,1022.23 1097.85,1019.83 1098.4,1021.8 1098.95,1015.65 1099.5,1020.25 1100.05,1023.07 1100.6,1017.82 1101.15,1019.81 1101.7,1019.2 1102.25,1021.64 1102.8,1024.09 1103.35,1019.95 1103.9,1026.34 1104.45,1019.72 1105,1023.4 1105.55,1022.61 1106.1,1018.12 1106.65,1018.75 1107.2,1021.32 1107.75,1018.31 1108.3,1017.41 1108.85,1020.43 1109.4,1017.21 1109.95,1020.78 1110.5,1019.91 1111.05,1022.54 1111.6,1023.9 1112.15,1016.62 1112.7,1020.2 1113.25,1023.13 1113.8,1028.01 1114.35,1021.28 1114.9,1020.68 1115.45,1019.59 1116,1027.6 1116.55,1020.18 1117.1,1014.78 1117.65,1023.47 1118.2,1017.75 1118.75,1017.51 1119.3,1017.77 1119.85,1021.12 1120.4,1023.11 1120.95,1019.08 1121.5,1026 1122.05,1019.26 1122.6,1021.91 1123.15,1020.58 1123.7,1018.27 1124.25,1020.06 1124.8,1020.76 1125.35,1017.41 1125.9,1020.8 1126.45,1018.42 1127,1023.58 1127.55,1018.12 1128.1,1018.07 1128.65,1018.59 1129.2,1022.05 1129.75,1024.54 1130.3,1017.92 1130.85,1022.79 1131.4,1023.09 1131.95,1019.43 1132.5,1022.96 1133.05,1022.7 1133.6,1019.86 1134.15,1015.87 1134.7,1021.48 1135.25,1020.16 1135.8,1021.62 1136.35,1022.67 1136.9,1026.59 1137.45,1020.46 1138,1024.4 1138.55,1022.02 1139.1,1020.06 1139.65,1018.94 1140.2,1017.39 1140.75,1016.15 1141.3,1016.41 1141.85,1022.89 1142.4,1019.46 1142.95,1014.46 1143.5,1021.82 1144.05,1021.38 1144.6,1019.35 1145.15,1019.66 1145.7,1023.46 1146.25,1022.8 1146.8,1021.04 1147.35,1023.95 1147.9,1022.86 1148.45,1018.28 1149,1025.45 1149.55,1021.53 1150.1,1027.11 1150.65,1019.73 1151.2,1016.31 1151.75,1023.54 1152.3,1026.52 1152.85,1021.29 1153.4,1022.48 1153.95,1027.61 1154.5,1024.67 1155.05,1024.01 1155.6,1020.77 1156.15,1020.32 1156.7,1018.67 1157.25,1019.29 1157.8,1021.79 1158.35,1023.4 1158.9,1027.01 1159.45,1026.16 1160,1023.56 1160.55,1022.67 1161.1,1023.35 1161.65,1021.86 1162.2,1026.28 1162.75,1020.48 1163.3,1021.4 1163.85,1018.44 1164.4,1018.6 1164.95,1023.29 1165.5,1024.59 1166.05,1024.56 1166.6,1024.68 1167.15,1019.71 1167.7,1027.03 1168.25,1023.63 1168.8,1021.32 1169.35,1022.25 1169.9,1020.01 1170.45,1020.31 1171,1022.91 1171.55,1021.23 1172.1,1022.71 1172.65,1022.74 1173.2,1018.08 1173.75,1025.61 1174.3,1027.59 1174.85,1020.45 1175.4,1023.47 1175.95,1024.83 1176.5,1022.32 1177.05,1022.82 1177.6,1020.51 1178.15,1021.04 1178.7,1023.02 1179.25,1025.62 1179.8,1022.69 1180.35,1024.92 1180.9,1023.12 1181.45,1021.99 1182,1024.47 1182.55,1026.33 1183.1,1025.38 1183.65,1026.26 1184.2,1020.93 1184.75,1023.65 1185.3,1025.01 1185.85,1021.22 1186.4,1021.76 1186.95,1024.69 1187.5,1019.39 1188.05,1017.99 1188.6,1019.98 1189.15,1023.93 1189.7,1022.98 1190.25,1022.08 1190.8,1022.22 1191.35,1019.72 1191.9,1022.21 1192.45,1020.59 1193,1024.7 1193.55,1022.22 1194.1,1024.01 1194.65,1023.48 1195.2,1021.97 1195.75,1021.17 1196.3,1020.72 1196.85,1023.78 1197.4,1023.87 1197.95,1019.78 1198.5,1021.34 1199.05,1022.94 1199.6,1022.37 1200.15,1024.68 1200.7,1022.65 1201.25,1025.66 1201.8,1020.51 1202.35,1023.59 1202.9,1021.45 1203.45,1019.86 1204,1014.59 1204.55,1021.33 1205.1,1022.21 1205.65,1023.18 1206.2,1025.08 1206.75,1022.96 1207.3,1021.34 1207.85,1019.7 1208.4,1020.83 1208.95,1022.84 1209.5,1018.66 1210.05,1018.71 1210.6,1021.79 1211.15,1025.66 1211.7,1022.31 1212.25,1024.02 1212.8,1021.3 1213.35,1019.1 1213.9,1020.57 1214.45,1023.37 1215,1020.6 1215.55,1021.98 1216.1,1022.57 1216.65,1027.03 1217.2,1025.56 1217.75,1017.29 1218.3,1018.65 1218.85,1023.83 1219.4,1021.75 1219.95,1023.17 1220.5,1023.65 1221.05,1024.84 1221.6,1016.16 1222.15,1019.23 1222.7,1016.02 1223.25,1025.61 1223.8,1022.05 1224.35,1020.8 1224.9,1021.91 1225.45,1023.96 1226,1022.35 1226.55,1017.91 1227.1,1023.2 1227.65,1024.86 1228.2,1020.79 1228.75,1022.5 1229.3,1019.26 1229.85,1026.11 1230.4,1018.89 1230.95,1020.67 1231.5,1022.04 1232.05,1022.31 1232.6,1022.96 1233.15,1018.61 1233.7,1022.97 1234.25,1020.06 1234.8,1020.12 1235.35,1022.61 1235.9,1019.73 1236.45,1014.52 1237,1025.44 1237.55,1021.26 1238.1,1019.64 1238.65,1025.32 1239.2,1025.34 1239.75,1022.16 1240.3,1025.67 1240.85,1022.83 1241.4,1020.56 1241.95,1020.64 1242.5,1024.34 1243.05,1021.7 1243.6,1019.57 1244.15,1022.29 1244.7,1022.49 1245.25,1021.06 1245.8,1022.78 1246.35,1025.14 1246.9,1021.84 1247.45,1024.94 1248,1022.14 1248.55,1023.75 1249.1,1021.52 1249.65,1021.69 1250.2,1018.25 1250.75,1022.35 1251.3,1011.69 1251.85,1019.43 1252.4,1019.58 1252.95,1019.56 1253.5,1023.88 1254.05,1018.48 1254.6,1021.56 1255.15,1022.36 1255.7,1023.54 1256.25,1022.8 1256.8,1022.4 1257.35,1022.71 1257.9,1026.06 1258.45,1018.01 1259,1017.45"/>
<polyline fill="none" stroke="#a5502f" stroke-width="3.2" stroke-dasharray="10 6" points="772.8,1123.4 775.8,1126.39 778.8,1129.39 781.8,1132.39 784.8,1135.4 787.8,1138.41 790.8,1141.52 793.8,1144.67 796.8,1147.8 799.8,1150.86 802.8,1153.76 805.8,1156.46 808.8,1158.97 811.8,1161.36 814.8,1163.65 817.8,1165.87 820.8,1168.03 823.8,1170.17 826.8,1172.31 829.8,1174.47 832.8,1176.66 835.8,1178.85 838.8,1181.03 841.8,1183.2 844.8,1185.33 847.8,1187.42 850.8,1189.45 853.8,1191.42 856.8,1193.31 859.8,1195.16 862.8,1196.96 865.8,1198.73 868.8,1200.45 871.8,1202.13 874.8,1203.76 877.8,1205.35 880.8,1206.9 883.8,1208.4 886.8,1209.89 889.8,1211.35 892.8,1212.78 895.8,1214.19 898.8,1215.56 901.8,1216.91 904.8,1218.21 907.8,1219.48 910.8,1220.71 913.8,1221.9 916.8,1223.04 919.8,1224.16 922.8,1225.26 925.8,1226.34 928.8,1227.4 931.8,1228.43 934.8,1229.42 937.8,1230.38 940.8,1231.3 943.8,1232.17 946.8,1233 949.8,1233.78 952.8,1234.49 955.8,1235.14 958.8,1235.75 961.8,1236.33 964.8,1236.91 967.8,1237.52 970.8,1238.15 973.8,1238.79 976.8,1239.44 979.8,1240.1 982.8,1240.76 985.8,1241.42 988.8,1242.08 991.8,1242.73 994.8,1243.38 997.8,1244.02 1000.8,1244.66 1003.8,1245.28 1006.8,1245.88 1009.8,1246.47 1012.8,1247.04 1015.8,1247.58 1018.8,1248.11 1021.8,1248.63 1024.8,1249.14 1027.8,1249.65 1030.8,1250.15 1033.8,1250.63 1036.8,1251.11 1039.8,1251.59 1042.8,1252.05 1045.8,1252.51 1048.8,1252.96 1051.8,1253.41 1054.8,1253.84 1057.8,1254.28 1060.8,1254.7 1063.8,1255.12 1066.8,1255.53 1069.8,1255.94 1072.8,1256.34 1075.8,1256.74 1078.8,1257.14 1081.8,1257.54 1084.8,1257.94 1087.8,1258.34 1090.8,1258.74 1093.8,1259.13 1096.8,1259.51 1099.8,1259.89 1102.8,1260.26 1105.8,1260.62 1108.8,1260.96 1111.8,1261.29 1114.8,1261.61 1117.8,1261.9 1120.8,1262.18 1123.8,1262.44 1126.8,1262.68 1129.8,1262.9 1132.8,1263.11 1135.8,1263.31 1138.8,1263.5 1141.8,1263.69 1144.8,1263.87 1147.8,1264.04 1150.8,1264.21 1153.8,1264.37 1156.8,1264.53 1159.8,1264.68 1162.8,1264.82 1165.8,1264.96 1168.8,1265.1 1171.8,1265.24 1174.8,1265.37 1177.8,1265.5 1180.8,1265.63 1183.8,1265.75 1186.8,1265.88 1189.8,1266 1192.8,1266.12 1195.8,1266.24 1198.8,1266.36 1201.8,1266.47 1204.8,1266.59 1207.8,1266.7 1210.8,1266.81 1213.8,1266.92 1216.8,1267.02 1219.8,1267.12 1222.8,1267.22 1225.8,1267.32 1228.8,1267.41 1231.8,1267.5 1234.8,1267.59 1237.8,1267.67 1240.8,1267.75 1243.8,1267.83 1246.8,1267.9 1249.8,1267.97"/>
<polyline fill="none" stroke="#0000ff" stroke-width="2.8" stroke-linejoin="round" points="773.6,1040 773.6,1122 775,1108 776.5,1120 777.5,1106 779,1118 780.5,1110 776.2,1109.35 777,1112.81 777.8,1110.94 778.6,1113.35 779.4,1114.63 780.2,1120.53 781,1123.91 781.8,1125.76 782.6,1126.31 783.4,1127.43 784.2,1127.01 785,1130.45 785.8,1130.46 786.6,1130.83 787.4,1132.62 788.2,1133.59 789,1136.14 789.8,1136.99 790.6,1137.7 791.4,1138.7 792.2,1141.17 793,1142.2 793.8,1141 794.6,1143.55 795.4,1143.02 796.2,1144.36 797,1147.13 797.8,1149.48 798.6,1150.07 799.4,1150.05 800.2,1152.44 801,1153.56 801.8,1154.27 802.6,1155.82 803.4,1156.95 804.2,1157.67 805,1159.7 805.8,1159.89 806.6,1160.97 807.4,1162.58 808.2,1163.26 809,1165.07 809.8,1166.63 810.6,1167.53 811.4,1168.14 812.2,1169.52 813,1171.75 813.8,1172.38 814.6,1168.79 815.4,1171.6 816.2,1171.43 817,1170.73 817.8,1173.24 818.6,1173.36 819.4,1176.06 820.2,1177.25 821,1176.02 821.8,1175.13 822.6,1177.27 823.4,1179.72 824.2,1179.73 825,1181.56 825.8,1181.79 826.6,1181.51 827.4,1179.18 828.2,1182.59 829,1183 829.8,1181.77 830.6,1185.8 831.4,1186.01 832.2,1185.64 833,1187.54 833.8,1187.56 834.6,1187.67 835.4,1188.49 836.2,1187.64 837,1189.98 837.8,1190.66 838.6,1189.67 839.4,1191.16 840.2,1191.82 841,1190.75 841.8,1191.64 842.6,1192.46 843.4,1193.14 844.2,1193.76 845,1194.52 845.8,1193.26 846.6,1193.9 847.4,1193.98 848.2,1195.29 849,1194.6 849.8,1193.28 850.6,1194.92 851.4,1198.99 852.2,1199.44 853,1198.12 853.8,1200.27 854.6,1199.21 855.4,1198.28 856.2,1199.64 857,1199.96 857.8,1199.67 858.6,1199.44 859.4,1199.97 860.2,1201.56 861,1200.16 861.8,1199.96 862.6,1202.5 863.4,1204.92 864.2,1201.61 865,1201.97 865.8,1204.53 866.6,1203.64 867.4,1202.71 868.2,1204.59 869,1204.04 869.8,1203.32 870.6,1203.68 871.4,1203.27 872.2,1202.21 873,1205.43 873.8,1207.95 874.6,1207.1 875.4,1206.29 876.2,1207.05 877,1207.03 877.8,1205.5 878.6,1205.55 879.4,1207.67 880.2,1207.96 881,1206.75 881.8,1206.59 882.6,1209.22 883.4,1208.28 884.2,1209.93 885,1210.87 885.8,1209.42 886.6,1209.65 887.4,1210.72 888.2,1211.43 889,1211.71 889.8,1213.07 890.6,1213.44 891.4,1212.11 892.2,1212.03 893,1211.78 893.8,1212.08 894.6,1213.13 895.4,1211.39 896.2,1211.91 897,1214.19 897.8,1214.22 898.6,1213.41 899.4,1213.9 900.2,1214.36 901,1215.25 901.8,1213.61 902.6,1214.78 903.4,1216.86 904.2,1216.24 905,1215.83 905.8,1217.7 906.6,1220.63 907.4,1219.89 908.2,1219.25 909,1218.98 909.8,1219.66 910.6,1218.75 911.4,1218.86 912.2,1219.66 913,1223.43 913.8,1222.56 914.6,1220.59 915.4,1222.22 916.2,1222.64 917,1221.81 917.8,1223.59 918.6,1223.86 919.4,1222.39 920.2,1220.39 921,1221.39 921.8,1222.88 922.6,1222.86 923.4,1223.25 924.2,1225.24 925,1225.48 925.8,1225.84 926.6,1223.73 927.4,1224 928.2,1226.18 929,1224.98 929.8,1226.83 930.6,1225.32 931.4,1224.61 932.2,1227.22 933,1224.95 933.8,1226.27 934.6,1225.94 935.4,1225.27 936.2,1226.69 937,1227.39 937.8,1230.14 938.6,1227.98 939.4,1227.71 940.2,1227.01 941,1228.2 941.8,1226.45 942.6,1228.32 943.4,1229.61 944.2,1230.71 945,1231.5 945.8,1228.99 946.6,1229.76 947.4,1229.58 948.2,1229.37 949,1230.92 949.8,1231.41 950.6,1231.44 951.4,1231.11 952.2,1231.29 953,1230.33 953.8,1230.34 954.6,1231.94 955.4,1231.01 956.2,1230.85 957,1232.61 957.8,1232.7 958.6,1231.75 959.4,1232.63 960.2,1232.43 961,1232.8 961.8,1231.37 962.6,1232.87 963.4,1232.9 964.2,1233.11 965,1233.35 965.8,1233.13 966.6,1233.97 967.4,1234.79 968.2,1233.86 969,1235.43 969.8,1236.94 970.6,1235.83 971.4,1235.64 972.2,1237.28 973,1235.41 973.8,1234.47 974.6,1235.43 975.4,1236.27 976.2,1237.24 977,1237.38 977.8,1235.37 978.6,1237.34 979.4,1238.28 980.2,1237.24 981,1237.81 981.8,1237.57 982.6,1237.39 983.4,1237.4 984.2,1239.6 985,1238.5 985.8,1238.28 986.6,1239.4 987.4,1238.49 988.2,1238.55 989,1239.14 989.8,1241.1 990.6,1239.26 991.4,1239.21 992.2,1240.19 993,1239.97 993.8,1241.45 994.6,1241.07 995.4,1240.14 996.2,1241.28 997,1242.45 997.8,1240.77 998.6,1241.55 999.4,1242.36 1000.2,1241.7 1001,1240.76 1001.8,1242.14 1002.6,1242.86 1003.4,1241.36 1004.2,1241.15 1005,1243.66 1005.8,1242.57 1006.6,1240.21 1007.4,1241.36 1008.2,1239.3 1009,1243.66 1009.8,1243 1010.6,1244.88 1011.4,1243.79 1012.2,1243.41 1013,1244.74 1013.8,1241.14 1014.6,1241.6 1015.4,1243.53 1016.2,1244.74 1017,1243.76 1017.8,1245.21 1018.6,1245.29 1019.4,1244.72 1020.2,1243.19 1021,1242.57 1021.8,1244.11 1022.6,1244.64 1023.4,1245.03 1024.2,1242.95 1025,1244.44 1025.8,1242.21 1026.6,1245.05 1027.4,1248.11 1028.2,1247.36 1029,1247.41 1029.8,1247.3 1030.6,1248.63 1031.4,1247.35 1032.2,1247.01 1033,1248.2 1033.8,1246.65 1034.6,1246.3 1035.4,1247.85 1036.2,1248.22 1037,1250.01 1037.8,1247.43 1038.6,1248.24 1039.4,1248.71 1040.2,1247.28 1041,1249.41 1041.8,1249.25 1042.6,1249.44 1043.4,1248.65 1044.2,1247.56 1045,1248.67 1045.8,1249.28 1046.6,1250.07 1047.4,1249.57 1048.2,1252.07 1049,1251.4 1049.8,1249.17 1050.6,1249.72 1051.4,1251.76 1052.2,1251.39 1053,1249.84 1053.8,1249.86 1054.6,1251.43 1055.4,1252.85 1056.2,1251.16 1057,1252.3 1057.8,1251.38 1058.6,1253.12 1059.4,1252.38 1060.2,1250.43 1061,1250.99 1061.8,1251.79 1062.6,1252.77 1063.4,1253.55 1064.2,1253.34 1065,1251.72 1065.8,1252.1 1066.6,1252.29 1067.4,1252.63 1068.2,1252.48 1069,1251.98 1069.8,1255.12 1070.6,1254 1071.4,1251.28 1072.2,1252 1073,1254.27 1073.8,1254.49 1074.6,1252.99 1075.4,1254.25 1076.2,1256.41 1077,1253.58 1077.8,1253.29 1078.6,1254.77 1079.4,1255.69 1080.2,1255.14 1081,1255.42 1081.8,1253.84 1082.6,1255.45 1083.4,1254.53 1084.2,1252.42 1085,1253.99 1085.8,1254.99 1086.6,1254.07 1087.4,1254.12 1088.2,1255.28 1089,1255.01 1089.8,1254.51 1090.6,1255.89 1091.4,1256.47 1092.2,1254.98 1093,1255.23 1093.8,1255.15 1094.6,1255.8 1095.4,1256.8 1096.2,1257.37 1097,1256.26 1097.8,1256.34 1098.6,1255.74 1099.4,1256.87 1100.2,1257.25 1101,1256.5 1101.8,1256.95 1102.6,1255.26 1103.4,1255.05 1104.2,1256.47 1105,1258.25 1105.8,1257.16 1106.6,1257.23 1107.4,1258.56 1108.2,1257.26 1109,1257.49 1109.8,1257.17 1110.6,1259.34 1111.4,1258.83 1112.2,1258.63 1113,1257.6 1113.8,1257.86 1114.6,1257.66 1115.4,1259.07 1116.2,1257.59 1117,1259.51 1117.8,1259.44 1118.6,1259.08 1119.4,1258.16 1120.2,1258.53 1121,1258.98 1121.8,1258.84 1122.6,1259.21 1123.4,1257.79 1124.2,1255.61 1125,1258.43 1125.8,1258.07 1126.6,1259.07 1127.4,1258.23 1128.2,1258.23 1129,1261.47 1129.8,1262.29 1130.6,1261.12 1131.4,1259.28 1132.2,1260.53 1133,1258.29 1133.8,1260.41 1134.6,1260.29 1135.4,1259.12 1136.2,1260 1137,1259.86 1137.8,1259.52 1138.6,1261.12 1139.4,1261.09 1140.2,1260.04 1141,1260.9 1141.8,1261.76 1142.6,1262.15 1143.4,1261.31 1144.2,1260.44 1145,1262.13 1145.8,1261.94 1146.6,1262.09 1147.4,1260.77 1148.2,1260.13 1149,1261.63 1149.8,1262.45 1150.6,1262.9 1151.4,1263.73 1152.2,1264.32 1153,1262.83 1153.8,1262.47 1154.6,1263.54 1155.4,1263.48 1156.2,1263.16 1157,1265.1 1157.8,1265.39 1158.6,1262.2 1159.4,1261.99 1160.2,1262.9 1161,1265.24 1161.8,1263.01 1162.6,1263.58 1163.4,1264.43 1164.2,1262.24 1165,1264.63 1165.8,1262.09 1166.6,1262.67 1167.4,1262.57 1168.2,1265.32 1169,1264.76 1169.8,1266.6 1170.6,1265.7 1171.4,1263.39 1172.2,1262.7 1173,1264.85 1173.8,1267.06 1174.6,1266.12 1175.4,1265.16 1176.2,1265.24 1177,1265.51 1177.8,1265.79 1178.6,1265.47 1179.4,1265.44 1180.2,1265.39 1181,1265.79 1181.8,1265 1182.6,1265.7 1183.4,1267.13 1184.2,1267.23 1185,1265.86 1185.8,1267.41 1186.6,1269.12 1187.4,1266.35 1188.2,1267.62 1189,1268.82 1189.8,1267.38 1190.6,1265.43 1191.4,1267.48 1192.2,1269.31 1193,1269.46 1193.8,1269.63 1194.6,1269.81 1195.4,1268.86 1196.2,1269.47 1197,1270.33 1197.8,1269.5 1198.6,1269.33 1199.4,1270.21 1200.2,1269.86 1201,1267.75 1201.8,1269.48 1202.6,1271.06 1203.4,1270.49 1204.2,1270.12 1205,1270.96 1205.8,1268.29 1206.6,1269.29 1207.4,1269.21 1208.2,1270.41 1209,1270.31 1209.8,1272.42 1210.6,1271.81 1211.4,1268.98 1212.2,1268.53 1213,1271.53 1213.8,1273.11 1214.6,1271.79 1215.4,1270.77 1216.2,1271.51 1217,1270.85 1217.8,1267.25 1218.6,1267.97 1219.4,1270.25 1220.2,1271.45 1221,1271.83 1221.8,1272.3 1222.6,1270.74 1223.4,1270.27 1224.2,1270.78 1225,1272.08 1225.8,1270.41 1226.6,1269.97 1227.4,1272.13 1228.2,1271.97 1229,1272.1 1229.8,1270.6 1230.6,1271.82 1231.4,1273.81 1232.2,1273.76 1233,1273.28 1233.8,1272.98 1234.6,1273.06 1235.4,1273.29 1236.2,1275.09 1237,1275.34 1237.8,1273.54 1238.6,1273.03 1239.4,1272.94 1240.2,1271.95 1241,1272.45 1241.8,1272.97 1242.6,1273.97 1243.4,1273.5 1244.2,1273.37 1245,1273.17 1245.8,1273.08 1246.6,1273.82 1247.4,1272.75 1248.2,1273.26 1249,1272.79 1249.8,1271.89 1250.6,1273.17 1251.4,1272.89 1252.2,1271.72 1253,1271.74 1253.8,1272.19 1254.6,1273.82 1255.4,1272.46 1256.2,1272.09 1257,1273.62 1257.8,1275.48 1258.6,1273.95"/>
<text x="753.3" y="986.6" font-size="25" text-anchor="end" font-weight="bold" >0.5</text>
<text x="753.3" y="1046.44" font-size="25" text-anchor="end" font-weight="bold" >0.0</text>
<text x="753.3" y="1106.28" font-size="25" text-anchor="end" font-weight="bold" >−0.5</text>
<text x="753.3" y="1166.12" font-size="25" text-anchor="end" font-weight="bold" >−1.0</text>
<text x="753.3" y="1225.96" font-size="25" text-anchor="end" font-weight="bold" >−1.5</text>
<text x="753.3" y="1285.8" font-size="25" text-anchor="end" font-weight="bold" >−2.0</text>
<text x="772.8" y="1342.6" font-size="25" text-anchor="middle" font-weight="bold" >0</text>
<text x="894.05" y="1342.6" font-size="25" text-anchor="middle" font-weight="bold" >5</text>
<text x="1015.3" y="1342.6" font-size="25" text-anchor="middle" font-weight="bold" >10</text>
<text x="1136.55" y="1342.6" font-size="25" text-anchor="middle" font-weight="bold" >15</text>
<text x="1257.8" y="1342.6" font-size="25" text-anchor="middle" font-weight="bold" >20</text>
<text x="1015.6" y="1385.6" font-size="26.5" text-anchor="middle" font-weight="bold" >Time (min)</text>
<text transform="translate(670.7 1140) rotate(-90)" text-anchor="middle" font-size="25" font-weight="bold">Wavelength shift (<tspan font-style="italic" font-weight="normal">λ</tspan>-<tspan font-style="italic" font-weight="normal">λ</tspan><tspan font-size="17" dy="5">0</tspan><tspan dy="-5">) nm</tspan></text>
<text x="1108" y="1096.7" font-size="25" font-weight="bold" fill="#5c5c5c" >– Albumin</text>
<text x="1108" y="1142.6" font-size="25" font-weight="bold" fill="#0000ff" >+ Albumin</text>
</g>
<g id="ph">
<text x="1320.5" y="956.6" font-size="43" font-weight="bold" >h</text>
<defs>
<filter id="afmL" x="0" y="0" width="1" height="1" filterUnits="objectBoundingBox" color-interpolation-filters="sRGB"><feGaussianBlur in="SourceGraphic" stdDeviation="2.8" result="b"/><feTurbulence type="fractalNoise" baseFrequency="0.25 0.012" numOctaves="2" seed="4" result="n"/><feColorMatrix in="n" type="matrix" values="0.05 0 0 0 0  0.05 0 0 0 0  0.05 0 0 0 0  0 0 0 0 1" result="ng"/><feComposite in="b" in2="ng" operator="arithmetic" k1="0" k2="1" k3="1" k4="-0.025"/><feComponentTransfer><feFuncR type="table" tableValues="0.220 0.345 0.447 0.596 0.753 0.855 0.894 0.910 0.922 0.941 0.969 0.988 1.000"/><feFuncG type="table" tableValues="0.078 0.133 0.149 0.173 0.243 0.384 0.510 0.627 0.745 0.847 0.925 0.969 1.000"/><feFuncB type="table" tableValues="0.345 0.412 0.439 0.400 0.275 0.157 0.118 0.110 0.118 0.165 0.329 0.647 0.965"/></feComponentTransfer></filter>
<filter id="afmR" x="0" y="0" width="1" height="1" filterUnits="objectBoundingBox" color-interpolation-filters="sRGB"><feGaussianBlur in="SourceGraphic" stdDeviation="2.3" result="b"/><feTurbulence type="fractalNoise" baseFrequency="0.05" numOctaves="2" seed="7" result="n0"/><feGaussianBlur in="n0" stdDeviation="1.2" result="n"/><feColorMatrix in="n" type="matrix" values="0.42 0 0 0 0  0.42 0 0 0 0  0.42 0 0 0 0  0 0 0 0 1" result="ng"/><feComposite in="b" in2="ng" operator="arithmetic" k1="0" k2="1" k3="1" k4="-0.192"/><feComponentTransfer><feFuncR type="table" tableValues="0.220 0.345 0.447 0.596 0.753 0.855 0.894 0.910 0.922 0.941 0.969 0.988 1.000"/><feFuncG type="table" tableValues="0.078 0.133 0.149 0.173 0.243 0.384 0.510 0.627 0.745 0.847 0.925 0.969 1.000"/><feFuncB type="table" tableValues="0.345 0.412 0.439 0.400 0.275 0.157 0.118 0.110 0.118 0.165 0.329 0.647 0.965"/></feComponentTransfer></filter>
<clipPath id="clL"><rect x="1336.3" y="971.4" width="182.9" height="373.2"/></clipPath>
<clipPath id="clR"><rect x="1531.7" y="971.4" width="269.7" height="373.4"/></clipPath>
<linearGradient id="cbar" x1="0" y1="1" x2="0" y2="0">
<stop offset="0" stop-color="#5a2370"/>
<stop offset="0.08" stop-color="#6a2472"/>
<stop offset="0.18" stop-color="#85276a"/>
<stop offset="0.27" stop-color="#a03a52"/>
<stop offset="0.345" stop-color="#b04a32"/>
<stop offset="0.43" stop-color="#b8622a"/>
<stop offset="0.51" stop-color="#ba7a2c"/>
<stop offset="0.59" stop-color="#c0982e"/>
<stop offset="0.672" stop-color="#c9b02a"/>
<stop offset="0.75" stop-color="#d6c830"/>
<stop offset="0.83" stop-color="#e4de54"/>
<stop offset="0.91" stop-color="#f1efa0"/>
<stop offset="0.985" stop-color="#ffffff"/>
<stop offset="1" stop-color="#ffffff"/>
</linearGradient>
</defs>
<g clip-path="url(#clL)"><g filter="url(#afmL)">
<rect x="1326" y="961" width="203" height="394" fill="#151515"/>
<rect x="1420.15" y="971.21" width="26.51" height="373.49" fill="#101010"/>
<path d="M1433.4 994.18C1433.45 1001.55 1433.75 1024.13 1433.7 1038.37C1433.65 1052.6 1432.96 1064.87 1433.11 1079.6C1433.25 1094.33 1434.24 1110.53 1434.58 1126.73C1434.92 1142.93 1435.27 1161.83 1435.17 1176.8C1435.07 1191.78 1434.24 1202.82 1433.99 1216.57C1433.75 1230.31 1433.84 1244.8 1433.7 1259.28C1433.55 1273.76 1433.4 1288.98 1433.11 1303.46C1432.81 1317.94 1432.13 1339.05 1431.93 1346.17" fill="none" stroke="#404040" stroke-width="17" stroke-linecap="round" stroke-linejoin="round" />
<path d="M1345.04 1033.95C1348.72 1029.53 1359.03 1016.76 1367.13 1007.44C1375.23 998.11 1389.22 982.89 1393.64 977.98" fill="none" stroke="#383838" stroke-width="14" stroke-linecap="round" stroke-linejoin="round" />
<path d="M1433.4 994.18C1433.45 1001.55 1433.75 1024.13 1433.7 1038.37C1433.65 1052.6 1432.96 1064.87 1433.11 1079.6C1433.25 1094.33 1434.24 1110.53 1434.58 1126.73C1434.92 1142.93 1435.27 1161.83 1435.17 1176.8C1435.07 1191.78 1434.24 1202.82 1433.99 1216.57C1433.75 1230.31 1433.84 1244.8 1433.7 1259.28C1433.55 1273.76 1433.4 1288.98 1433.11 1303.46C1432.81 1317.94 1432.13 1339.05 1431.93 1346.17" fill="none" stroke="#8f8f8f" stroke-width="9" stroke-linecap="round" stroke-linejoin="round" />
<path d="M1345.04 1033.95C1348.72 1029.53 1359.03 1016.76 1367.13 1007.44C1375.23 998.11 1389.22 982.89 1393.64 977.98" fill="none" stroke="#808080" stroke-width="7" stroke-linecap="round" stroke-linejoin="round" />
<path d="M1414.26 1129.09C1417.45 1128.45 1430.21 1125.9 1433.4 1125.26" fill="none" stroke="#6b6b6b" stroke-width="6" stroke-linecap="round" stroke-linejoin="round" />
<circle cx="1433.4" cy="1000.07" r="4.6" fill="#999999"/>
<circle cx="1433.4" cy="1035.42" r="4.6" fill="#9e9e9e"/>
<circle cx="1432.81" cy="1057.51" r="4.8" fill="#a3a3a3"/>
<circle cx="1434.29" cy="1079.6" r="4.4" fill="#949494"/>
<circle cx="1434.29" cy="1095.8" r="4.2" fill="#949494"/>
<circle cx="1434.29" cy="1125.26" r="4.8" fill="#999999"/>
<circle cx="1435.46" cy="1176.8" r="4.8" fill="#9e9e9e"/>
<circle cx="1434.29" cy="1216.57" r="5" fill="#a8a8a8"/>
<circle cx="1434.29" cy="1203.31" r="4.2" fill="#949494"/>
<circle cx="1433.4" cy="1300.52" r="4.6" fill="#9e9e9e"/>
<circle cx="1432.81" cy="1318.19" r="4.6" fill="#9e9e9e"/>
<circle cx="1433.7" cy="1274.01" r="4.2" fill="#8f8f8f"/>
<circle cx="1433.7" cy="1150.29" r="4.2" fill="#8f8f8f"/>
<circle cx="1433.99" cy="1244.55" r="4.2" fill="#8c8c8c"/>
<circle cx="1367.13" cy="1007.44" r="4.6" fill="#8c8c8c"/>
<circle cx="1380.38" cy="991.24" r="4" fill="#808080"/>
<circle cx="1352.4" cy="1025.11" r="3.8" fill="#7a7a7a"/>
<circle cx="1468.75" cy="1104.05" r="7.2" fill="#999999"/>
<circle cx="1413.67" cy="1129.68" r="6" fill="#858585"/>
<circle cx="1424.57" cy="1293.15" r="6.2" fill="#8c8c8c"/>
<path d="M1502.62 1101.69C1505.42 1102.53 1516.61 1105.87 1519.41 1106.7" fill="none" stroke="#333333" stroke-width="3.5" stroke-linecap="round" stroke-linejoin="round" />
</g></g>
<line x1="1336.3" y1="972" x2="1519.2" y2="972" stroke="#1a0a20" stroke-width="1.6"/>
<g clip-path="url(#clR)"><g filter="url(#afmR)">
<rect x="1521" y="961" width="291" height="395" fill="#141414"/>
<path d="M1555.92 1013.16C1558.55 1016.27 1565.74 1024.89 1571.72 1031.84C1577.71 1038.78 1584.42 1046.93 1591.84 1054.83C1599.26 1062.73 1610.28 1072.55 1616.26 1079.25C1622.25 1085.96 1622.73 1088.59 1627.76 1095.06C1632.79 1101.52 1640.69 1110.86 1646.44 1118.05C1652.18 1125.23 1656.49 1132.17 1662.24 1138.16C1667.99 1144.15 1673.5 1148.22 1680.92 1153.97C1688.34 1159.71 1698.64 1166.18 1706.78 1172.64C1714.92 1179.11 1722.83 1183.9 1729.77 1192.76C1736.71 1201.62 1742.7 1217.18 1748.45 1225.8C1754.2 1234.43 1758.75 1238.26 1764.25 1244.48C1769.76 1250.71 1775.03 1255.74 1781.49 1263.16C1787.96 1270.58 1799.45 1284.71 1803.05 1289.02" fill="none" stroke="#424242" stroke-width="16.5" stroke-linecap="round" stroke-linejoin="round" />
<path d="M1675.17 1149.66C1679.96 1152.29 1694.09 1161.39 1703.91 1165.46C1713.73 1169.53 1724.26 1169.53 1734.08 1174.08C1743.9 1178.63 1753.72 1189.41 1762.82 1192.76C1771.92 1196.11 1784.37 1193.96 1788.68 1194.2" fill="none" stroke="#404040" stroke-width="15" stroke-linecap="round" stroke-linejoin="round" />
<path d="M1601.9 1220.92C1605.01 1220.3 1611.24 1218.91 1620.57 1217.18C1629.91 1215.46 1647.87 1212.16 1657.93 1210.57C1667.99 1208.99 1674.21 1208.75 1680.92 1207.7C1687.62 1206.65 1689.54 1206.17 1698.16 1204.25C1706.78 1202.34 1726.9 1197.55 1732.64 1196.21" fill="none" stroke="#424242" stroke-width="17.5" stroke-linecap="round" stroke-linejoin="round" />
<path d="M1596.15 1146.78C1600.22 1149.18 1610.76 1155.5 1620.57 1161.15C1630.39 1166.8 1649.31 1177.43 1655.06 1180.69" fill="none" stroke="#3b3b3b" stroke-width="13" stroke-linecap="round" stroke-linejoin="round" />
<path d="M1773.45 1119.48C1772.87 1121.16 1768.66 1124.99 1770 1129.54C1771.34 1134.09 1778.62 1140.56 1781.49 1146.78C1784.37 1153.01 1785.71 1159.23 1787.24 1166.9C1788.77 1174.56 1789.25 1185.1 1790.69 1192.76C1792.13 1200.42 1793.8 1206.89 1795.86 1212.87C1797.92 1218.86 1801.85 1226.04 1803.05 1228.68" fill="none" stroke="#424242" stroke-width="16.5" stroke-linecap="round" stroke-linejoin="round" />
<path d="M1762.82 1027.53C1769.52 1027.82 1796.34 1028.97 1803.05 1029.25" fill="none" stroke="#2e2e2e" stroke-width="8" stroke-linecap="round" stroke-linejoin="round" />
<path d="M1660.8 1179.83C1660.42 1184.47 1658.89 1203.06 1658.51 1207.7" fill="none" stroke="#3b3b3b" stroke-width="11.5" stroke-linecap="round" stroke-linejoin="round" />
<path d="M1681.49 1174.08C1681.97 1179.68 1683.89 1202.1 1684.37 1207.7" fill="none" stroke="#3b3b3b" stroke-width="11.5" stroke-linecap="round" stroke-linejoin="round" />
<path d="M1741.26 1212.87C1745.1 1213.59 1757.07 1215.99 1764.25 1217.18C1771.44 1218.38 1777.9 1220.06 1784.37 1220.06C1790.83 1220.06 1799.93 1217.66 1803.05 1217.18" fill="none" stroke="#404040" stroke-width="15" stroke-linecap="round" stroke-linejoin="round" />
<path d="M1555.92 1013.16C1558.55 1016.27 1565.74 1024.89 1571.72 1031.84C1577.71 1038.78 1584.42 1046.93 1591.84 1054.83C1599.26 1062.73 1610.28 1072.55 1616.26 1079.25C1622.25 1085.96 1622.73 1088.59 1627.76 1095.06C1632.79 1101.52 1640.69 1110.86 1646.44 1118.05C1652.18 1125.23 1656.49 1132.17 1662.24 1138.16C1667.99 1144.15 1673.5 1148.22 1680.92 1153.97C1688.34 1159.71 1698.64 1166.18 1706.78 1172.64C1714.92 1179.11 1722.83 1183.9 1729.77 1192.76C1736.71 1201.62 1742.7 1217.18 1748.45 1225.8C1754.2 1234.43 1758.75 1238.26 1764.25 1244.48C1769.76 1250.71 1775.03 1255.74 1781.49 1263.16C1787.96 1270.58 1799.45 1284.71 1803.05 1289.02" fill="none" stroke="#8c8c8c" stroke-width="8.4" stroke-linecap="round" stroke-linejoin="round" />
<path d="M1675.17 1149.66C1679.96 1152.29 1694.09 1161.39 1703.91 1165.46C1713.73 1169.53 1724.26 1169.53 1734.08 1174.08C1743.9 1178.63 1753.72 1189.41 1762.82 1192.76C1771.92 1196.11 1784.37 1193.96 1788.68 1194.2" fill="none" stroke="#8a8a8a" stroke-width="7.8" stroke-linecap="round" stroke-linejoin="round" />
<path d="M1601.9 1220.92C1605.01 1220.3 1611.24 1218.91 1620.57 1217.18C1629.91 1215.46 1647.87 1212.16 1657.93 1210.57C1667.99 1208.99 1674.21 1208.75 1680.92 1207.7C1687.62 1206.65 1689.54 1206.17 1698.16 1204.25C1706.78 1202.34 1726.9 1197.55 1732.64 1196.21" fill="none" stroke="#9e9e9e" stroke-width="9.8" stroke-linecap="round" stroke-linejoin="round" />
<path d="M1596.15 1146.78C1600.22 1149.18 1610.76 1155.5 1620.57 1161.15C1630.39 1166.8 1649.31 1177.43 1655.06 1180.69" fill="none" stroke="#858585" stroke-width="6.2" stroke-linecap="round" stroke-linejoin="round" />
<path d="M1773.45 1119.48C1772.87 1121.16 1768.66 1124.99 1770 1129.54C1771.34 1134.09 1778.62 1140.56 1781.49 1146.78C1784.37 1153.01 1785.71 1159.23 1787.24 1166.9C1788.77 1174.56 1789.25 1185.1 1790.69 1192.76C1792.13 1200.42 1793.8 1206.89 1795.86 1212.87C1797.92 1218.86 1801.85 1226.04 1803.05 1228.68" fill="none" stroke="#9e9e9e" stroke-width="9" stroke-linecap="round" stroke-linejoin="round" />
<path d="M1762.82 1027.53C1769.52 1027.82 1796.34 1028.97 1803.05 1029.25" fill="none" stroke="#787878" stroke-width="4" stroke-linecap="round" stroke-linejoin="round" />
<path d="M1660.8 1179.83C1660.42 1184.47 1658.89 1203.06 1658.51 1207.7" fill="none" stroke="#8a8a8a" stroke-width="6" stroke-linecap="round" stroke-linejoin="round" />
<path d="M1681.49 1174.08C1681.97 1179.68 1683.89 1202.1 1684.37 1207.7" fill="none" stroke="#8a8a8a" stroke-width="6" stroke-linecap="round" stroke-linejoin="round" />
<path d="M1741.26 1212.87C1745.1 1213.59 1757.07 1215.99 1764.25 1217.18C1771.44 1218.38 1777.9 1220.06 1784.37 1220.06C1790.83 1220.06 1799.93 1217.66 1803.05 1217.18" fill="none" stroke="#9e9e9e" stroke-width="8.2" stroke-linecap="round" stroke-linejoin="round" />
<circle cx="1606.21" cy="1095.06" r="4.1" fill="#333333"/>
<circle cx="1721.15" cy="1299.08" r="4.1" fill="#333333"/>
<circle cx="1680.92" cy="1046.21" r="4.1" fill="#333333"/>
<circle cx="1640.69" cy="1267.47" r="4.3" fill="#363636"/>
<circle cx="1545.86" cy="1046.21" r="4.3" fill="#363636"/>
<circle cx="1772.87" cy="1319.2" r="4.3" fill="#363636"/>
<circle cx="1706.78" cy="1270.34" r="5" fill="#404040"/>
<circle cx="1617.7" cy="1333.56" r="5.2" fill="#404040"/>
<circle cx="1567.41" cy="1243.05" r="4.7" fill="#424242"/>
<circle cx="1745.57" cy="1044.77" r="5" fill="#424242"/>
<circle cx="1544.43" cy="1238.74" r="5.2" fill="#474747"/>
<circle cx="1565.98" cy="1221.49" r="5" fill="#666666"/>
<circle cx="1568.85" cy="1129.54" r="5" fill="#808080"/>
<circle cx="1680.92" cy="1154.83" r="6.1" fill="#9e9e9e"/>
<circle cx="1695.86" cy="1220.06" r="5.6" fill="#a3a3a3"/>
<circle cx="1604.77" cy="1067.76" r="5.9" fill="#adadad"/>
<circle cx="1629.2" cy="1133.85" r="7.2" fill="#adadad"/>
<circle cx="1803.05" cy="1149.66" r="6.8" fill="#adadad"/>
<circle cx="1792.99" cy="1276.09" r="6.3" fill="#adadad"/>
<circle cx="1787.24" cy="1169.77" r="7.2" fill="#b8b8b8"/>
<circle cx="1606.21" cy="1220.06" r="6.1" fill="#b8b8b8"/>
<circle cx="1732.64" cy="1196.21" r="6.6" fill="#b8b8b8"/>
<circle cx="1662.24" cy="1138.16" r="7.5" fill="#bdbdbd"/>
<circle cx="1603.33" cy="1149.66" r="6.1" fill="#bdbdbd"/>
<circle cx="1591.84" cy="1054.83" r="7.2" fill="#c2c2c2"/>
<circle cx="1616.26" cy="1079.25" r="7" fill="#c7c7c7"/>
<circle cx="1790.11" cy="1192.76" r="8.4" fill="#c7c7c7"/>
<circle cx="1620.57" cy="1217.18" r="6.8" fill="#c7c7c7"/>
<circle cx="1718.28" cy="1199.94" r="6.6" fill="#c7c7c7"/>
<circle cx="1646.44" cy="1118.05" r="7.5" fill="#cccccc"/>
<circle cx="1596.15" cy="1146.78" r="7.2" fill="#cccccc"/>
<circle cx="1640.69" cy="1213.45" r="7" fill="#cccccc"/>
<circle cx="1627.76" cy="1095.06" r="7.2" fill="#d1d1d1"/>
<circle cx="1657.93" cy="1210.57" r="7.2" fill="#d1d1d1"/>
<circle cx="1773.45" cy="1117.47" r="6.8" fill="#d6d6d6"/>
<circle cx="1780.06" cy="1262.3" r="8.1" fill="#d6d6d6"/>
<circle cx="1698.16" cy="1204.25" r="7.5" fill="#d6d6d6"/>
<circle cx="1555.92" cy="1013.16" r="8.4" fill="#dbdbdb"/>
<circle cx="1803.05" cy="1218.62" r="9.5" fill="#dbdbdb"/>
<circle cx="1571.72" cy="1031.84" r="8.6" fill="#e0e0e0"/>
<circle cx="1762.82" cy="1192.76" r="8.4" fill="#e0e0e0"/>
<circle cx="1795.86" cy="1212.87" r="9.5" fill="#e0e0e0"/>
<circle cx="1680.92" cy="1207.7" r="8.4" fill="#e0e0e0"/>
<circle cx="1764.25" cy="1244.48" r="9.9" fill="#ffffff"/>
<circle cx="1659.37" cy="973.22" r="14.7" fill="#ffffff"/>
<circle cx="1734.08" cy="1174.08" r="9.3" fill="#ffffff"/>
<circle cx="1660.8" cy="1179.83" r="8.8" fill="#ffffff"/>
<circle cx="1781.49" cy="1146.78" r="10.8" fill="#ffffff"/>
<circle cx="1770" cy="1129.54" r="11.3" fill="#ffffff"/>
<circle cx="1748.45" cy="1225.8" r="10.8" fill="#ffffff"/>
</g></g>
<rect x="1545.9" y="1312" width="58.3" height="10" fill="#fff"/>
<rect x="1823.8" y="975.8" width="17.2" height="372.4" fill="url(#cbar)" stroke="#8a8a8a" stroke-width="1"/>
<line x1="1823.8" y1="977.8" x2="1841" y2="977.8" stroke="#3a2a2a" stroke-width="1.2" opacity="0.75"/>
<line x1="1823.8" y1="1098.8" x2="1841" y2="1098.8" stroke="#3a2a2a" stroke-width="1.2" opacity="0.75"/>
<line x1="1823.8" y1="1219.9" x2="1841" y2="1219.9" stroke="#3a2a2a" stroke-width="1.2" opacity="0.75"/>
<line x1="1823.8" y1="1341" x2="1841" y2="1341" stroke="#3a2a2a" stroke-width="1.2" opacity="0.75"/>
<text x="1852.4" y="987.7" font-size="25" >6</text>
<text x="1852.4" y="1108.7" font-size="25" >4</text>
<text x="1852.4" y="1229.8" font-size="25" >2</text>
<text x="1852.4" y="1350.9" font-size="25" >0</text>
<text transform="translate(1899 1161) rotate(90)" text-anchor="middle" font-size="25">Height (nm)</text>
<text x="1375" y="959.6" font-size="25" >–Albumin</text>
<text x="1613" y="959.6" font-size="25" >+Albumin</text>
</g>
</svg>
</body></html>
